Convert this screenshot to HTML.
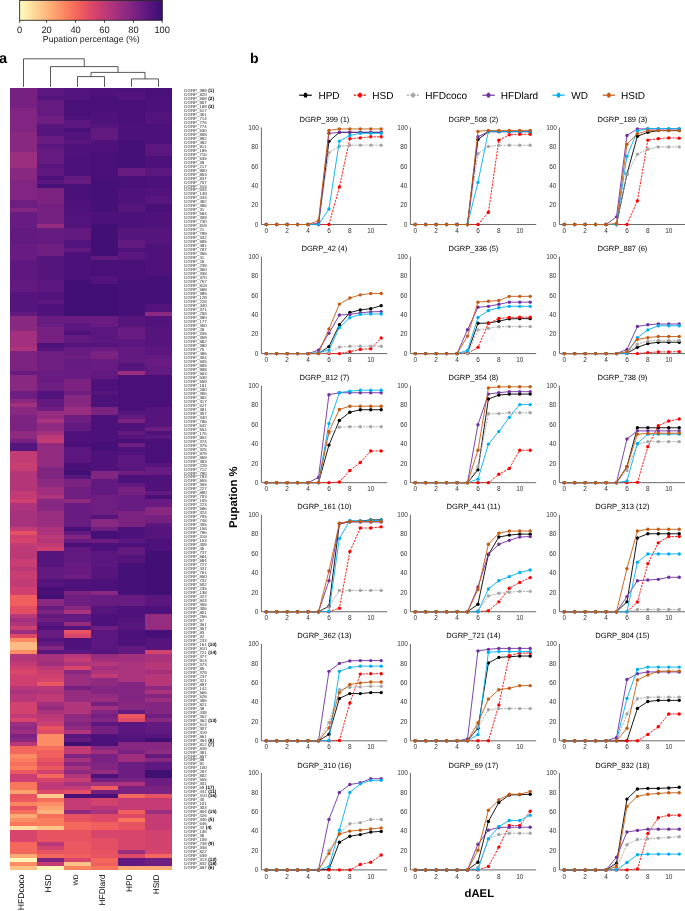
<!DOCTYPE html>
<html><head><meta charset="utf-8"><title>Figure</title>
<style>html,body{margin:0;padding:0;background:#fff}svg{display:block;will-change:transform}text{font-family:"Liberation Sans",sans-serif;text-rendering:geometricPrecision}.tk text{text-rendering:auto}</style></head>
<body>
<svg width="685" height="911" viewBox="0 0 685 911" font-family="Liberation Sans, sans-serif">
<rect width="685" height="911" fill="#fff"/>
<defs><linearGradient id="cb" x1="0" x2="1" y1="0" y2="0">
<stop offset="0%" stop-color="#fcfdbf"/>
<stop offset="5%" stop-color="#fdebac"/>
<stop offset="10%" stop-color="#fed89a"/>
<stop offset="15%" stop-color="#fec68a"/>
<stop offset="20%" stop-color="#feb47b"/>
<stop offset="25%" stop-color="#fe9f6d"/>
<stop offset="30%" stop-color="#fc8c63"/>
<stop offset="35%" stop-color="#f9795d"/>
<stop offset="40%" stop-color="#f4675c"/>
<stop offset="45%" stop-color="#ea5661"/>
<stop offset="50%" stop-color="#de4968"/>
<stop offset="55%" stop-color="#cf4070"/>
<stop offset="60%" stop-color="#bf3a77"/>
<stop offset="65%" stop-color="#ad347c"/>
<stop offset="70%" stop-color="#9c2e7f"/>
<stop offset="75%" stop-color="#8c2981"/>
<stop offset="80%" stop-color="#7c2382"/>
<stop offset="85%" stop-color="#6b1d81"/>
<stop offset="90%" stop-color="#5c167f"/>
<stop offset="95%" stop-color="#4c117a"/>
<stop offset="100%" stop-color="#3b0f70"/>
</linearGradient></defs>
<rect x="19.7" y="0.35" width="142.6" height="19.9" fill="url(#cb)" stroke="#111" stroke-width="0.8"/>
<line x1="19.7" y1="20.2" x2="19.7" y2="22.9" stroke="#000" stroke-width="0.7"/>
<text x="19.7" y="32.9" font-size="9.3" text-anchor="middle" fill="#1a1a1a">0</text>
<line x1="46.6" y1="20.2" x2="46.6" y2="22.9" stroke="#000" stroke-width="0.7"/>
<text x="46.6" y="32.9" font-size="9.3" text-anchor="middle" fill="#1a1a1a">20</text>
<line x1="75.6" y1="20.2" x2="75.6" y2="22.9" stroke="#000" stroke-width="0.7"/>
<text x="75.6" y="32.9" font-size="9.3" text-anchor="middle" fill="#1a1a1a">40</text>
<line x1="104.5" y1="20.2" x2="104.5" y2="22.9" stroke="#000" stroke-width="0.7"/>
<text x="104.5" y="32.9" font-size="9.3" text-anchor="middle" fill="#1a1a1a">60</text>
<line x1="133.4" y1="20.2" x2="133.4" y2="22.9" stroke="#000" stroke-width="0.7"/>
<text x="133.4" y="32.9" font-size="9.3" text-anchor="middle" fill="#1a1a1a">80</text>
<line x1="162.2" y1="20.2" x2="162.2" y2="22.9" stroke="#000" stroke-width="0.7"/>
<text x="162.2" y="32.9" font-size="9.3" text-anchor="middle" fill="#1a1a1a">100</text>
<text x="91.2" y="41.6" font-size="8.75" text-anchor="middle" fill="#1a1a1a">Pupation percentage (%)</text>
<text x="-0.9" y="63.2" font-size="14.6" font-weight="bold" fill="#000">a</text>
<text x="249.9" y="63.2" font-size="14" font-weight="bold" fill="#000">b</text>
<path d="M77.50 86.90V76.60H104.50V86.90M131.50 86.90V78.90H158.50V86.90M91.00 76.60V72.40H145.00V78.90M50.50 86.90V66.60H118.00V72.40M23.50 86.90V58.80H84.25V66.60" fill="none" stroke="#222" stroke-width="0.75"/>
<g shape-rendering="crispEdges">
<rect x="10.00" y="88.30" width="27.05" height="19.98" fill="#762181"/>
<rect x="10.00" y="108.23" width="27.05" height="23.97" fill="#802582"/>
<rect x="10.00" y="132.15" width="27.05" height="19.98" fill="#892881"/>
<rect x="10.00" y="152.08" width="27.05" height="15.99" fill="#9c2e7f"/>
<rect x="10.00" y="168.02" width="27.05" height="12.01" fill="#892881"/>
<rect x="10.00" y="179.98" width="27.05" height="19.98" fill="#802582"/>
<rect x="10.00" y="199.91" width="27.05" height="8.02" fill="#6e1e81"/>
<rect x="10.00" y="207.88" width="27.05" height="4.04" fill="#832681"/>
<rect x="10.00" y="211.87" width="27.05" height="15.99" fill="#681c81"/>
<rect x="10.00" y="227.81" width="27.05" height="15.99" fill="#621980"/>
<rect x="10.00" y="243.75" width="27.05" height="15.99" fill="#681c81"/>
<rect x="10.00" y="259.70" width="27.05" height="19.98" fill="#5f187f"/>
<rect x="10.00" y="279.63" width="27.05" height="12.01" fill="#621980"/>
<rect x="10.00" y="291.59" width="27.05" height="19.98" fill="#56147d"/>
<rect x="10.00" y="311.52" width="27.05" height="4.04" fill="#621980"/>
<rect x="10.00" y="315.50" width="27.05" height="15.99" fill="#892881"/>
<rect x="10.00" y="331.45" width="27.05" height="15.99" fill="#a3307e"/>
<rect x="10.00" y="347.39" width="27.05" height="4.04" fill="#ad347c"/>
<rect x="10.00" y="351.38" width="27.05" height="19.98" fill="#7c2382"/>
<rect x="10.00" y="371.31" width="27.05" height="4.04" fill="#681c81"/>
<rect x="10.00" y="375.29" width="27.05" height="15.99" fill="#892881"/>
<rect x="10.00" y="391.24" width="27.05" height="8.02" fill="#6e1e81"/>
<rect x="10.00" y="399.21" width="27.05" height="4.04" fill="#892881"/>
<rect x="10.00" y="403.19" width="27.05" height="4.04" fill="#a3307e"/>
<rect x="10.00" y="407.18" width="27.05" height="8.02" fill="#892881"/>
<rect x="10.00" y="415.15" width="27.05" height="15.99" fill="#7c2382"/>
<rect x="10.00" y="431.10" width="27.05" height="8.02" fill="#902a81"/>
<rect x="10.00" y="439.07" width="27.05" height="4.04" fill="#762181"/>
<rect x="10.00" y="443.05" width="27.05" height="8.02" fill="#56147d"/>
<rect x="10.00" y="451.03" width="27.05" height="12.01" fill="#c23b75"/>
<rect x="10.00" y="462.98" width="27.05" height="8.02" fill="#c83e73"/>
<rect x="10.00" y="470.96" width="27.05" height="19.98" fill="#b3367a"/>
<rect x="10.00" y="490.89" width="27.05" height="8.02" fill="#c23b75"/>
<rect x="10.00" y="498.86" width="27.05" height="4.04" fill="#cf4070"/>
<rect x="10.00" y="502.84" width="27.05" height="8.02" fill="#ad347c"/>
<rect x="10.00" y="510.82" width="27.05" height="15.99" fill="#a6317d"/>
<rect x="10.00" y="526.76" width="27.05" height="4.04" fill="#c23b75"/>
<rect x="10.00" y="530.75" width="27.05" height="4.04" fill="#e55064"/>
<rect x="10.00" y="534.73" width="27.05" height="4.04" fill="#cf4070"/>
<rect x="10.00" y="538.72" width="27.05" height="4.04" fill="#d5446d"/>
<rect x="10.00" y="542.70" width="27.05" height="4.04" fill="#c23b75"/>
<rect x="10.00" y="546.69" width="27.05" height="12.01" fill="#bc3978"/>
<rect x="10.00" y="558.65" width="27.05" height="8.02" fill="#c83e73"/>
<rect x="10.00" y="566.62" width="27.05" height="4.04" fill="#bc3978"/>
<rect x="10.00" y="570.61" width="27.05" height="8.02" fill="#c83e73"/>
<rect x="10.00" y="578.58" width="27.05" height="8.02" fill="#c23b75"/>
<rect x="10.00" y="586.55" width="27.05" height="8.02" fill="#cf4070"/>
<rect x="10.00" y="594.52" width="27.05" height="12.01" fill="#f05f5e"/>
<rect x="10.00" y="606.48" width="27.05" height="8.02" fill="#e34e65"/>
<rect x="10.00" y="614.45" width="27.05" height="4.04" fill="#b83779"/>
<rect x="10.00" y="618.44" width="27.05" height="4.04" fill="#a3307e"/>
<rect x="10.00" y="622.42" width="27.05" height="4.04" fill="#b0357b"/>
<rect x="10.00" y="626.41" width="27.05" height="4.04" fill="#cc3f71"/>
<rect x="10.00" y="630.40" width="27.05" height="4.04" fill="#9c2e7f"/>
<rect x="10.00" y="634.38" width="27.05" height="4.04" fill="#de4968"/>
<rect x="10.00" y="638.37" width="27.05" height="4.04" fill="#fc8c63"/>
<rect x="10.00" y="642.35" width="27.05" height="8.02" fill="#febb81"/>
<rect x="10.00" y="650.33" width="27.05" height="4.04" fill="#fc8c63"/>
<rect x="10.00" y="654.31" width="27.05" height="8.02" fill="#b3367a"/>
<rect x="10.00" y="662.28" width="27.05" height="4.04" fill="#c23b75"/>
<rect x="10.00" y="666.27" width="27.05" height="4.04" fill="#cf4070"/>
<rect x="10.00" y="670.26" width="27.05" height="4.04" fill="#db476a"/>
<rect x="10.00" y="674.24" width="27.05" height="12.01" fill="#cf4070"/>
<rect x="10.00" y="686.20" width="27.05" height="4.04" fill="#b83779"/>
<rect x="10.00" y="690.19" width="27.05" height="4.04" fill="#aa337d"/>
<rect x="10.00" y="694.17" width="27.05" height="8.02" fill="#b83779"/>
<rect x="10.00" y="702.14" width="27.05" height="12.01" fill="#d2426f"/>
<rect x="10.00" y="714.10" width="27.05" height="4.04" fill="#bf3a77"/>
<rect x="10.00" y="718.09" width="27.05" height="4.04" fill="#d8456c"/>
<rect x="10.00" y="722.07" width="27.05" height="4.04" fill="#9c2e7f"/>
<rect x="10.00" y="726.06" width="27.05" height="4.04" fill="#902a81"/>
<rect x="10.00" y="730.05" width="27.05" height="4.04" fill="#9c2e7f"/>
<rect x="10.00" y="734.03" width="27.05" height="4.04" fill="#7c2382"/>
<rect x="10.00" y="738.02" width="27.05" height="4.04" fill="#892881"/>
<rect x="10.00" y="742.00" width="27.05" height="4.04" fill="#b83779"/>
<rect x="10.00" y="745.99" width="27.05" height="8.02" fill="#f4675c"/>
<rect x="10.00" y="753.96" width="27.05" height="4.04" fill="#fc8c63"/>
<rect x="10.00" y="757.95" width="27.05" height="4.04" fill="#fa7d5e"/>
<rect x="10.00" y="761.93" width="27.05" height="4.04" fill="#f66e5c"/>
<rect x="10.00" y="765.92" width="27.05" height="4.04" fill="#fa7d5e"/>
<rect x="10.00" y="769.91" width="27.05" height="4.04" fill="#ec5860"/>
<rect x="10.00" y="773.89" width="27.05" height="8.02" fill="#cc3f71"/>
<rect x="10.00" y="781.86" width="27.05" height="8.02" fill="#f8765c"/>
<rect x="10.00" y="789.84" width="27.05" height="4.04" fill="#fea36f"/>
<rect x="10.00" y="793.82" width="27.05" height="4.04" fill="#e85362"/>
<rect x="10.00" y="797.81" width="27.05" height="4.04" fill="#ec5860"/>
<rect x="10.00" y="801.79" width="27.05" height="4.04" fill="#fb8560"/>
<rect x="10.00" y="805.78" width="27.05" height="4.04" fill="#e85362"/>
<rect x="10.00" y="809.77" width="27.05" height="4.04" fill="#f66e5c"/>
<rect x="10.00" y="813.75" width="27.05" height="4.04" fill="#feaa74"/>
<rect x="10.00" y="817.74" width="27.05" height="4.04" fill="#fc8c63"/>
<rect x="10.00" y="821.72" width="27.05" height="4.04" fill="#f8765c"/>
<rect x="10.00" y="825.71" width="27.05" height="4.04" fill="#fde0a1"/>
<rect x="10.00" y="829.70" width="27.05" height="12.01" fill="#d8456c"/>
<rect x="10.00" y="841.65" width="27.05" height="12.01" fill="#f4675c"/>
<rect x="10.00" y="853.61" width="27.05" height="4.04" fill="#feaa74"/>
<rect x="10.00" y="857.60" width="27.05" height="4.04" fill="#fcf6b8"/>
<rect x="10.00" y="861.58" width="27.05" height="4.04" fill="#fc8c63"/>
<rect x="10.00" y="865.57" width="27.05" height="4.04" fill="#fec287"/>
<rect x="37.00" y="88.30" width="27.05" height="8.02" fill="#5c167f"/>
<rect x="37.00" y="96.27" width="27.05" height="4.04" fill="#52137c"/>
<rect x="37.00" y="100.26" width="27.05" height="15.99" fill="#651a80"/>
<rect x="37.00" y="116.20" width="27.05" height="8.02" fill="#6e1e81"/>
<rect x="37.00" y="124.17" width="27.05" height="12.01" fill="#56147d"/>
<rect x="37.00" y="136.13" width="27.05" height="8.02" fill="#681c81"/>
<rect x="37.00" y="144.10" width="27.05" height="4.04" fill="#5c167f"/>
<rect x="37.00" y="148.09" width="27.05" height="15.99" fill="#651a80"/>
<rect x="37.00" y="164.03" width="27.05" height="4.04" fill="#59157e"/>
<rect x="37.00" y="168.02" width="27.05" height="8.02" fill="#5f187f"/>
<rect x="37.00" y="175.99" width="27.05" height="4.04" fill="#4c117a"/>
<rect x="37.00" y="179.98" width="27.05" height="4.04" fill="#5c167f"/>
<rect x="37.00" y="183.96" width="27.05" height="4.04" fill="#451077"/>
<rect x="37.00" y="187.95" width="27.05" height="15.99" fill="#7c2382"/>
<rect x="37.00" y="203.89" width="27.05" height="19.98" fill="#762181"/>
<rect x="37.00" y="223.82" width="27.05" height="4.04" fill="#962c80"/>
<rect x="37.00" y="227.81" width="27.05" height="15.99" fill="#651a80"/>
<rect x="37.00" y="243.75" width="27.05" height="12.01" fill="#6e1e81"/>
<rect x="37.00" y="255.71" width="27.05" height="23.97" fill="#56147d"/>
<rect x="37.00" y="279.63" width="27.05" height="12.01" fill="#5c167f"/>
<rect x="37.00" y="291.59" width="27.05" height="8.02" fill="#52137c"/>
<rect x="37.00" y="299.56" width="27.05" height="4.04" fill="#5c167f"/>
<rect x="37.00" y="303.54" width="27.05" height="12.01" fill="#4f127b"/>
<rect x="37.00" y="315.50" width="27.05" height="12.01" fill="#681c81"/>
<rect x="37.00" y="327.46" width="27.05" height="15.99" fill="#762181"/>
<rect x="37.00" y="343.40" width="27.05" height="4.04" fill="#4c117a"/>
<rect x="37.00" y="347.39" width="27.05" height="4.04" fill="#56147d"/>
<rect x="37.00" y="351.38" width="27.05" height="19.98" fill="#6e1e81"/>
<rect x="37.00" y="371.31" width="27.05" height="12.01" fill="#681c81"/>
<rect x="37.00" y="383.26" width="27.05" height="8.02" fill="#6e1e81"/>
<rect x="37.00" y="391.24" width="27.05" height="8.02" fill="#52137c"/>
<rect x="37.00" y="399.21" width="27.05" height="8.02" fill="#621980"/>
<rect x="37.00" y="407.18" width="27.05" height="4.04" fill="#6e1e81"/>
<rect x="37.00" y="411.17" width="27.05" height="8.02" fill="#962c80"/>
<rect x="37.00" y="419.14" width="27.05" height="4.04" fill="#aa337d"/>
<rect x="37.00" y="423.12" width="27.05" height="8.02" fill="#902a81"/>
<rect x="37.00" y="431.10" width="27.05" height="4.04" fill="#a6317d"/>
<rect x="37.00" y="435.08" width="27.05" height="4.04" fill="#bc3978"/>
<rect x="37.00" y="439.07" width="27.05" height="4.04" fill="#c23b75"/>
<rect x="37.00" y="443.05" width="27.05" height="23.97" fill="#932b80"/>
<rect x="37.00" y="466.97" width="27.05" height="12.01" fill="#802582"/>
<rect x="37.00" y="478.93" width="27.05" height="8.02" fill="#8c2981"/>
<rect x="37.00" y="486.90" width="27.05" height="8.02" fill="#a02f7f"/>
<rect x="37.00" y="494.87" width="27.05" height="4.04" fill="#ad347c"/>
<rect x="37.00" y="498.86" width="27.05" height="12.01" fill="#862781"/>
<rect x="37.00" y="510.82" width="27.05" height="15.99" fill="#992d80"/>
<rect x="37.00" y="526.76" width="27.05" height="8.02" fill="#ad347c"/>
<rect x="37.00" y="534.73" width="27.05" height="4.04" fill="#bc3978"/>
<rect x="37.00" y="538.72" width="27.05" height="4.04" fill="#b3367a"/>
<rect x="37.00" y="542.70" width="27.05" height="4.04" fill="#c23b75"/>
<rect x="37.00" y="546.69" width="27.05" height="4.04" fill="#cf4070"/>
<rect x="37.00" y="550.68" width="27.05" height="15.99" fill="#56147d"/>
<rect x="37.00" y="566.62" width="27.05" height="12.01" fill="#621980"/>
<rect x="37.00" y="578.58" width="27.05" height="8.02" fill="#56147d"/>
<rect x="37.00" y="586.55" width="27.05" height="8.02" fill="#491078"/>
<rect x="37.00" y="594.52" width="27.05" height="4.04" fill="#420f75"/>
<rect x="37.00" y="598.51" width="27.05" height="8.02" fill="#892881"/>
<rect x="37.00" y="606.48" width="27.05" height="4.04" fill="#681c81"/>
<rect x="37.00" y="610.47" width="27.05" height="4.04" fill="#7c2382"/>
<rect x="37.00" y="614.45" width="27.05" height="4.04" fill="#621980"/>
<rect x="37.00" y="618.44" width="27.05" height="4.04" fill="#6e1e81"/>
<rect x="37.00" y="622.42" width="27.05" height="4.04" fill="#5c167f"/>
<rect x="37.00" y="626.41" width="27.05" height="4.04" fill="#4f127b"/>
<rect x="37.00" y="630.40" width="27.05" height="8.02" fill="#681c81"/>
<rect x="37.00" y="638.37" width="27.05" height="4.04" fill="#56147d"/>
<rect x="37.00" y="642.35" width="27.05" height="4.04" fill="#621980"/>
<rect x="37.00" y="646.34" width="27.05" height="4.04" fill="#832681"/>
<rect x="37.00" y="650.33" width="27.05" height="4.04" fill="#56147d"/>
<rect x="37.00" y="654.31" width="27.05" height="8.02" fill="#a6317d"/>
<rect x="37.00" y="662.28" width="27.05" height="4.04" fill="#a02f7f"/>
<rect x="37.00" y="666.27" width="27.05" height="4.04" fill="#bc3978"/>
<rect x="37.00" y="670.26" width="27.05" height="4.04" fill="#c83e73"/>
<rect x="37.00" y="674.24" width="27.05" height="4.04" fill="#cf4070"/>
<rect x="37.00" y="678.23" width="27.05" height="4.04" fill="#d5446d"/>
<rect x="37.00" y="682.21" width="27.05" height="4.04" fill="#ea5661"/>
<rect x="37.00" y="686.20" width="27.05" height="4.04" fill="#b83779"/>
<rect x="37.00" y="690.19" width="27.05" height="4.04" fill="#b0357b"/>
<rect x="37.00" y="694.17" width="27.05" height="8.02" fill="#bf3a77"/>
<rect x="37.00" y="702.14" width="27.05" height="4.04" fill="#a3307e"/>
<rect x="37.00" y="706.13" width="27.05" height="4.04" fill="#962c80"/>
<rect x="37.00" y="710.12" width="27.05" height="4.04" fill="#aa337d"/>
<rect x="37.00" y="714.10" width="27.05" height="4.04" fill="#b83779"/>
<rect x="37.00" y="718.09" width="27.05" height="4.04" fill="#bf3a77"/>
<rect x="37.00" y="722.07" width="27.05" height="4.04" fill="#cc3f71"/>
<rect x="37.00" y="726.06" width="27.05" height="4.04" fill="#e85362"/>
<rect x="37.00" y="730.05" width="27.05" height="4.04" fill="#de4968"/>
<rect x="37.00" y="734.03" width="27.05" height="12.01" fill="#fc8c63"/>
<rect x="37.00" y="745.99" width="27.05" height="4.04" fill="#f66e5c"/>
<rect x="37.00" y="749.98" width="27.05" height="8.02" fill="#f05f5e"/>
<rect x="37.00" y="757.95" width="27.05" height="4.04" fill="#e85362"/>
<rect x="37.00" y="761.93" width="27.05" height="4.04" fill="#de4968"/>
<rect x="37.00" y="765.92" width="27.05" height="4.04" fill="#ec5860"/>
<rect x="37.00" y="769.91" width="27.05" height="4.04" fill="#d2426f"/>
<rect x="37.00" y="773.89" width="27.05" height="4.04" fill="#f4675c"/>
<rect x="37.00" y="777.88" width="27.05" height="4.04" fill="#d8456c"/>
<rect x="37.00" y="781.86" width="27.05" height="8.02" fill="#bf3a77"/>
<rect x="37.00" y="789.84" width="27.05" height="4.04" fill="#de4968"/>
<rect x="37.00" y="793.82" width="27.05" height="4.04" fill="#feca8d"/>
<rect x="37.00" y="797.81" width="27.05" height="4.04" fill="#f66e5c"/>
<rect x="37.00" y="801.79" width="27.05" height="4.04" fill="#fc8c63"/>
<rect x="37.00" y="805.78" width="27.05" height="4.04" fill="#fea36f"/>
<rect x="37.00" y="809.77" width="27.05" height="4.04" fill="#feb47b"/>
<rect x="37.00" y="813.75" width="27.05" height="4.04" fill="#f66e5c"/>
<rect x="37.00" y="817.74" width="27.05" height="8.02" fill="#fa7d5e"/>
<rect x="37.00" y="825.71" width="27.05" height="4.04" fill="#fec287"/>
<rect x="37.00" y="829.70" width="27.05" height="12.01" fill="#e85362"/>
<rect x="37.00" y="841.65" width="27.05" height="4.04" fill="#b83779"/>
<rect x="37.00" y="845.64" width="27.05" height="4.04" fill="#d2426f"/>
<rect x="37.00" y="849.63" width="27.05" height="4.04" fill="#e85362"/>
<rect x="37.00" y="853.61" width="27.05" height="4.04" fill="#f4675c"/>
<rect x="37.00" y="857.60" width="27.05" height="4.04" fill="#7c2382"/>
<rect x="37.00" y="861.58" width="27.05" height="4.04" fill="#c53c74"/>
<rect x="37.00" y="865.57" width="27.05" height="4.04" fill="#fcf6b8"/>
<rect x="64.00" y="88.30" width="27.05" height="12.01" fill="#52137c"/>
<rect x="64.00" y="100.26" width="27.05" height="15.99" fill="#491078"/>
<rect x="64.00" y="116.20" width="27.05" height="4.04" fill="#4f127b"/>
<rect x="64.00" y="120.19" width="27.05" height="8.02" fill="#5c167f"/>
<rect x="64.00" y="128.16" width="27.05" height="4.04" fill="#491078"/>
<rect x="64.00" y="132.15" width="27.05" height="8.02" fill="#52137c"/>
<rect x="64.00" y="140.12" width="27.05" height="4.04" fill="#59157e"/>
<rect x="64.00" y="144.10" width="27.05" height="12.01" fill="#4f127b"/>
<rect x="64.00" y="156.06" width="27.05" height="19.98" fill="#4c117a"/>
<rect x="64.00" y="175.99" width="27.05" height="4.04" fill="#621980"/>
<rect x="64.00" y="179.98" width="27.05" height="4.04" fill="#681c81"/>
<rect x="64.00" y="183.96" width="27.05" height="15.99" fill="#491078"/>
<rect x="64.00" y="199.91" width="27.05" height="12.01" fill="#4f127b"/>
<rect x="64.00" y="211.87" width="27.05" height="15.99" fill="#52137c"/>
<rect x="64.00" y="227.81" width="27.05" height="12.01" fill="#621980"/>
<rect x="64.00" y="239.77" width="27.05" height="8.02" fill="#52137c"/>
<rect x="64.00" y="247.74" width="27.05" height="4.04" fill="#621980"/>
<rect x="64.00" y="251.73" width="27.05" height="27.95" fill="#4c117a"/>
<rect x="64.00" y="279.63" width="27.05" height="35.92" fill="#420f75"/>
<rect x="64.00" y="315.50" width="27.05" height="8.02" fill="#681c81"/>
<rect x="64.00" y="323.47" width="27.05" height="8.02" fill="#5c167f"/>
<rect x="64.00" y="331.45" width="27.05" height="4.04" fill="#4f127b"/>
<rect x="64.00" y="335.43" width="27.05" height="8.02" fill="#621980"/>
<rect x="64.00" y="343.40" width="27.05" height="4.04" fill="#56147d"/>
<rect x="64.00" y="347.39" width="27.05" height="8.02" fill="#681c81"/>
<rect x="64.00" y="355.36" width="27.05" height="4.04" fill="#6e1e81"/>
<rect x="64.00" y="359.35" width="27.05" height="12.01" fill="#651a80"/>
<rect x="64.00" y="371.31" width="27.05" height="8.02" fill="#681c81"/>
<rect x="64.00" y="379.28" width="27.05" height="12.01" fill="#7c2382"/>
<rect x="64.00" y="391.24" width="27.05" height="4.04" fill="#6e1e81"/>
<rect x="64.00" y="395.22" width="27.05" height="12.01" fill="#862781"/>
<rect x="64.00" y="407.18" width="27.05" height="8.02" fill="#992d80"/>
<rect x="64.00" y="415.15" width="27.05" height="8.02" fill="#6e1e81"/>
<rect x="64.00" y="423.12" width="27.05" height="8.02" fill="#621980"/>
<rect x="64.00" y="431.10" width="27.05" height="12.01" fill="#4f127b"/>
<rect x="64.00" y="443.05" width="27.05" height="4.04" fill="#491078"/>
<rect x="64.00" y="447.04" width="27.05" height="15.99" fill="#5c167f"/>
<rect x="64.00" y="462.98" width="27.05" height="8.02" fill="#491078"/>
<rect x="64.00" y="470.96" width="27.05" height="4.04" fill="#420f75"/>
<rect x="64.00" y="474.94" width="27.05" height="4.04" fill="#56147d"/>
<rect x="64.00" y="478.93" width="27.05" height="8.02" fill="#7c2382"/>
<rect x="64.00" y="486.90" width="27.05" height="12.01" fill="#6e1e81"/>
<rect x="64.00" y="498.86" width="27.05" height="4.04" fill="#902a81"/>
<rect x="64.00" y="502.84" width="27.05" height="23.97" fill="#681c81"/>
<rect x="64.00" y="526.76" width="27.05" height="4.04" fill="#491078"/>
<rect x="64.00" y="530.75" width="27.05" height="4.04" fill="#621980"/>
<rect x="64.00" y="534.73" width="27.05" height="4.04" fill="#832681"/>
<rect x="64.00" y="538.72" width="27.05" height="4.04" fill="#681c81"/>
<rect x="64.00" y="542.70" width="27.05" height="4.04" fill="#491078"/>
<rect x="64.00" y="546.69" width="27.05" height="15.99" fill="#621980"/>
<rect x="64.00" y="562.63" width="27.05" height="12.01" fill="#681c81"/>
<rect x="64.00" y="574.59" width="27.05" height="4.04" fill="#6e1e81"/>
<rect x="64.00" y="578.58" width="27.05" height="12.01" fill="#4f127b"/>
<rect x="64.00" y="590.54" width="27.05" height="4.04" fill="#7c2382"/>
<rect x="64.00" y="594.52" width="27.05" height="12.01" fill="#6e1e81"/>
<rect x="64.00" y="606.48" width="27.05" height="4.04" fill="#892881"/>
<rect x="64.00" y="610.47" width="27.05" height="4.04" fill="#aa337d"/>
<rect x="64.00" y="614.45" width="27.05" height="8.02" fill="#621980"/>
<rect x="64.00" y="622.42" width="27.05" height="4.04" fill="#962c80"/>
<rect x="64.00" y="626.41" width="27.05" height="4.04" fill="#56147d"/>
<rect x="64.00" y="630.40" width="27.05" height="4.04" fill="#e85362"/>
<rect x="64.00" y="634.38" width="27.05" height="4.04" fill="#d8456c"/>
<rect x="64.00" y="638.37" width="27.05" height="12.01" fill="#4f127b"/>
<rect x="64.00" y="650.33" width="27.05" height="4.04" fill="#5c167f"/>
<rect x="64.00" y="654.31" width="27.05" height="4.04" fill="#b83779"/>
<rect x="64.00" y="658.30" width="27.05" height="4.04" fill="#c53c74"/>
<rect x="64.00" y="662.28" width="27.05" height="4.04" fill="#b0357b"/>
<rect x="64.00" y="666.27" width="27.05" height="4.04" fill="#d8456c"/>
<rect x="64.00" y="670.26" width="27.05" height="4.04" fill="#892881"/>
<rect x="64.00" y="674.24" width="27.05" height="12.01" fill="#9c2e7f"/>
<rect x="64.00" y="686.20" width="27.05" height="4.04" fill="#762181"/>
<rect x="64.00" y="690.19" width="27.05" height="12.01" fill="#962c80"/>
<rect x="64.00" y="702.14" width="27.05" height="12.01" fill="#b0357b"/>
<rect x="64.00" y="714.10" width="27.05" height="8.02" fill="#902a81"/>
<rect x="64.00" y="722.07" width="27.05" height="4.04" fill="#832681"/>
<rect x="64.00" y="726.06" width="27.05" height="4.04" fill="#902a81"/>
<rect x="64.00" y="730.05" width="27.05" height="4.04" fill="#b0357b"/>
<rect x="64.00" y="734.03" width="27.05" height="4.04" fill="#5c167f"/>
<rect x="64.00" y="738.02" width="27.05" height="4.04" fill="#651a80"/>
<rect x="64.00" y="742.00" width="27.05" height="4.04" fill="#3f0f72"/>
<rect x="64.00" y="745.99" width="27.05" height="8.02" fill="#c23b75"/>
<rect x="64.00" y="753.96" width="27.05" height="4.04" fill="#802582"/>
<rect x="64.00" y="757.95" width="27.05" height="4.04" fill="#a6317d"/>
<rect x="64.00" y="761.93" width="27.05" height="4.04" fill="#862781"/>
<rect x="64.00" y="765.92" width="27.05" height="4.04" fill="#a6317d"/>
<rect x="64.00" y="769.91" width="27.05" height="4.04" fill="#8c2981"/>
<rect x="64.00" y="773.89" width="27.05" height="4.04" fill="#b3367a"/>
<rect x="64.00" y="777.88" width="27.05" height="4.04" fill="#c83e73"/>
<rect x="64.00" y="781.86" width="27.05" height="4.04" fill="#a6317d"/>
<rect x="64.00" y="785.85" width="27.05" height="4.04" fill="#c23b75"/>
<rect x="64.00" y="789.84" width="27.05" height="4.04" fill="#e55064"/>
<rect x="64.00" y="793.82" width="27.05" height="4.04" fill="#491078"/>
<rect x="64.00" y="797.81" width="27.05" height="12.01" fill="#c53c74"/>
<rect x="64.00" y="809.77" width="27.05" height="4.04" fill="#902a81"/>
<rect x="64.00" y="813.75" width="27.05" height="8.02" fill="#e85362"/>
<rect x="64.00" y="821.72" width="27.05" height="8.02" fill="#f4675c"/>
<rect x="64.00" y="829.70" width="27.05" height="12.01" fill="#e85362"/>
<rect x="64.00" y="841.65" width="27.05" height="12.01" fill="#ec5860"/>
<rect x="64.00" y="853.61" width="27.05" height="4.04" fill="#f05f5e"/>
<rect x="64.00" y="857.60" width="27.05" height="4.04" fill="#d8456c"/>
<rect x="64.00" y="861.58" width="27.05" height="4.04" fill="#fec287"/>
<rect x="64.00" y="865.57" width="27.05" height="4.04" fill="#fb8560"/>
<rect x="91.00" y="88.30" width="27.05" height="8.02" fill="#4f127b"/>
<rect x="91.00" y="96.27" width="27.05" height="15.99" fill="#491078"/>
<rect x="91.00" y="112.22" width="27.05" height="12.01" fill="#4f127b"/>
<rect x="91.00" y="124.17" width="27.05" height="4.04" fill="#56147d"/>
<rect x="91.00" y="128.16" width="27.05" height="12.01" fill="#621980"/>
<rect x="91.00" y="140.12" width="27.05" height="12.01" fill="#4f127b"/>
<rect x="91.00" y="152.08" width="27.05" height="27.95" fill="#491078"/>
<rect x="91.00" y="179.98" width="27.05" height="31.94" fill="#451077"/>
<rect x="91.00" y="211.87" width="27.05" height="12.01" fill="#4c117a"/>
<rect x="91.00" y="223.82" width="27.05" height="31.94" fill="#420f75"/>
<rect x="91.00" y="255.71" width="27.05" height="4.04" fill="#621980"/>
<rect x="91.00" y="259.70" width="27.05" height="15.99" fill="#491078"/>
<rect x="91.00" y="275.64" width="27.05" height="8.02" fill="#52137c"/>
<rect x="91.00" y="283.61" width="27.05" height="31.94" fill="#420f75"/>
<rect x="91.00" y="315.50" width="27.05" height="12.01" fill="#681c81"/>
<rect x="91.00" y="327.46" width="27.05" height="15.99" fill="#5c167f"/>
<rect x="91.00" y="343.40" width="27.05" height="4.04" fill="#56147d"/>
<rect x="91.00" y="347.39" width="27.05" height="4.04" fill="#681c81"/>
<rect x="91.00" y="351.38" width="27.05" height="8.02" fill="#7c2382"/>
<rect x="91.00" y="359.35" width="27.05" height="12.01" fill="#681c81"/>
<rect x="91.00" y="371.31" width="27.05" height="8.02" fill="#621980"/>
<rect x="91.00" y="379.28" width="27.05" height="12.01" fill="#4f127b"/>
<rect x="91.00" y="391.24" width="27.05" height="4.04" fill="#56147d"/>
<rect x="91.00" y="395.22" width="27.05" height="12.01" fill="#4c117a"/>
<rect x="91.00" y="407.18" width="27.05" height="8.02" fill="#7c2382"/>
<rect x="91.00" y="415.15" width="27.05" height="27.95" fill="#4c117a"/>
<rect x="91.00" y="443.05" width="27.05" height="8.02" fill="#451077"/>
<rect x="91.00" y="451.03" width="27.05" height="19.98" fill="#4f127b"/>
<rect x="91.00" y="470.96" width="27.05" height="8.02" fill="#832681"/>
<rect x="91.00" y="478.93" width="27.05" height="15.99" fill="#621980"/>
<rect x="91.00" y="494.87" width="27.05" height="19.98" fill="#6e1e81"/>
<rect x="91.00" y="514.80" width="27.05" height="4.04" fill="#56147d"/>
<rect x="91.00" y="518.79" width="27.05" height="8.02" fill="#892881"/>
<rect x="91.00" y="526.76" width="27.05" height="4.04" fill="#6e1e81"/>
<rect x="91.00" y="530.75" width="27.05" height="8.02" fill="#451077"/>
<rect x="91.00" y="538.72" width="27.05" height="4.04" fill="#6e1e81"/>
<rect x="91.00" y="542.70" width="27.05" height="8.02" fill="#4c117a"/>
<rect x="91.00" y="550.68" width="27.05" height="15.99" fill="#5c167f"/>
<rect x="91.00" y="566.62" width="27.05" height="12.01" fill="#56147d"/>
<rect x="91.00" y="578.58" width="27.05" height="12.01" fill="#4c117a"/>
<rect x="91.00" y="590.54" width="27.05" height="4.04" fill="#892881"/>
<rect x="91.00" y="594.52" width="27.05" height="12.01" fill="#681c81"/>
<rect x="91.00" y="606.48" width="27.05" height="8.02" fill="#56147d"/>
<rect x="91.00" y="614.45" width="27.05" height="12.01" fill="#4c117a"/>
<rect x="91.00" y="626.41" width="27.05" height="4.04" fill="#6e1e81"/>
<rect x="91.00" y="630.40" width="27.05" height="19.98" fill="#5c167f"/>
<rect x="91.00" y="650.33" width="27.05" height="4.04" fill="#56147d"/>
<rect x="91.00" y="654.31" width="27.05" height="4.04" fill="#962c80"/>
<rect x="91.00" y="658.30" width="27.05" height="4.04" fill="#a3307e"/>
<rect x="91.00" y="662.28" width="27.05" height="4.04" fill="#b83779"/>
<rect x="91.00" y="666.27" width="27.05" height="4.04" fill="#a3307e"/>
<rect x="91.00" y="670.26" width="27.05" height="4.04" fill="#b0357b"/>
<rect x="91.00" y="674.24" width="27.05" height="4.04" fill="#bf3a77"/>
<rect x="91.00" y="678.23" width="27.05" height="8.02" fill="#902a81"/>
<rect x="91.00" y="686.20" width="27.05" height="8.02" fill="#832681"/>
<rect x="91.00" y="694.17" width="27.05" height="4.04" fill="#962c80"/>
<rect x="91.00" y="698.16" width="27.05" height="4.04" fill="#9c2e7f"/>
<rect x="91.00" y="702.14" width="27.05" height="4.04" fill="#762181"/>
<rect x="91.00" y="706.13" width="27.05" height="4.04" fill="#a3307e"/>
<rect x="91.00" y="710.12" width="27.05" height="4.04" fill="#832681"/>
<rect x="91.00" y="714.10" width="27.05" height="4.04" fill="#762181"/>
<rect x="91.00" y="718.09" width="27.05" height="4.04" fill="#832681"/>
<rect x="91.00" y="722.07" width="27.05" height="4.04" fill="#5c167f"/>
<rect x="91.00" y="726.06" width="27.05" height="8.02" fill="#762181"/>
<rect x="91.00" y="734.03" width="27.05" height="12.01" fill="#4c117a"/>
<rect x="91.00" y="745.99" width="27.05" height="4.04" fill="#862781"/>
<rect x="91.00" y="749.98" width="27.05" height="4.04" fill="#a02f7f"/>
<rect x="91.00" y="753.96" width="27.05" height="8.02" fill="#792282"/>
<rect x="91.00" y="761.93" width="27.05" height="8.02" fill="#802582"/>
<rect x="91.00" y="769.91" width="27.05" height="4.04" fill="#932b80"/>
<rect x="91.00" y="773.89" width="27.05" height="4.04" fill="#4c117a"/>
<rect x="91.00" y="777.88" width="27.05" height="4.04" fill="#732081"/>
<rect x="91.00" y="781.86" width="27.05" height="4.04" fill="#a6317d"/>
<rect x="91.00" y="785.85" width="27.05" height="4.04" fill="#ee5b5e"/>
<rect x="91.00" y="789.84" width="27.05" height="4.04" fill="#732081"/>
<rect x="91.00" y="793.82" width="27.05" height="4.04" fill="#491078"/>
<rect x="91.00" y="797.81" width="27.05" height="8.02" fill="#d2426f"/>
<rect x="91.00" y="805.78" width="27.05" height="4.04" fill="#b83779"/>
<rect x="91.00" y="809.77" width="27.05" height="4.04" fill="#aa337d"/>
<rect x="91.00" y="813.75" width="27.05" height="8.02" fill="#de4968"/>
<rect x="91.00" y="821.72" width="27.05" height="8.02" fill="#f05f5e"/>
<rect x="91.00" y="829.70" width="27.05" height="8.02" fill="#d8456c"/>
<rect x="91.00" y="837.67" width="27.05" height="12.01" fill="#e34e65"/>
<rect x="91.00" y="849.63" width="27.05" height="8.02" fill="#e85362"/>
<rect x="91.00" y="857.60" width="27.05" height="4.04" fill="#f4675c"/>
<rect x="91.00" y="861.58" width="27.05" height="4.04" fill="#f05f5e"/>
<rect x="91.00" y="865.57" width="27.05" height="4.04" fill="#f8765c"/>
<rect x="118.00" y="88.30" width="27.05" height="4.04" fill="#4c117a"/>
<rect x="118.00" y="92.29" width="27.05" height="8.02" fill="#52137c"/>
<rect x="118.00" y="100.26" width="27.05" height="23.97" fill="#491078"/>
<rect x="118.00" y="124.17" width="27.05" height="15.99" fill="#4c117a"/>
<rect x="118.00" y="140.12" width="27.05" height="27.95" fill="#451077"/>
<rect x="118.00" y="168.02" width="27.05" height="8.02" fill="#681c81"/>
<rect x="118.00" y="175.99" width="27.05" height="12.01" fill="#491078"/>
<rect x="118.00" y="187.95" width="27.05" height="15.99" fill="#4f127b"/>
<rect x="118.00" y="203.89" width="27.05" height="8.02" fill="#56147d"/>
<rect x="118.00" y="211.87" width="27.05" height="15.99" fill="#4c117a"/>
<rect x="118.00" y="227.81" width="27.05" height="12.01" fill="#56147d"/>
<rect x="118.00" y="239.77" width="27.05" height="8.02" fill="#621980"/>
<rect x="118.00" y="247.74" width="27.05" height="4.04" fill="#4f127b"/>
<rect x="118.00" y="251.73" width="27.05" height="8.02" fill="#5c167f"/>
<rect x="118.00" y="259.70" width="27.05" height="19.98" fill="#491078"/>
<rect x="118.00" y="279.63" width="27.05" height="35.92" fill="#451077"/>
<rect x="118.00" y="315.50" width="27.05" height="12.01" fill="#56147d"/>
<rect x="118.00" y="327.46" width="27.05" height="12.01" fill="#681c81"/>
<rect x="118.00" y="339.42" width="27.05" height="8.02" fill="#5c167f"/>
<rect x="118.00" y="347.39" width="27.05" height="15.99" fill="#621980"/>
<rect x="118.00" y="363.33" width="27.05" height="8.02" fill="#56147d"/>
<rect x="118.00" y="371.31" width="27.05" height="4.04" fill="#9c2e7f"/>
<rect x="118.00" y="375.29" width="27.05" height="35.92" fill="#491078"/>
<rect x="118.00" y="411.17" width="27.05" height="4.04" fill="#56147d"/>
<rect x="118.00" y="415.15" width="27.05" height="4.04" fill="#621980"/>
<rect x="118.00" y="419.14" width="27.05" height="4.04" fill="#7c2382"/>
<rect x="118.00" y="423.12" width="27.05" height="8.02" fill="#4f127b"/>
<rect x="118.00" y="431.10" width="27.05" height="4.04" fill="#621980"/>
<rect x="118.00" y="435.08" width="27.05" height="4.04" fill="#56147d"/>
<rect x="118.00" y="439.07" width="27.05" height="4.04" fill="#491078"/>
<rect x="118.00" y="443.05" width="27.05" height="4.04" fill="#6e1e81"/>
<rect x="118.00" y="447.04" width="27.05" height="8.02" fill="#4f127b"/>
<rect x="118.00" y="455.01" width="27.05" height="12.01" fill="#5c167f"/>
<rect x="118.00" y="466.97" width="27.05" height="4.04" fill="#56147d"/>
<rect x="118.00" y="470.96" width="27.05" height="4.04" fill="#6e1e81"/>
<rect x="118.00" y="474.94" width="27.05" height="8.02" fill="#4c117a"/>
<rect x="118.00" y="482.91" width="27.05" height="4.04" fill="#621980"/>
<rect x="118.00" y="486.90" width="27.05" height="8.02" fill="#762181"/>
<rect x="118.00" y="494.87" width="27.05" height="15.99" fill="#681c81"/>
<rect x="118.00" y="510.82" width="27.05" height="15.99" fill="#7c2382"/>
<rect x="118.00" y="526.76" width="27.05" height="12.01" fill="#4c117a"/>
<rect x="118.00" y="538.72" width="27.05" height="4.04" fill="#5c167f"/>
<rect x="118.00" y="542.70" width="27.05" height="4.04" fill="#4c117a"/>
<rect x="118.00" y="546.69" width="27.05" height="8.02" fill="#621980"/>
<rect x="118.00" y="554.66" width="27.05" height="8.02" fill="#56147d"/>
<rect x="118.00" y="562.63" width="27.05" height="31.94" fill="#451077"/>
<rect x="118.00" y="594.52" width="27.05" height="12.01" fill="#681c81"/>
<rect x="118.00" y="606.48" width="27.05" height="12.01" fill="#4f127b"/>
<rect x="118.00" y="618.44" width="27.05" height="12.01" fill="#56147d"/>
<rect x="118.00" y="630.40" width="27.05" height="15.99" fill="#4c117a"/>
<rect x="118.00" y="646.34" width="27.05" height="8.02" fill="#621980"/>
<rect x="118.00" y="654.31" width="27.05" height="8.02" fill="#a3307e"/>
<rect x="118.00" y="662.28" width="27.05" height="19.98" fill="#aa337d"/>
<rect x="118.00" y="682.21" width="27.05" height="19.98" fill="#832681"/>
<rect x="118.00" y="702.14" width="27.05" height="8.02" fill="#892881"/>
<rect x="118.00" y="710.12" width="27.05" height="4.04" fill="#621980"/>
<rect x="118.00" y="714.10" width="27.05" height="4.04" fill="#ec5860"/>
<rect x="118.00" y="718.09" width="27.05" height="4.04" fill="#de4968"/>
<rect x="118.00" y="722.07" width="27.05" height="12.01" fill="#5c167f"/>
<rect x="118.00" y="734.03" width="27.05" height="4.04" fill="#56147d"/>
<rect x="118.00" y="738.02" width="27.05" height="4.04" fill="#52137c"/>
<rect x="118.00" y="742.00" width="27.05" height="8.02" fill="#862781"/>
<rect x="118.00" y="749.98" width="27.05" height="4.04" fill="#792282"/>
<rect x="118.00" y="753.96" width="27.05" height="8.02" fill="#a02f7f"/>
<rect x="118.00" y="761.93" width="27.05" height="15.99" fill="#6b1d81"/>
<rect x="118.00" y="777.88" width="27.05" height="4.04" fill="#792282"/>
<rect x="118.00" y="781.86" width="27.05" height="4.04" fill="#ad347c"/>
<rect x="118.00" y="785.85" width="27.05" height="8.02" fill="#792282"/>
<rect x="118.00" y="793.82" width="27.05" height="4.04" fill="#f4675c"/>
<rect x="118.00" y="797.81" width="27.05" height="12.01" fill="#c53c74"/>
<rect x="118.00" y="809.77" width="27.05" height="4.04" fill="#f05f5e"/>
<rect x="118.00" y="813.75" width="27.05" height="4.04" fill="#de4968"/>
<rect x="118.00" y="817.74" width="27.05" height="4.04" fill="#f8765c"/>
<rect x="118.00" y="821.72" width="27.05" height="8.02" fill="#e85362"/>
<rect x="118.00" y="829.70" width="27.05" height="19.98" fill="#d8456c"/>
<rect x="118.00" y="849.63" width="27.05" height="4.04" fill="#9c2e7f"/>
<rect x="118.00" y="853.61" width="27.05" height="4.04" fill="#de4968"/>
<rect x="118.00" y="857.60" width="27.05" height="8.02" fill="#621980"/>
<rect x="118.00" y="865.57" width="27.05" height="4.04" fill="#feaa74"/>
<rect x="145.00" y="88.30" width="27.05" height="8.02" fill="#491078"/>
<rect x="145.00" y="96.27" width="27.05" height="15.99" fill="#4c117a"/>
<rect x="145.00" y="112.22" width="27.05" height="12.01" fill="#52137c"/>
<rect x="145.00" y="124.17" width="27.05" height="19.98" fill="#4c117a"/>
<rect x="145.00" y="144.10" width="27.05" height="12.01" fill="#5c167f"/>
<rect x="145.00" y="156.06" width="27.05" height="12.01" fill="#4c117a"/>
<rect x="145.00" y="168.02" width="27.05" height="8.02" fill="#5c167f"/>
<rect x="145.00" y="175.99" width="27.05" height="12.01" fill="#4c117a"/>
<rect x="145.00" y="187.95" width="27.05" height="8.02" fill="#52137c"/>
<rect x="145.00" y="195.92" width="27.05" height="8.02" fill="#59157e"/>
<rect x="145.00" y="203.89" width="27.05" height="8.02" fill="#491078"/>
<rect x="145.00" y="211.87" width="27.05" height="15.99" fill="#4f127b"/>
<rect x="145.00" y="227.81" width="27.05" height="15.99" fill="#56147d"/>
<rect x="145.00" y="243.75" width="27.05" height="31.94" fill="#4f127b"/>
<rect x="145.00" y="275.64" width="27.05" height="27.95" fill="#451077"/>
<rect x="145.00" y="303.54" width="27.05" height="8.02" fill="#52137c"/>
<rect x="145.00" y="311.52" width="27.05" height="4.04" fill="#8c2981"/>
<rect x="145.00" y="315.50" width="27.05" height="12.01" fill="#52137c"/>
<rect x="145.00" y="327.46" width="27.05" height="19.98" fill="#56147d"/>
<rect x="145.00" y="347.39" width="27.05" height="8.02" fill="#5c167f"/>
<rect x="145.00" y="355.36" width="27.05" height="4.04" fill="#621980"/>
<rect x="145.00" y="359.35" width="27.05" height="8.02" fill="#681c81"/>
<rect x="145.00" y="367.32" width="27.05" height="8.02" fill="#621980"/>
<rect x="145.00" y="375.29" width="27.05" height="31.94" fill="#491078"/>
<rect x="145.00" y="407.18" width="27.05" height="19.98" fill="#56147d"/>
<rect x="145.00" y="427.11" width="27.05" height="4.04" fill="#6e1e81"/>
<rect x="145.00" y="431.10" width="27.05" height="4.04" fill="#4f127b"/>
<rect x="145.00" y="435.08" width="27.05" height="4.04" fill="#5c167f"/>
<rect x="145.00" y="439.07" width="27.05" height="23.97" fill="#491078"/>
<rect x="145.00" y="462.98" width="27.05" height="4.04" fill="#56147d"/>
<rect x="145.00" y="466.97" width="27.05" height="8.02" fill="#681c81"/>
<rect x="145.00" y="474.94" width="27.05" height="15.99" fill="#4f127b"/>
<rect x="145.00" y="490.89" width="27.05" height="4.04" fill="#621980"/>
<rect x="145.00" y="494.87" width="27.05" height="4.04" fill="#491078"/>
<rect x="145.00" y="498.86" width="27.05" height="8.02" fill="#681c81"/>
<rect x="145.00" y="506.83" width="27.05" height="8.02" fill="#892881"/>
<rect x="145.00" y="514.80" width="27.05" height="8.02" fill="#762181"/>
<rect x="145.00" y="522.77" width="27.05" height="4.04" fill="#5c167f"/>
<rect x="145.00" y="526.76" width="27.05" height="12.01" fill="#56147d"/>
<rect x="145.00" y="538.72" width="27.05" height="12.01" fill="#4c117a"/>
<rect x="145.00" y="550.68" width="27.05" height="43.90" fill="#420f75"/>
<rect x="145.00" y="594.52" width="27.05" height="12.01" fill="#5c167f"/>
<rect x="145.00" y="606.48" width="27.05" height="8.02" fill="#4c117a"/>
<rect x="145.00" y="614.45" width="27.05" height="15.99" fill="#962c80"/>
<rect x="145.00" y="630.40" width="27.05" height="8.02" fill="#451077"/>
<rect x="145.00" y="638.37" width="27.05" height="12.01" fill="#56147d"/>
<rect x="145.00" y="650.33" width="27.05" height="4.04" fill="#d2426f"/>
<rect x="145.00" y="654.31" width="27.05" height="8.02" fill="#aa337d"/>
<rect x="145.00" y="662.28" width="27.05" height="8.02" fill="#b83779"/>
<rect x="145.00" y="670.26" width="27.05" height="4.04" fill="#a3307e"/>
<rect x="145.00" y="674.24" width="27.05" height="12.01" fill="#b83779"/>
<rect x="145.00" y="686.20" width="27.05" height="4.04" fill="#902a81"/>
<rect x="145.00" y="690.19" width="27.05" height="4.04" fill="#aa337d"/>
<rect x="145.00" y="694.17" width="27.05" height="4.04" fill="#832681"/>
<rect x="145.00" y="698.16" width="27.05" height="4.04" fill="#9c2e7f"/>
<rect x="145.00" y="702.14" width="27.05" height="12.01" fill="#832681"/>
<rect x="145.00" y="714.10" width="27.05" height="4.04" fill="#6e1e81"/>
<rect x="145.00" y="718.09" width="27.05" height="4.04" fill="#892881"/>
<rect x="145.00" y="722.07" width="27.05" height="12.01" fill="#621980"/>
<rect x="145.00" y="734.03" width="27.05" height="4.04" fill="#56147d"/>
<rect x="145.00" y="738.02" width="27.05" height="4.04" fill="#3f0f72"/>
<rect x="145.00" y="742.00" width="27.05" height="8.02" fill="#862781"/>
<rect x="145.00" y="749.98" width="27.05" height="4.04" fill="#932b80"/>
<rect x="145.00" y="753.96" width="27.05" height="4.04" fill="#651a80"/>
<rect x="145.00" y="757.95" width="27.05" height="4.04" fill="#862781"/>
<rect x="145.00" y="761.93" width="27.05" height="8.02" fill="#5f187f"/>
<rect x="145.00" y="769.91" width="27.05" height="8.02" fill="#3f0f72"/>
<rect x="145.00" y="777.88" width="27.05" height="8.02" fill="#6b1d81"/>
<rect x="145.00" y="785.85" width="27.05" height="8.02" fill="#792282"/>
<rect x="145.00" y="793.82" width="27.05" height="4.04" fill="#e85362"/>
<rect x="145.00" y="797.81" width="27.05" height="12.01" fill="#c53c74"/>
<rect x="145.00" y="809.77" width="27.05" height="4.04" fill="#9c2e7f"/>
<rect x="145.00" y="813.75" width="27.05" height="15.99" fill="#c53c74"/>
<rect x="145.00" y="829.70" width="27.05" height="19.98" fill="#d2426f"/>
<rect x="145.00" y="849.63" width="27.05" height="4.04" fill="#d8456c"/>
<rect x="145.00" y="853.61" width="27.05" height="4.04" fill="#f4675c"/>
<rect x="145.00" y="857.60" width="27.05" height="8.02" fill="#6e1e81"/>
<rect x="145.00" y="865.57" width="27.05" height="4.04" fill="#feaa74"/>
</g>
<text transform="translate(23.70,874.40) rotate(-90)" font-size="8.6" text-anchor="end" fill="#000">HFDcoco</text>
<text transform="translate(50.70,874.40) rotate(-90)" font-size="8.6" text-anchor="end" fill="#000">HSD</text>
<text transform="translate(77.70,874.40) rotate(-90)" font-size="6.7" text-anchor="end" fill="#000">WD</text>
<text transform="translate(104.70,874.40) rotate(-90)" font-size="8.35" text-anchor="end" fill="#000">HFDlard</text>
<text transform="translate(131.70,874.40) rotate(-90)" font-size="8.3" text-anchor="end" fill="#000">HPD</text>
<text transform="translate(158.70,874.40) rotate(-90)" font-size="8.3" text-anchor="end" fill="#000">HStD</text>
<text x="184.3" y="91.84" font-size="4.4" fill="#2a2a2a" style="text-rendering:geometricPrecision">DGRP_399</text>
<text x="208.30" y="91.94" font-size="4.7" font-weight="bold" fill="#000" style="text-rendering:geometricPrecision">(1)</text>
<text x="184.3" y="95.83" font-size="4.4" fill="#2a2a2a" style="text-rendering:geometricPrecision">DGRP_820</text>
<text x="184.3" y="99.81" font-size="4.4" fill="#2a2a2a" style="text-rendering:geometricPrecision">DGRP_508</text>
<text x="208.30" y="99.91" font-size="4.7" font-weight="bold" fill="#000" style="text-rendering:geometricPrecision">(2)</text>
<text x="184.3" y="103.80" font-size="4.4" fill="#2a2a2a" style="text-rendering:geometricPrecision">DGRP_907</text>
<text x="184.3" y="107.79" font-size="4.4" fill="#2a2a2a" style="text-rendering:geometricPrecision">DGRP_189</text>
<text x="208.30" y="107.89" font-size="4.7" font-weight="bold" fill="#000" style="text-rendering:geometricPrecision">(3)</text>
<text x="184.3" y="111.77" font-size="4.4" fill="#2a2a2a" style="text-rendering:geometricPrecision">DGRP_517</text>
<text x="184.3" y="115.76" font-size="4.4" fill="#2a2a2a" style="text-rendering:geometricPrecision">DGRP_461</text>
<text x="184.3" y="119.74" font-size="4.4" fill="#2a2a2a" style="text-rendering:geometricPrecision">DGRP_714</text>
<text x="184.3" y="123.73" font-size="4.4" fill="#2a2a2a" style="text-rendering:geometricPrecision">DGRP_776</text>
<text x="184.3" y="127.72" font-size="4.4" fill="#2a2a2a" style="text-rendering:geometricPrecision">DGRP_774</text>
<text x="184.3" y="131.70" font-size="4.4" fill="#2a2a2a" style="text-rendering:geometricPrecision">DGRP_530</text>
<text x="184.3" y="135.69" font-size="4.4" fill="#2a2a2a" style="text-rendering:geometricPrecision">DGRP_808</text>
<text x="184.3" y="139.68" font-size="4.4" fill="#2a2a2a" style="text-rendering:geometricPrecision">DGRP_892</text>
<text x="184.3" y="143.66" font-size="4.4" fill="#2a2a2a" style="text-rendering:geometricPrecision">DGRP_392</text>
<text x="184.3" y="147.65" font-size="4.4" fill="#2a2a2a" style="text-rendering:geometricPrecision">DGRP_911</text>
<text x="184.3" y="151.63" font-size="4.4" fill="#2a2a2a" style="text-rendering:geometricPrecision">DGRP_195</text>
<text x="184.3" y="155.62" font-size="4.4" fill="#2a2a2a" style="text-rendering:geometricPrecision">DGRP_716</text>
<text x="184.3" y="159.61" font-size="4.4" fill="#2a2a2a" style="text-rendering:geometricPrecision">DGRP_535</text>
<text x="184.3" y="163.59" font-size="4.4" fill="#2a2a2a" style="text-rendering:geometricPrecision">DGRP_59</text>
<text x="184.3" y="167.58" font-size="4.4" fill="#2a2a2a" style="text-rendering:geometricPrecision">DGRP_217</text>
<text x="184.3" y="171.56" font-size="4.4" fill="#2a2a2a" style="text-rendering:geometricPrecision">DGRP_900</text>
<text x="184.3" y="175.55" font-size="4.4" fill="#2a2a2a" style="text-rendering:geometricPrecision">DGRP_853</text>
<text x="184.3" y="179.54" font-size="4.4" fill="#2a2a2a" style="text-rendering:geometricPrecision">DGRP_837</text>
<text x="184.3" y="183.52" font-size="4.4" fill="#2a2a2a" style="text-rendering:geometricPrecision">DGRP_707</text>
<text x="184.3" y="187.51" font-size="4.4" fill="#2a2a2a" style="text-rendering:geometricPrecision">DGRP_315</text>
<text x="184.3" y="191.49" font-size="4.4" fill="#2a2a2a" style="text-rendering:geometricPrecision">DGRP_634</text>
<text x="184.3" y="195.48" font-size="4.4" fill="#2a2a2a" style="text-rendering:geometricPrecision">DGRP_149</text>
<text x="184.3" y="199.47" font-size="4.4" fill="#2a2a2a" style="text-rendering:geometricPrecision">DGRP_443</text>
<text x="184.3" y="203.45" font-size="4.4" fill="#2a2a2a" style="text-rendering:geometricPrecision">DGRP_492</text>
<text x="184.3" y="207.44" font-size="4.4" fill="#2a2a2a" style="text-rendering:geometricPrecision">DGRP_386</text>
<text x="184.3" y="211.42" font-size="4.4" fill="#2a2a2a" style="text-rendering:geometricPrecision">DGRP_31</text>
<text x="184.3" y="215.41" font-size="4.4" fill="#2a2a2a" style="text-rendering:geometricPrecision">DGRP_584</text>
<text x="184.3" y="219.40" font-size="4.4" fill="#2a2a2a" style="text-rendering:geometricPrecision">DGRP_309</text>
<text x="184.3" y="223.38" font-size="4.4" fill="#2a2a2a" style="text-rendering:geometricPrecision">DGRP_730</text>
<text x="184.3" y="227.37" font-size="4.4" fill="#2a2a2a" style="text-rendering:geometricPrecision">DGRP_819</text>
<text x="184.3" y="231.35" font-size="4.4" fill="#2a2a2a" style="text-rendering:geometricPrecision">DGRP_21</text>
<text x="184.3" y="235.34" font-size="4.4" fill="#2a2a2a" style="text-rendering:geometricPrecision">DGRP_799</text>
<text x="184.3" y="239.32" font-size="4.4" fill="#2a2a2a" style="text-rendering:geometricPrecision">DGRP_332</text>
<text x="184.3" y="243.31" font-size="4.4" fill="#2a2a2a" style="text-rendering:geometricPrecision">DGRP_595</text>
<text x="184.3" y="247.30" font-size="4.4" fill="#2a2a2a" style="text-rendering:geometricPrecision">DGRP_491</text>
<text x="184.3" y="251.28" font-size="4.4" fill="#2a2a2a" style="text-rendering:geometricPrecision">DGRP_787</text>
<text x="184.3" y="255.27" font-size="4.4" fill="#2a2a2a" style="text-rendering:geometricPrecision">DGRP_356</text>
<text x="184.3" y="259.25" font-size="4.4" fill="#2a2a2a" style="text-rendering:geometricPrecision">DGRP_41</text>
<text x="184.3" y="263.24" font-size="4.4" fill="#2a2a2a" style="text-rendering:geometricPrecision">DGRP_26</text>
<text x="184.3" y="267.23" font-size="4.4" fill="#2a2a2a" style="text-rendering:geometricPrecision">DGRP_239</text>
<text x="184.3" y="271.21" font-size="4.4" fill="#2a2a2a" style="text-rendering:geometricPrecision">DGRP_360</text>
<text x="184.3" y="275.20" font-size="4.4" fill="#2a2a2a" style="text-rendering:geometricPrecision">DGRP_338</text>
<text x="184.3" y="279.19" font-size="4.4" fill="#2a2a2a" style="text-rendering:geometricPrecision">DGRP_370</text>
<text x="184.3" y="283.17" font-size="4.4" fill="#2a2a2a" style="text-rendering:geometricPrecision">DGRP_757</text>
<text x="184.3" y="287.16" font-size="4.4" fill="#2a2a2a" style="text-rendering:geometricPrecision">DGRP_818</text>
<text x="184.3" y="291.14" font-size="4.4" fill="#2a2a2a" style="text-rendering:geometricPrecision">DGRP_589</text>
<text x="184.3" y="295.13" font-size="4.4" fill="#2a2a2a" style="text-rendering:geometricPrecision">DGRP_395</text>
<text x="184.3" y="299.12" font-size="4.4" fill="#2a2a2a" style="text-rendering:geometricPrecision">DGRP_129</text>
<text x="184.3" y="303.10" font-size="4.4" fill="#2a2a2a" style="text-rendering:geometricPrecision">DGRP_228</text>
<text x="184.3" y="307.09" font-size="4.4" fill="#2a2a2a" style="text-rendering:geometricPrecision">DGRP_440</text>
<text x="184.3" y="311.07" font-size="4.4" fill="#2a2a2a" style="text-rendering:geometricPrecision">DGRP_371</text>
<text x="184.3" y="315.06" font-size="4.4" fill="#2a2a2a" style="text-rendering:geometricPrecision">DGRP_208</text>
<text x="184.3" y="319.05" font-size="4.4" fill="#2a2a2a" style="text-rendering:geometricPrecision">DGRP_390</text>
<text x="184.3" y="323.03" font-size="4.4" fill="#2a2a2a" style="text-rendering:geometricPrecision">DGRP_177</text>
<text x="184.3" y="327.02" font-size="4.4" fill="#2a2a2a" style="text-rendering:geometricPrecision">DGRP_350</text>
<text x="184.3" y="331.00" font-size="4.4" fill="#2a2a2a" style="text-rendering:geometricPrecision">DGRP_28</text>
<text x="184.3" y="334.99" font-size="4.4" fill="#2a2a2a" style="text-rendering:geometricPrecision">DGRP_335</text>
<text x="184.3" y="338.98" font-size="4.4" fill="#2a2a2a" style="text-rendering:geometricPrecision">DGRP_359</text>
<text x="184.3" y="342.96" font-size="4.4" fill="#2a2a2a" style="text-rendering:geometricPrecision">DGRP_882</text>
<text x="184.3" y="346.95" font-size="4.4" fill="#2a2a2a" style="text-rendering:geometricPrecision">DGRP_380</text>
<text x="184.3" y="350.93" font-size="4.4" fill="#2a2a2a" style="text-rendering:geometricPrecision">DGRP_75</text>
<text x="184.3" y="354.92" font-size="4.4" fill="#2a2a2a" style="text-rendering:geometricPrecision">DGRP_486</text>
<text x="184.3" y="358.91" font-size="4.4" fill="#2a2a2a" style="text-rendering:geometricPrecision">DGRP_304</text>
<text x="184.3" y="362.89" font-size="4.4" fill="#2a2a2a" style="text-rendering:geometricPrecision">DGRP_505</text>
<text x="184.3" y="366.88" font-size="4.4" fill="#2a2a2a" style="text-rendering:geometricPrecision">DGRP_805</text>
<text x="184.3" y="370.86" font-size="4.4" fill="#2a2a2a" style="text-rendering:geometricPrecision">DGRP_908</text>
<text x="184.3" y="374.85" font-size="4.4" fill="#2a2a2a" style="text-rendering:geometricPrecision">DGRP_563</text>
<text x="184.3" y="378.84" font-size="4.4" fill="#2a2a2a" style="text-rendering:geometricPrecision">DGRP_630</text>
<text x="184.3" y="382.82" font-size="4.4" fill="#2a2a2a" style="text-rendering:geometricPrecision">DGRP_559</text>
<text x="184.3" y="386.81" font-size="4.4" fill="#2a2a2a" style="text-rendering:geometricPrecision">DGRP_181</text>
<text x="184.3" y="390.79" font-size="4.4" fill="#2a2a2a" style="text-rendering:geometricPrecision">DGRP_280</text>
<text x="184.3" y="394.78" font-size="4.4" fill="#2a2a2a" style="text-rendering:geometricPrecision">DGRP_306</text>
<text x="184.3" y="398.77" font-size="4.4" fill="#2a2a2a" style="text-rendering:geometricPrecision">DGRP_382</text>
<text x="184.3" y="402.75" font-size="4.4" fill="#2a2a2a" style="text-rendering:geometricPrecision">DGRP_317</text>
<text x="184.3" y="406.74" font-size="4.4" fill="#2a2a2a" style="text-rendering:geometricPrecision">DGRP_627</text>
<text x="184.3" y="410.72" font-size="4.4" fill="#2a2a2a" style="text-rendering:geometricPrecision">DGRP_381</text>
<text x="184.3" y="414.71" font-size="4.4" fill="#2a2a2a" style="text-rendering:geometricPrecision">DGRP_357</text>
<text x="184.3" y="418.70" font-size="4.4" fill="#2a2a2a" style="text-rendering:geometricPrecision">DGRP_340</text>
<text x="184.3" y="422.68" font-size="4.4" fill="#2a2a2a" style="text-rendering:geometricPrecision">DGRP_786</text>
<text x="184.3" y="426.67" font-size="4.4" fill="#2a2a2a" style="text-rendering:geometricPrecision">DGRP_642</text>
<text x="184.3" y="430.65" font-size="4.4" fill="#2a2a2a" style="text-rendering:geometricPrecision">DGRP_551</text>
<text x="184.3" y="434.64" font-size="4.4" fill="#2a2a2a" style="text-rendering:geometricPrecision">DGRP_176</text>
<text x="184.3" y="438.63" font-size="4.4" fill="#2a2a2a" style="text-rendering:geometricPrecision">DGRP_852</text>
<text x="184.3" y="442.61" font-size="4.4" fill="#2a2a2a" style="text-rendering:geometricPrecision">DGRP_374</text>
<text x="184.3" y="446.60" font-size="4.4" fill="#2a2a2a" style="text-rendering:geometricPrecision">DGRP_375</text>
<text x="184.3" y="450.58" font-size="4.4" fill="#2a2a2a" style="text-rendering:geometricPrecision">DGRP_325</text>
<text x="184.3" y="454.57" font-size="4.4" fill="#2a2a2a" style="text-rendering:geometricPrecision">DGRP_879</text>
<text x="184.3" y="458.56" font-size="4.4" fill="#2a2a2a" style="text-rendering:geometricPrecision">DGRP_859</text>
<text x="184.3" y="462.54" font-size="4.4" fill="#2a2a2a" style="text-rendering:geometricPrecision">DGRP_383</text>
<text x="184.3" y="466.53" font-size="4.4" fill="#2a2a2a" style="text-rendering:geometricPrecision">DGRP_229</text>
<text x="184.3" y="470.51" font-size="4.4" fill="#2a2a2a" style="text-rendering:geometricPrecision">DGRP_712</text>
<text x="184.3" y="474.50" font-size="4.4" fill="#2a2a2a" style="text-rendering:geometricPrecision">DGRP_790</text>
<text x="184.3" y="478.49" font-size="4.4" fill="#2a2a2a" style="text-rendering:geometricPrecision">DGRP_783</text>
<text x="184.3" y="482.47" font-size="4.4" fill="#2a2a2a" style="text-rendering:geometricPrecision">DGRP_855</text>
<text x="184.3" y="486.46" font-size="4.4" fill="#2a2a2a" style="text-rendering:geometricPrecision">DGRP_355</text>
<text x="184.3" y="490.44" font-size="4.4" fill="#2a2a2a" style="text-rendering:geometricPrecision">DGRP_227</text>
<text x="184.3" y="494.43" font-size="4.4" fill="#2a2a2a" style="text-rendering:geometricPrecision">DGRP_890</text>
<text x="184.3" y="498.42" font-size="4.4" fill="#2a2a2a" style="text-rendering:geometricPrecision">DGRP_703</text>
<text x="184.3" y="502.40" font-size="4.4" fill="#2a2a2a" style="text-rendering:geometricPrecision">DGRP_105</text>
<text x="184.3" y="506.39" font-size="4.4" fill="#2a2a2a" style="text-rendering:geometricPrecision">DGRP_223</text>
<text x="184.3" y="510.37" font-size="4.4" fill="#2a2a2a" style="text-rendering:geometricPrecision">DGRP_596</text>
<text x="184.3" y="514.36" font-size="4.4" fill="#2a2a2a" style="text-rendering:geometricPrecision">DGRP_324</text>
<text x="184.3" y="518.34" font-size="4.4" fill="#2a2a2a" style="text-rendering:geometricPrecision">DGRP_705</text>
<text x="184.3" y="522.33" font-size="4.4" fill="#2a2a2a" style="text-rendering:geometricPrecision">DGRP_748</text>
<text x="184.3" y="526.32" font-size="4.4" fill="#2a2a2a" style="text-rendering:geometricPrecision">DGRP_405</text>
<text x="184.3" y="530.30" font-size="4.4" fill="#2a2a2a" style="text-rendering:geometricPrecision">DGRP_158</text>
<text x="184.3" y="534.29" font-size="4.4" fill="#2a2a2a" style="text-rendering:geometricPrecision">DGRP_796</text>
<text x="184.3" y="538.27" font-size="4.4" fill="#2a2a2a" style="text-rendering:geometricPrecision">DGRP_318</text>
<text x="184.3" y="542.26" font-size="4.4" fill="#2a2a2a" style="text-rendering:geometricPrecision">DGRP_153</text>
<text x="184.3" y="546.25" font-size="4.4" fill="#2a2a2a" style="text-rendering:geometricPrecision">DGRP_409</text>
<text x="184.3" y="550.23" font-size="4.4" fill="#2a2a2a" style="text-rendering:geometricPrecision">DGRP_45</text>
<text x="184.3" y="554.22" font-size="4.4" fill="#2a2a2a" style="text-rendering:geometricPrecision">DGRP_737</text>
<text x="184.3" y="558.20" font-size="4.4" fill="#2a2a2a" style="text-rendering:geometricPrecision">DGRP_884</text>
<text x="184.3" y="562.19" font-size="4.4" fill="#2a2a2a" style="text-rendering:geometricPrecision">DGRP_894</text>
<text x="184.3" y="566.18" font-size="4.4" fill="#2a2a2a" style="text-rendering:geometricPrecision">DGRP_727</text>
<text x="184.3" y="570.16" font-size="4.4" fill="#2a2a2a" style="text-rendering:geometricPrecision">DGRP_437</text>
<text x="184.3" y="574.15" font-size="4.4" fill="#2a2a2a" style="text-rendering:geometricPrecision">DGRP_761</text>
<text x="184.3" y="578.13" font-size="4.4" fill="#2a2a2a" style="text-rendering:geometricPrecision">DGRP_850</text>
<text x="184.3" y="582.12" font-size="4.4" fill="#2a2a2a" style="text-rendering:geometricPrecision">DGRP_732</text>
<text x="184.3" y="586.11" font-size="4.4" fill="#2a2a2a" style="text-rendering:geometricPrecision">DGRP_502</text>
<text x="184.3" y="590.09" font-size="4.4" fill="#2a2a2a" style="text-rendering:geometricPrecision">DGRP_235</text>
<text x="184.3" y="594.08" font-size="4.4" fill="#2a2a2a" style="text-rendering:geometricPrecision">DGRP_138</text>
<text x="184.3" y="598.06" font-size="4.4" fill="#2a2a2a" style="text-rendering:geometricPrecision">DGRP_427</text>
<text x="184.3" y="602.05" font-size="4.4" fill="#2a2a2a" style="text-rendering:geometricPrecision">DGRP_843</text>
<text x="184.3" y="606.04" font-size="4.4" fill="#2a2a2a" style="text-rendering:geometricPrecision">DGRP_365</text>
<text x="184.3" y="610.02" font-size="4.4" fill="#2a2a2a" style="text-rendering:geometricPrecision">DGRP_406</text>
<text x="184.3" y="614.01" font-size="4.4" fill="#2a2a2a" style="text-rendering:geometricPrecision">DGRP_801</text>
<text x="184.3" y="617.99" font-size="4.4" fill="#2a2a2a" style="text-rendering:geometricPrecision">DGRP_256</text>
<text x="184.3" y="621.98" font-size="4.4" fill="#2a2a2a" style="text-rendering:geometricPrecision">DGRP_57</text>
<text x="184.3" y="625.97" font-size="4.4" fill="#2a2a2a" style="text-rendering:geometricPrecision">DGRP_361</text>
<text x="184.3" y="629.95" font-size="4.4" fill="#2a2a2a" style="text-rendering:geometricPrecision">DGRP_367</text>
<text x="184.3" y="633.94" font-size="4.4" fill="#2a2a2a" style="text-rendering:geometricPrecision">DGRP_83</text>
<text x="184.3" y="637.92" font-size="4.4" fill="#2a2a2a" style="text-rendering:geometricPrecision">DGRP_32</text>
<text x="184.3" y="641.91" font-size="4.4" fill="#2a2a2a" style="text-rendering:geometricPrecision">DGRP_233</text>
<text x="184.3" y="645.90" font-size="4.4" fill="#2a2a2a" style="text-rendering:geometricPrecision">DGRP_161</text>
<text x="208.30" y="646.00" font-size="4.7" font-weight="bold" fill="#000" style="text-rendering:geometricPrecision">(10)</text>
<text x="184.3" y="649.88" font-size="4.4" fill="#2a2a2a" style="text-rendering:geometricPrecision">DGRP_810</text>
<text x="184.3" y="653.87" font-size="4.4" fill="#2a2a2a" style="text-rendering:geometricPrecision">DGRP_721</text>
<text x="208.30" y="653.97" font-size="4.7" font-weight="bold" fill="#000" style="text-rendering:geometricPrecision">(14)</text>
<text x="184.3" y="657.85" font-size="4.4" fill="#2a2a2a" style="text-rendering:geometricPrecision">DGRP_377</text>
<text x="184.3" y="661.84" font-size="4.4" fill="#2a2a2a" style="text-rendering:geometricPrecision">DGRP_913</text>
<text x="184.3" y="665.83" font-size="4.4" fill="#2a2a2a" style="text-rendering:geometricPrecision">DGRP_373</text>
<text x="184.3" y="669.81" font-size="4.4" fill="#2a2a2a" style="text-rendering:geometricPrecision">DGRP_85</text>
<text x="184.3" y="673.80" font-size="4.4" fill="#2a2a2a" style="text-rendering:geometricPrecision">DGRP_379</text>
<text x="184.3" y="677.78" font-size="4.4" fill="#2a2a2a" style="text-rendering:geometricPrecision">DGRP_237</text>
<text x="184.3" y="681.77" font-size="4.4" fill="#2a2a2a" style="text-rendering:geometricPrecision">DGRP_321</text>
<text x="184.3" y="685.76" font-size="4.4" fill="#2a2a2a" style="text-rendering:geometricPrecision">DGRP_897</text>
<text x="184.3" y="689.74" font-size="4.4" fill="#2a2a2a" style="text-rendering:geometricPrecision">DGRP_142</text>
<text x="184.3" y="693.73" font-size="4.4" fill="#2a2a2a" style="text-rendering:geometricPrecision">DGRP_566</text>
<text x="184.3" y="697.71" font-size="4.4" fill="#2a2a2a" style="text-rendering:geometricPrecision">DGRP_528</text>
<text x="184.3" y="701.70" font-size="4.4" fill="#2a2a2a" style="text-rendering:geometricPrecision">DGRP_385</text>
<text x="184.3" y="705.69" font-size="4.4" fill="#2a2a2a" style="text-rendering:geometricPrecision">DGRP_821</text>
<text x="184.3" y="709.67" font-size="4.4" fill="#2a2a2a" style="text-rendering:geometricPrecision">DGRP_49</text>
<text x="184.3" y="713.66" font-size="4.4" fill="#2a2a2a" style="text-rendering:geometricPrecision">DGRP_439</text>
<text x="184.3" y="717.64" font-size="4.4" fill="#2a2a2a" style="text-rendering:geometricPrecision">DGRP_352</text>
<text x="184.3" y="721.63" font-size="4.4" fill="#2a2a2a" style="text-rendering:geometricPrecision">DGRP_362</text>
<text x="208.30" y="721.73" font-size="4.7" font-weight="bold" fill="#000" style="text-rendering:geometricPrecision">(13)</text>
<text x="184.3" y="725.62" font-size="4.4" fill="#2a2a2a" style="text-rendering:geometricPrecision">DGRP_513</text>
<text x="184.3" y="729.60" font-size="4.4" fill="#2a2a2a" style="text-rendering:geometricPrecision">DGRP_307</text>
<text x="184.3" y="733.59" font-size="4.4" fill="#2a2a2a" style="text-rendering:geometricPrecision">DGRP_319</text>
<text x="184.3" y="737.57" font-size="4.4" fill="#2a2a2a" style="text-rendering:geometricPrecision">DGRP_861</text>
<text x="184.3" y="741.56" font-size="4.4" fill="#2a2a2a" style="text-rendering:geometricPrecision">DGRP_354</text>
<text x="208.30" y="741.66" font-size="4.7" font-weight="bold" fill="#000" style="text-rendering:geometricPrecision">(8)</text>
<text x="184.3" y="745.55" font-size="4.4" fill="#2a2a2a" style="text-rendering:geometricPrecision">DGRP_812</text>
<text x="208.30" y="745.65" font-size="4.7" font-weight="bold" fill="#000" style="text-rendering:geometricPrecision">(7)</text>
<text x="184.3" y="749.53" font-size="4.4" fill="#2a2a2a" style="text-rendering:geometricPrecision">DGRP_849</text>
<text x="184.3" y="753.52" font-size="4.4" fill="#2a2a2a" style="text-rendering:geometricPrecision">DGRP_391</text>
<text x="184.3" y="757.50" font-size="4.4" fill="#2a2a2a" style="text-rendering:geometricPrecision">DGRP_857</text>
<text x="184.3" y="761.49" font-size="4.4" fill="#2a2a2a" style="text-rendering:geometricPrecision">DGRP_88</text>
<text x="184.3" y="765.48" font-size="4.4" fill="#2a2a2a" style="text-rendering:geometricPrecision">DGRP_91</text>
<text x="184.3" y="769.46" font-size="4.4" fill="#2a2a2a" style="text-rendering:geometricPrecision">DGRP_100</text>
<text x="184.3" y="773.45" font-size="4.4" fill="#2a2a2a" style="text-rendering:geometricPrecision">DGRP_287</text>
<text x="184.3" y="777.43" font-size="4.4" fill="#2a2a2a" style="text-rendering:geometricPrecision">DGRP_802</text>
<text x="184.3" y="781.42" font-size="4.4" fill="#2a2a2a" style="text-rendering:geometricPrecision">DGRP_555</text>
<text x="184.3" y="785.41" font-size="4.4" fill="#2a2a2a" style="text-rendering:geometricPrecision">DGRP_301</text>
<text x="184.3" y="789.39" font-size="4.4" fill="#2a2a2a" style="text-rendering:geometricPrecision">DGRP_69</text>
<text x="205.85" y="789.49" font-size="4.7" font-weight="bold" fill="#000" style="text-rendering:geometricPrecision">(17)</text>
<text x="184.3" y="793.38" font-size="4.4" fill="#2a2a2a" style="text-rendering:geometricPrecision">DGRP_441</text>
<text x="208.30" y="793.48" font-size="4.7" font-weight="bold" fill="#000" style="text-rendering:geometricPrecision">(11)</text>
<text x="184.3" y="797.36" font-size="4.4" fill="#2a2a2a" style="text-rendering:geometricPrecision">DGRP_310</text>
<text x="208.30" y="797.46" font-size="4.7" font-weight="bold" fill="#000" style="text-rendering:geometricPrecision">(16)</text>
<text x="184.3" y="801.35" font-size="4.4" fill="#2a2a2a" style="text-rendering:geometricPrecision">DGRP_40</text>
<text x="184.3" y="805.34" font-size="4.4" fill="#2a2a2a" style="text-rendering:geometricPrecision">DGRP_101</text>
<text x="184.3" y="809.32" font-size="4.4" fill="#2a2a2a" style="text-rendering:geometricPrecision">DGRP_303</text>
<text x="184.3" y="813.31" font-size="4.4" fill="#2a2a2a" style="text-rendering:geometricPrecision">DGRP_804</text>
<text x="208.30" y="813.41" font-size="4.7" font-weight="bold" fill="#000" style="text-rendering:geometricPrecision">(15)</text>
<text x="184.3" y="817.29" font-size="4.4" fill="#2a2a2a" style="text-rendering:geometricPrecision">DGRP_426</text>
<text x="184.3" y="821.28" font-size="4.4" fill="#2a2a2a" style="text-rendering:geometricPrecision">DGRP_336</text>
<text x="208.30" y="821.38" font-size="4.7" font-weight="bold" fill="#000" style="text-rendering:geometricPrecision">(5)</text>
<text x="184.3" y="825.27" font-size="4.4" fill="#2a2a2a" style="text-rendering:geometricPrecision">DGRP_646</text>
<text x="184.3" y="829.25" font-size="4.4" fill="#2a2a2a" style="text-rendering:geometricPrecision">DGRP_42</text>
<text x="205.85" y="829.35" font-size="4.7" font-weight="bold" fill="#000" style="text-rendering:geometricPrecision">(4)</text>
<text x="184.3" y="833.24" font-size="4.4" fill="#2a2a2a" style="text-rendering:geometricPrecision">DGRP_136</text>
<text x="184.3" y="837.22" font-size="4.4" fill="#2a2a2a" style="text-rendering:geometricPrecision">DGRP_38</text>
<text x="184.3" y="841.21" font-size="4.4" fill="#2a2a2a" style="text-rendering:geometricPrecision">DGRP_109</text>
<text x="184.3" y="845.20" font-size="4.4" fill="#2a2a2a" style="text-rendering:geometricPrecision">DGRP_738</text>
<text x="208.30" y="845.30" font-size="4.7" font-weight="bold" fill="#000" style="text-rendering:geometricPrecision">(9)</text>
<text x="184.3" y="849.18" font-size="4.4" fill="#2a2a2a" style="text-rendering:geometricPrecision">DGRP_348</text>
<text x="184.3" y="853.17" font-size="4.4" fill="#2a2a2a" style="text-rendering:geometricPrecision">DGRP_822</text>
<text x="184.3" y="857.15" font-size="4.4" fill="#2a2a2a" style="text-rendering:geometricPrecision">DGRP_639</text>
<text x="184.3" y="861.14" font-size="4.4" fill="#2a2a2a" style="text-rendering:geometricPrecision">DGRP_313</text>
<text x="208.30" y="861.24" font-size="4.7" font-weight="bold" fill="#000" style="text-rendering:geometricPrecision">(12)</text>
<text x="184.3" y="865.13" font-size="4.4" fill="#2a2a2a" style="text-rendering:geometricPrecision">DGRP_832</text>
<text x="208.30" y="865.23" font-size="4.7" font-weight="bold" fill="#000" style="text-rendering:geometricPrecision">(18)</text>
<text x="184.3" y="869.11" font-size="4.4" fill="#2a2a2a" style="text-rendering:geometricPrecision">DGRP_887</text>
<text x="208.30" y="869.21" font-size="4.7" font-weight="bold" fill="#000" style="text-rendering:geometricPrecision">(6)</text>
<line x1="299.2" y1="95.2" x2="311.8" y2="95.2" stroke="#000000" stroke-width="1.2"/>
<ellipse cx="305.5" cy="95.2" rx="1.9" ry="2.6" fill="#000000"/>
<text x="318.4" y="99.0" font-size="10.05" fill="#000">HPD</text>
<line x1="353.8" y1="95.2" x2="366.2" y2="95.2" stroke="#ff0000" stroke-width="1.2" stroke-dasharray="2.2 1.1"/>
<ellipse cx="360" cy="95.2" rx="1.9" ry="2.6" fill="#ff0000"/>
<text x="372.3" y="99.0" font-size="10.05" fill="#000">HSD</text>
<line x1="406.9" y1="95.2" x2="419.3" y2="95.2" stroke="#a6a6a6" stroke-width="1.2" stroke-dasharray="2.2 1.1"/>
<ellipse cx="413.1" cy="95.2" rx="1.9" ry="2.6" fill="#a6a6a6"/>
<text x="425.3" y="99.0" font-size="10.05" fill="#000">HFDcoco</text>
<line x1="482.3" y1="95.2" x2="494.7" y2="95.2" stroke="#7030a0" stroke-width="1.2"/>
<ellipse cx="488.5" cy="95.2" rx="1.9" ry="2.6" fill="#7030a0"/>
<text x="500.8" y="99.0" font-size="10.05" fill="#000">HFDlard</text>
<line x1="552.5" y1="95.2" x2="564.6" y2="95.2" stroke="#00b0f0" stroke-width="1.2"/>
<ellipse cx="558.55" cy="95.2" rx="1.9" ry="2.6" fill="#00b0f0"/>
<text x="571.2" y="99.0" font-size="10.05" fill="#000">WD</text>
<line x1="602.7" y1="95.2" x2="615" y2="95.2" stroke="#c55a11" stroke-width="1.2"/>
<ellipse cx="608.85" cy="95.2" rx="1.9" ry="2.6" fill="#c55a11"/>
<text x="621.1" y="99.0" font-size="10.05" fill="#000">HStD</text>
<g class="tk">
<text style="text-rendering:geometricPrecision" x="324.40" y="122.10" font-size="7.55" text-anchor="middle" fill="#000">DGRP_399 (1)</text>
<path d="M261.40 127.50V224.50H387.20" fill="none" stroke="#444" stroke-width="0.8"/>
<text x="258.40" y="226.80" font-size="6.5" text-anchor="end" fill="#333">0</text>
<text x="258.40" y="207.40" font-size="6.5" text-anchor="end" fill="#333">20</text>
<text x="258.40" y="188.00" font-size="6.5" text-anchor="end" fill="#333">40</text>
<text x="258.40" y="168.60" font-size="6.5" text-anchor="end" fill="#333">60</text>
<text x="258.40" y="149.20" font-size="6.5" text-anchor="end" fill="#333">80</text>
<text x="259.00" y="129.80" font-size="6.5" text-anchor="end" fill="#333">100</text>
<text x="266.25" y="233.10" font-size="6.5" text-anchor="middle" fill="#333">0</text>
<text x="287.15" y="233.10" font-size="6.5" text-anchor="middle" fill="#333">2</text>
<text x="308.05" y="233.10" font-size="6.5" text-anchor="middle" fill="#333">4</text>
<text x="328.95" y="233.10" font-size="6.5" text-anchor="middle" fill="#333">6</text>
<text x="349.85" y="233.10" font-size="6.5" text-anchor="middle" fill="#333">8</text>
<text x="370.75" y="233.10" font-size="6.5" text-anchor="middle" fill="#333">10</text>
<polyline points="266.25,224.50 276.70,224.50 287.15,224.50 297.60,224.50 308.05,224.50 318.50,224.50 328.95,141.37 339.40,132.35 349.85,132.35 360.30,132.35 370.75,132.35 381.20,132.35" fill="none" stroke="#000000" stroke-width="0.9" stroke-linejoin="round"/>
<g fill="#000000"><circle cx="266.25" cy="224.50" r="1.7"/><circle cx="276.70" cy="224.50" r="1.7"/><circle cx="287.15" cy="224.50" r="1.7"/><circle cx="297.60" cy="224.50" r="1.7"/><circle cx="308.05" cy="224.50" r="1.7"/><circle cx="318.50" cy="224.50" r="1.7"/><circle cx="328.95" cy="141.37" r="1.7"/><circle cx="339.40" cy="132.35" r="1.7"/><circle cx="349.85" cy="132.35" r="1.7"/><circle cx="360.30" cy="132.35" r="1.7"/><circle cx="370.75" cy="132.35" r="1.7"/><circle cx="381.20" cy="132.35" r="1.7"/></g>
<polyline points="266.25,224.50 276.70,224.50 287.15,224.50 297.60,224.50 308.05,224.50 318.50,224.50 328.95,224.50 339.40,186.96 349.85,138.66 360.30,137.88 370.75,136.81 381.20,136.81" fill="none" stroke="#ff0000" stroke-width="0.9" stroke-linejoin="round" stroke-dasharray="2.2 1.1"/>
<g fill="#ff0000"><circle cx="266.25" cy="224.50" r="1.7"/><circle cx="276.70" cy="224.50" r="1.7"/><circle cx="287.15" cy="224.50" r="1.7"/><circle cx="297.60" cy="224.50" r="1.7"/><circle cx="308.05" cy="224.50" r="1.7"/><circle cx="318.50" cy="224.50" r="1.7"/><circle cx="328.95" cy="224.50" r="1.7"/><circle cx="339.40" cy="186.96" r="1.7"/><circle cx="349.85" cy="138.66" r="1.7"/><circle cx="360.30" cy="137.88" r="1.7"/><circle cx="370.75" cy="136.81" r="1.7"/><circle cx="381.20" cy="136.81" r="1.7"/></g>
<polyline points="266.25,224.50 276.70,224.50 287.15,224.50 297.60,224.50 308.05,224.50 318.50,223.04 328.95,152.72 339.40,146.32 349.85,145.15 360.30,145.15 370.75,145.15 381.20,145.15" fill="none" stroke="#a6a6a6" stroke-width="0.9" stroke-linejoin="round" stroke-dasharray="2.2 1.1"/>
<g fill="#a6a6a6"><circle cx="266.25" cy="224.50" r="1.7"/><circle cx="276.70" cy="224.50" r="1.7"/><circle cx="287.15" cy="224.50" r="1.7"/><circle cx="297.60" cy="224.50" r="1.7"/><circle cx="308.05" cy="224.50" r="1.7"/><circle cx="318.50" cy="223.04" r="1.7"/><circle cx="328.95" cy="152.72" r="1.7"/><circle cx="339.40" cy="146.32" r="1.7"/><circle cx="349.85" cy="145.15" r="1.7"/><circle cx="360.30" cy="145.15" r="1.7"/><circle cx="370.75" cy="145.15" r="1.7"/><circle cx="381.20" cy="145.15" r="1.7"/></g>
<polyline points="266.25,224.50 276.70,224.50 287.15,224.50 297.60,224.50 308.05,224.50 318.50,223.53 328.95,133.32 339.40,132.35 349.85,132.35 360.30,132.35 370.75,132.35 381.20,132.35" fill="none" stroke="#7030a0" stroke-width="0.9" stroke-linejoin="round"/>
<g fill="#7030a0"><circle cx="266.25" cy="224.50" r="1.7"/><circle cx="276.70" cy="224.50" r="1.7"/><circle cx="287.15" cy="224.50" r="1.7"/><circle cx="297.60" cy="224.50" r="1.7"/><circle cx="308.05" cy="224.50" r="1.7"/><circle cx="318.50" cy="223.53" r="1.7"/><circle cx="328.95" cy="133.32" r="1.7"/><circle cx="339.40" cy="132.35" r="1.7"/><circle cx="349.85" cy="132.35" r="1.7"/><circle cx="360.30" cy="132.35" r="1.7"/><circle cx="370.75" cy="132.35" r="1.7"/><circle cx="381.20" cy="132.35" r="1.7"/></g>
<polyline points="266.25,224.50 276.70,224.50 287.15,224.50 297.60,224.50 308.05,224.50 318.50,224.50 328.95,208.98 339.40,141.08 349.85,135.45 360.30,133.32 370.75,133.32 381.20,133.32" fill="none" stroke="#00b0f0" stroke-width="0.9" stroke-linejoin="round"/>
<g fill="#00b0f0"><circle cx="266.25" cy="224.50" r="1.7"/><circle cx="276.70" cy="224.50" r="1.7"/><circle cx="287.15" cy="224.50" r="1.7"/><circle cx="297.60" cy="224.50" r="1.7"/><circle cx="308.05" cy="224.50" r="1.7"/><circle cx="318.50" cy="224.50" r="1.7"/><circle cx="328.95" cy="208.98" r="1.7"/><circle cx="339.40" cy="141.08" r="1.7"/><circle cx="349.85" cy="135.45" r="1.7"/><circle cx="360.30" cy="133.32" r="1.7"/><circle cx="370.75" cy="133.32" r="1.7"/><circle cx="381.20" cy="133.32" r="1.7"/></g>
<polyline points="266.25,224.50 276.70,224.50 287.15,224.50 297.60,224.50 308.05,224.50 318.50,220.62 328.95,130.41 339.40,128.95 349.85,128.95 360.30,128.95 370.75,128.95 381.20,128.95" fill="none" stroke="#c55a11" stroke-width="0.9" stroke-linejoin="round"/>
<g fill="#c55a11"><circle cx="266.25" cy="224.50" r="1.7"/><circle cx="276.70" cy="224.50" r="1.7"/><circle cx="287.15" cy="224.50" r="1.7"/><circle cx="297.60" cy="224.50" r="1.7"/><circle cx="308.05" cy="224.50" r="1.7"/><circle cx="318.50" cy="220.62" r="1.7"/><circle cx="328.95" cy="130.41" r="1.7"/><circle cx="339.40" cy="128.95" r="1.7"/><circle cx="349.85" cy="128.95" r="1.7"/><circle cx="360.30" cy="128.95" r="1.7"/><circle cx="370.75" cy="128.95" r="1.7"/><circle cx="381.20" cy="128.95" r="1.7"/></g>
</g>
<g class="tk">
<text style="text-rendering:geometricPrecision" x="473.40" y="122.10" font-size="7.55" text-anchor="middle" fill="#000">DGRP_508 (2)</text>
<path d="M410.40 127.50V224.50H536.20" fill="none" stroke="#444" stroke-width="0.8"/>
<text x="407.40" y="226.80" font-size="6.5" text-anchor="end" fill="#333">0</text>
<text x="407.40" y="207.40" font-size="6.5" text-anchor="end" fill="#333">20</text>
<text x="407.40" y="188.00" font-size="6.5" text-anchor="end" fill="#333">40</text>
<text x="407.40" y="168.60" font-size="6.5" text-anchor="end" fill="#333">60</text>
<text x="407.40" y="149.20" font-size="6.5" text-anchor="end" fill="#333">80</text>
<text x="408.00" y="129.80" font-size="6.5" text-anchor="end" fill="#333">100</text>
<text x="415.25" y="233.10" font-size="6.5" text-anchor="middle" fill="#333">0</text>
<text x="436.15" y="233.10" font-size="6.5" text-anchor="middle" fill="#333">2</text>
<text x="457.05" y="233.10" font-size="6.5" text-anchor="middle" fill="#333">4</text>
<text x="477.95" y="233.10" font-size="6.5" text-anchor="middle" fill="#333">6</text>
<text x="498.85" y="233.10" font-size="6.5" text-anchor="middle" fill="#333">8</text>
<text x="519.75" y="233.10" font-size="6.5" text-anchor="middle" fill="#333">10</text>
<polyline points="415.25,224.50 425.70,224.50 436.15,224.50 446.60,224.50 457.05,224.50 467.50,224.50 477.95,139.62 488.40,131.67 498.85,131.67 509.30,131.67 519.75,131.67 530.20,131.67" fill="none" stroke="#000000" stroke-width="0.9" stroke-linejoin="round"/>
<g fill="#000000"><circle cx="415.25" cy="224.50" r="1.7"/><circle cx="425.70" cy="224.50" r="1.7"/><circle cx="436.15" cy="224.50" r="1.7"/><circle cx="446.60" cy="224.50" r="1.7"/><circle cx="457.05" cy="224.50" r="1.7"/><circle cx="467.50" cy="224.50" r="1.7"/><circle cx="477.95" cy="139.62" r="1.7"/><circle cx="488.40" cy="131.67" r="1.7"/><circle cx="498.85" cy="131.67" r="1.7"/><circle cx="509.30" cy="131.67" r="1.7"/><circle cx="519.75" cy="131.67" r="1.7"/><circle cx="530.20" cy="131.67" r="1.7"/></g>
<polyline points="415.25,224.50 425.70,224.50 436.15,224.50 446.60,224.50 457.05,224.50 467.50,224.50 477.95,224.50 488.40,212.28 498.85,140.30 509.30,134.78 519.75,134.29 530.20,134.29" fill="none" stroke="#ff0000" stroke-width="0.9" stroke-linejoin="round" stroke-dasharray="2.2 1.1"/>
<g fill="#ff0000"><circle cx="415.25" cy="224.50" r="1.7"/><circle cx="425.70" cy="224.50" r="1.7"/><circle cx="436.15" cy="224.50" r="1.7"/><circle cx="446.60" cy="224.50" r="1.7"/><circle cx="457.05" cy="224.50" r="1.7"/><circle cx="467.50" cy="224.50" r="1.7"/><circle cx="477.95" cy="224.50" r="1.7"/><circle cx="488.40" cy="212.28" r="1.7"/><circle cx="498.85" cy="140.30" r="1.7"/><circle cx="509.30" cy="134.78" r="1.7"/><circle cx="519.75" cy="134.29" r="1.7"/><circle cx="530.20" cy="134.29" r="1.7"/></g>
<polyline points="415.25,224.50 425.70,224.50 436.15,224.50 446.60,224.50 457.05,224.50 467.50,224.50 477.95,153.69 488.40,146.51 498.85,145.25 509.30,145.25 519.75,145.25 530.20,145.25" fill="none" stroke="#a6a6a6" stroke-width="0.9" stroke-linejoin="round" stroke-dasharray="2.2 1.1"/>
<g fill="#a6a6a6"><circle cx="415.25" cy="224.50" r="1.7"/><circle cx="425.70" cy="224.50" r="1.7"/><circle cx="436.15" cy="224.50" r="1.7"/><circle cx="446.60" cy="224.50" r="1.7"/><circle cx="457.05" cy="224.50" r="1.7"/><circle cx="467.50" cy="224.50" r="1.7"/><circle cx="477.95" cy="153.69" r="1.7"/><circle cx="488.40" cy="146.51" r="1.7"/><circle cx="498.85" cy="145.25" r="1.7"/><circle cx="509.30" cy="145.25" r="1.7"/><circle cx="519.75" cy="145.25" r="1.7"/><circle cx="530.20" cy="145.25" r="1.7"/></g>
<polyline points="415.25,224.50 425.70,224.50 436.15,224.50 446.60,224.50 457.05,224.50 467.50,224.50 477.95,136.81 488.40,131.67 498.85,131.67 509.30,131.67 519.75,131.67 530.20,131.67" fill="none" stroke="#7030a0" stroke-width="0.9" stroke-linejoin="round"/>
<g fill="#7030a0"><circle cx="415.25" cy="224.50" r="1.7"/><circle cx="425.70" cy="224.50" r="1.7"/><circle cx="436.15" cy="224.50" r="1.7"/><circle cx="446.60" cy="224.50" r="1.7"/><circle cx="457.05" cy="224.50" r="1.7"/><circle cx="467.50" cy="224.50" r="1.7"/><circle cx="477.95" cy="136.81" r="1.7"/><circle cx="488.40" cy="131.67" r="1.7"/><circle cx="498.85" cy="131.67" r="1.7"/><circle cx="509.30" cy="131.67" r="1.7"/><circle cx="519.75" cy="131.67" r="1.7"/><circle cx="530.20" cy="131.67" r="1.7"/></g>
<polyline points="415.25,224.50 425.70,224.50 436.15,224.50 446.60,224.50 457.05,224.50 467.50,224.50 477.95,182.40 488.40,131.38 498.85,131.38 509.30,131.38 519.75,131.38 530.20,131.38" fill="none" stroke="#00b0f0" stroke-width="0.9" stroke-linejoin="round"/>
<g fill="#00b0f0"><circle cx="415.25" cy="224.50" r="1.7"/><circle cx="425.70" cy="224.50" r="1.7"/><circle cx="436.15" cy="224.50" r="1.7"/><circle cx="446.60" cy="224.50" r="1.7"/><circle cx="457.05" cy="224.50" r="1.7"/><circle cx="467.50" cy="224.50" r="1.7"/><circle cx="477.95" cy="182.40" r="1.7"/><circle cx="488.40" cy="131.38" r="1.7"/><circle cx="498.85" cy="131.38" r="1.7"/><circle cx="509.30" cy="131.38" r="1.7"/><circle cx="519.75" cy="131.38" r="1.7"/><circle cx="530.20" cy="131.38" r="1.7"/></g>
<polyline points="415.25,224.50 425.70,224.50 436.15,224.50 446.60,224.50 457.05,224.50 467.50,224.50 477.95,131.38 488.40,130.41 498.85,130.41 509.30,130.41 519.75,130.41 530.20,130.41" fill="none" stroke="#c55a11" stroke-width="0.9" stroke-linejoin="round"/>
<g fill="#c55a11"><circle cx="415.25" cy="224.50" r="1.7"/><circle cx="425.70" cy="224.50" r="1.7"/><circle cx="436.15" cy="224.50" r="1.7"/><circle cx="446.60" cy="224.50" r="1.7"/><circle cx="457.05" cy="224.50" r="1.7"/><circle cx="467.50" cy="224.50" r="1.7"/><circle cx="477.95" cy="131.38" r="1.7"/><circle cx="488.40" cy="130.41" r="1.7"/><circle cx="498.85" cy="130.41" r="1.7"/><circle cx="509.30" cy="130.41" r="1.7"/><circle cx="519.75" cy="130.41" r="1.7"/><circle cx="530.20" cy="130.41" r="1.7"/></g>
</g>
<g class="tk">
<text style="text-rendering:geometricPrecision" x="622.40" y="122.10" font-size="7.55" text-anchor="middle" fill="#000">DGRP_189 (3)</text>
<path d="M559.40 127.50V224.50H685.20" fill="none" stroke="#444" stroke-width="0.8"/>
<text x="556.40" y="226.80" font-size="6.5" text-anchor="end" fill="#333">0</text>
<text x="556.40" y="207.40" font-size="6.5" text-anchor="end" fill="#333">20</text>
<text x="556.40" y="188.00" font-size="6.5" text-anchor="end" fill="#333">40</text>
<text x="556.40" y="168.60" font-size="6.5" text-anchor="end" fill="#333">60</text>
<text x="556.40" y="149.20" font-size="6.5" text-anchor="end" fill="#333">80</text>
<text x="557.00" y="129.80" font-size="6.5" text-anchor="end" fill="#333">100</text>
<text x="564.25" y="233.10" font-size="6.5" text-anchor="middle" fill="#333">0</text>
<text x="585.15" y="233.10" font-size="6.5" text-anchor="middle" fill="#333">2</text>
<text x="606.05" y="233.10" font-size="6.5" text-anchor="middle" fill="#333">4</text>
<text x="626.95" y="233.10" font-size="6.5" text-anchor="middle" fill="#333">6</text>
<text x="647.85" y="233.10" font-size="6.5" text-anchor="middle" fill="#333">8</text>
<text x="668.75" y="233.10" font-size="6.5" text-anchor="middle" fill="#333">10</text>
<polyline points="564.25,224.50 574.70,224.50 585.15,224.50 595.60,224.50 606.05,224.50 616.50,224.50 626.95,174.06 637.40,136.23 647.85,132.35 658.30,130.60 668.75,130.60 679.20,130.60" fill="none" stroke="#000000" stroke-width="0.9" stroke-linejoin="round"/>
<g fill="#000000"><circle cx="564.25" cy="224.50" r="1.7"/><circle cx="574.70" cy="224.50" r="1.7"/><circle cx="585.15" cy="224.50" r="1.7"/><circle cx="595.60" cy="224.50" r="1.7"/><circle cx="606.05" cy="224.50" r="1.7"/><circle cx="616.50" cy="224.50" r="1.7"/><circle cx="626.95" cy="174.06" r="1.7"/><circle cx="637.40" cy="136.23" r="1.7"/><circle cx="647.85" cy="132.35" r="1.7"/><circle cx="658.30" cy="130.60" r="1.7"/><circle cx="668.75" cy="130.60" r="1.7"/><circle cx="679.20" cy="130.60" r="1.7"/></g>
<polyline points="564.25,224.50 574.70,224.50 585.15,224.50 595.60,224.50 606.05,224.50 616.50,224.50 626.95,224.50 637.40,200.83 647.85,140.11 658.30,138.66 668.75,137.88 679.20,138.17" fill="none" stroke="#ff0000" stroke-width="0.9" stroke-linejoin="round" stroke-dasharray="2.2 1.1"/>
<g fill="#ff0000"><circle cx="564.25" cy="224.50" r="1.7"/><circle cx="574.70" cy="224.50" r="1.7"/><circle cx="585.15" cy="224.50" r="1.7"/><circle cx="595.60" cy="224.50" r="1.7"/><circle cx="606.05" cy="224.50" r="1.7"/><circle cx="616.50" cy="224.50" r="1.7"/><circle cx="626.95" cy="224.50" r="1.7"/><circle cx="637.40" cy="200.83" r="1.7"/><circle cx="647.85" cy="140.11" r="1.7"/><circle cx="658.30" cy="138.66" r="1.7"/><circle cx="668.75" cy="137.88" r="1.7"/><circle cx="679.20" cy="138.17" r="1.7"/></g>
<polyline points="564.25,224.50 574.70,224.50 585.15,224.50 595.60,224.50 606.05,224.50 616.50,224.50 626.95,174.06 637.40,154.18 647.85,149.32 658.30,146.90 668.75,146.90 679.20,146.90" fill="none" stroke="#a6a6a6" stroke-width="0.9" stroke-linejoin="round" stroke-dasharray="2.2 1.1"/>
<g fill="#a6a6a6"><circle cx="564.25" cy="224.50" r="1.7"/><circle cx="574.70" cy="224.50" r="1.7"/><circle cx="585.15" cy="224.50" r="1.7"/><circle cx="595.60" cy="224.50" r="1.7"/><circle cx="606.05" cy="224.50" r="1.7"/><circle cx="616.50" cy="224.50" r="1.7"/><circle cx="626.95" cy="174.06" r="1.7"/><circle cx="637.40" cy="154.18" r="1.7"/><circle cx="647.85" cy="149.32" r="1.7"/><circle cx="658.30" cy="146.90" r="1.7"/><circle cx="668.75" cy="146.90" r="1.7"/><circle cx="679.20" cy="146.90" r="1.7"/></g>
<polyline points="564.25,224.50 574.70,224.50 585.15,224.50 595.60,224.50 606.05,224.50 616.50,216.84 626.95,135.45 637.40,128.86 647.85,128.95 658.30,128.95 668.75,128.95 679.20,128.95" fill="none" stroke="#7030a0" stroke-width="0.9" stroke-linejoin="round"/>
<g fill="#7030a0"><circle cx="564.25" cy="224.50" r="1.7"/><circle cx="574.70" cy="224.50" r="1.7"/><circle cx="585.15" cy="224.50" r="1.7"/><circle cx="595.60" cy="224.50" r="1.7"/><circle cx="606.05" cy="224.50" r="1.7"/><circle cx="616.50" cy="216.84" r="1.7"/><circle cx="626.95" cy="135.45" r="1.7"/><circle cx="637.40" cy="128.86" r="1.7"/><circle cx="647.85" cy="128.95" r="1.7"/><circle cx="658.30" cy="128.95" r="1.7"/><circle cx="668.75" cy="128.95" r="1.7"/><circle cx="679.20" cy="128.95" r="1.7"/></g>
<polyline points="564.25,224.50 574.70,224.50 585.15,224.50 595.60,224.50 606.05,224.50 616.50,224.50 626.95,156.31 637.40,130.99 647.85,128.66 658.30,128.66 668.75,128.66 679.20,128.66" fill="none" stroke="#00b0f0" stroke-width="0.9" stroke-linejoin="round"/>
<g fill="#00b0f0"><circle cx="564.25" cy="224.50" r="1.7"/><circle cx="574.70" cy="224.50" r="1.7"/><circle cx="585.15" cy="224.50" r="1.7"/><circle cx="595.60" cy="224.50" r="1.7"/><circle cx="606.05" cy="224.50" r="1.7"/><circle cx="616.50" cy="224.50" r="1.7"/><circle cx="626.95" cy="156.31" r="1.7"/><circle cx="637.40" cy="130.99" r="1.7"/><circle cx="647.85" cy="128.66" r="1.7"/><circle cx="658.30" cy="128.66" r="1.7"/><circle cx="668.75" cy="128.66" r="1.7"/><circle cx="679.20" cy="128.66" r="1.7"/></g>
<polyline points="564.25,224.50 574.70,224.50 585.15,224.50 595.60,224.50 606.05,224.50 616.50,223.53 626.95,144.18 637.40,133.81 647.85,130.60 658.30,130.60 668.75,130.60 679.20,130.60" fill="none" stroke="#c55a11" stroke-width="0.9" stroke-linejoin="round"/>
<g fill="#c55a11"><circle cx="564.25" cy="224.50" r="1.7"/><circle cx="574.70" cy="224.50" r="1.7"/><circle cx="585.15" cy="224.50" r="1.7"/><circle cx="595.60" cy="224.50" r="1.7"/><circle cx="606.05" cy="224.50" r="1.7"/><circle cx="616.50" cy="223.53" r="1.7"/><circle cx="626.95" cy="144.18" r="1.7"/><circle cx="637.40" cy="133.81" r="1.7"/><circle cx="647.85" cy="130.60" r="1.7"/><circle cx="658.30" cy="130.60" r="1.7"/><circle cx="668.75" cy="130.60" r="1.7"/><circle cx="679.20" cy="130.60" r="1.7"/></g>
</g>
<g class="tk">
<text style="text-rendering:geometricPrecision" x="324.40" y="251.18" font-size="7.55" text-anchor="middle" fill="#000">DGRP_42 (4)</text>
<path d="M261.40 256.58V353.58H387.20" fill="none" stroke="#444" stroke-width="0.8"/>
<text x="258.40" y="355.88" font-size="6.5" text-anchor="end" fill="#333">0</text>
<text x="258.40" y="336.48" font-size="6.5" text-anchor="end" fill="#333">20</text>
<text x="258.40" y="317.08" font-size="6.5" text-anchor="end" fill="#333">40</text>
<text x="258.40" y="297.68" font-size="6.5" text-anchor="end" fill="#333">60</text>
<text x="258.40" y="278.28" font-size="6.5" text-anchor="end" fill="#333">80</text>
<text x="259.00" y="258.88" font-size="6.5" text-anchor="end" fill="#333">100</text>
<text x="266.25" y="362.18" font-size="6.5" text-anchor="middle" fill="#333">0</text>
<text x="287.15" y="362.18" font-size="6.5" text-anchor="middle" fill="#333">2</text>
<text x="308.05" y="362.18" font-size="6.5" text-anchor="middle" fill="#333">4</text>
<text x="328.95" y="362.18" font-size="6.5" text-anchor="middle" fill="#333">6</text>
<text x="349.85" y="362.18" font-size="6.5" text-anchor="middle" fill="#333">8</text>
<text x="370.75" y="362.18" font-size="6.5" text-anchor="middle" fill="#333">10</text>
<polyline points="266.25,353.58 276.70,353.58 287.15,353.58 297.60,353.58 308.05,353.58 318.50,353.58 328.95,346.60 339.40,324.77 349.85,312.55 360.30,309.93 370.75,308.67 381.20,305.66" fill="none" stroke="#000000" stroke-width="0.9" stroke-linejoin="round"/>
<g fill="#000000"><circle cx="266.25" cy="353.58" r="1.7"/><circle cx="276.70" cy="353.58" r="1.7"/><circle cx="287.15" cy="353.58" r="1.7"/><circle cx="297.60" cy="353.58" r="1.7"/><circle cx="308.05" cy="353.58" r="1.7"/><circle cx="318.50" cy="353.58" r="1.7"/><circle cx="328.95" cy="346.60" r="1.7"/><circle cx="339.40" cy="324.77" r="1.7"/><circle cx="349.85" cy="312.55" r="1.7"/><circle cx="360.30" cy="309.93" r="1.7"/><circle cx="370.75" cy="308.67" r="1.7"/><circle cx="381.20" cy="305.66" r="1.7"/></g>
<polyline points="266.25,353.58 276.70,353.58 287.15,353.58 297.60,353.58 308.05,353.58 318.50,353.58 328.95,353.58 339.40,353.58 349.85,351.64 360.30,349.41 370.75,348.73 381.20,338.06" fill="none" stroke="#ff0000" stroke-width="0.9" stroke-linejoin="round" stroke-dasharray="2.2 1.1"/>
<g fill="#ff0000"><circle cx="266.25" cy="353.58" r="1.7"/><circle cx="276.70" cy="353.58" r="1.7"/><circle cx="287.15" cy="353.58" r="1.7"/><circle cx="297.60" cy="353.58" r="1.7"/><circle cx="308.05" cy="353.58" r="1.7"/><circle cx="318.50" cy="353.58" r="1.7"/><circle cx="328.95" cy="353.58" r="1.7"/><circle cx="339.40" cy="353.58" r="1.7"/><circle cx="349.85" cy="351.64" r="1.7"/><circle cx="360.30" cy="349.41" r="1.7"/><circle cx="370.75" cy="348.73" r="1.7"/><circle cx="381.20" cy="338.06" r="1.7"/></g>
<polyline points="266.25,353.58 276.70,353.58 287.15,353.58 297.60,353.58 308.05,353.58 318.50,353.58 328.95,352.61 339.40,347.08 349.85,346.21 360.30,346.21 370.75,346.21 381.20,346.21" fill="none" stroke="#a6a6a6" stroke-width="0.9" stroke-linejoin="round" stroke-dasharray="2.2 1.1"/>
<g fill="#a6a6a6"><circle cx="266.25" cy="353.58" r="1.7"/><circle cx="276.70" cy="353.58" r="1.7"/><circle cx="287.15" cy="353.58" r="1.7"/><circle cx="297.60" cy="353.58" r="1.7"/><circle cx="308.05" cy="353.58" r="1.7"/><circle cx="318.50" cy="353.58" r="1.7"/><circle cx="328.95" cy="352.61" r="1.7"/><circle cx="339.40" cy="347.08" r="1.7"/><circle cx="349.85" cy="346.21" r="1.7"/><circle cx="360.30" cy="346.21" r="1.7"/><circle cx="370.75" cy="346.21" r="1.7"/><circle cx="381.20" cy="346.21" r="1.7"/></g>
<polyline points="266.25,353.58 276.70,353.58 287.15,353.58 297.60,353.58 308.05,353.58 318.50,350.19 328.95,333.21 339.40,315.07 349.85,314.39 360.30,312.84 370.75,311.87 381.20,311.58" fill="none" stroke="#7030a0" stroke-width="0.9" stroke-linejoin="round"/>
<g fill="#7030a0"><circle cx="266.25" cy="353.58" r="1.7"/><circle cx="276.70" cy="353.58" r="1.7"/><circle cx="287.15" cy="353.58" r="1.7"/><circle cx="297.60" cy="353.58" r="1.7"/><circle cx="308.05" cy="353.58" r="1.7"/><circle cx="318.50" cy="350.19" r="1.7"/><circle cx="328.95" cy="333.21" r="1.7"/><circle cx="339.40" cy="315.07" r="1.7"/><circle cx="349.85" cy="314.39" r="1.7"/><circle cx="360.30" cy="312.84" r="1.7"/><circle cx="370.75" cy="311.87" r="1.7"/><circle cx="381.20" cy="311.58" r="1.7"/></g>
<polyline points="266.25,353.58 276.70,353.58 287.15,353.58 297.60,353.58 308.05,353.58 318.50,352.61 328.95,350.09 339.40,327.58 349.85,317.69 360.30,314.39 370.75,314.00 381.20,314.00" fill="none" stroke="#00b0f0" stroke-width="0.9" stroke-linejoin="round"/>
<g fill="#00b0f0"><circle cx="266.25" cy="353.58" r="1.7"/><circle cx="276.70" cy="353.58" r="1.7"/><circle cx="287.15" cy="353.58" r="1.7"/><circle cx="297.60" cy="353.58" r="1.7"/><circle cx="308.05" cy="353.58" r="1.7"/><circle cx="318.50" cy="352.61" r="1.7"/><circle cx="328.95" cy="350.09" r="1.7"/><circle cx="339.40" cy="327.58" r="1.7"/><circle cx="349.85" cy="317.69" r="1.7"/><circle cx="360.30" cy="314.39" r="1.7"/><circle cx="370.75" cy="314.00" r="1.7"/><circle cx="381.20" cy="314.00" r="1.7"/></g>
<polyline points="266.25,353.58 276.70,353.58 287.15,353.58 297.60,353.58 308.05,353.58 318.50,353.29 328.95,328.94 339.40,304.11 349.85,298.00 360.30,294.90 370.75,293.44 381.20,293.44" fill="none" stroke="#c55a11" stroke-width="0.9" stroke-linejoin="round"/>
<g fill="#c55a11"><circle cx="266.25" cy="353.58" r="1.7"/><circle cx="276.70" cy="353.58" r="1.7"/><circle cx="287.15" cy="353.58" r="1.7"/><circle cx="297.60" cy="353.58" r="1.7"/><circle cx="308.05" cy="353.58" r="1.7"/><circle cx="318.50" cy="353.29" r="1.7"/><circle cx="328.95" cy="328.94" r="1.7"/><circle cx="339.40" cy="304.11" r="1.7"/><circle cx="349.85" cy="298.00" r="1.7"/><circle cx="360.30" cy="294.90" r="1.7"/><circle cx="370.75" cy="293.44" r="1.7"/><circle cx="381.20" cy="293.44" r="1.7"/></g>
</g>
<g class="tk">
<text style="text-rendering:geometricPrecision" x="473.40" y="251.18" font-size="7.55" text-anchor="middle" fill="#000">DGRP_336 (5)</text>
<path d="M410.40 256.58V353.58H536.20" fill="none" stroke="#444" stroke-width="0.8"/>
<text x="407.40" y="355.88" font-size="6.5" text-anchor="end" fill="#333">0</text>
<text x="407.40" y="336.48" font-size="6.5" text-anchor="end" fill="#333">20</text>
<text x="407.40" y="317.08" font-size="6.5" text-anchor="end" fill="#333">40</text>
<text x="407.40" y="297.68" font-size="6.5" text-anchor="end" fill="#333">60</text>
<text x="407.40" y="278.28" font-size="6.5" text-anchor="end" fill="#333">80</text>
<text x="408.00" y="258.88" font-size="6.5" text-anchor="end" fill="#333">100</text>
<text x="415.25" y="362.18" font-size="6.5" text-anchor="middle" fill="#333">0</text>
<text x="436.15" y="362.18" font-size="6.5" text-anchor="middle" fill="#333">2</text>
<text x="457.05" y="362.18" font-size="6.5" text-anchor="middle" fill="#333">4</text>
<text x="477.95" y="362.18" font-size="6.5" text-anchor="middle" fill="#333">6</text>
<text x="498.85" y="362.18" font-size="6.5" text-anchor="middle" fill="#333">8</text>
<text x="519.75" y="362.18" font-size="6.5" text-anchor="middle" fill="#333">10</text>
<polyline points="415.25,353.58 425.70,353.58 436.15,353.58 446.60,353.58 457.05,353.58 467.50,352.90 477.95,323.32 488.40,323.03 498.85,321.18 509.30,318.85 519.75,318.66 530.20,318.66" fill="none" stroke="#000000" stroke-width="0.9" stroke-linejoin="round"/>
<g fill="#000000"><circle cx="415.25" cy="353.58" r="1.7"/><circle cx="425.70" cy="353.58" r="1.7"/><circle cx="436.15" cy="353.58" r="1.7"/><circle cx="446.60" cy="353.58" r="1.7"/><circle cx="457.05" cy="353.58" r="1.7"/><circle cx="467.50" cy="352.90" r="1.7"/><circle cx="477.95" cy="323.32" r="1.7"/><circle cx="488.40" cy="323.03" r="1.7"/><circle cx="498.85" cy="321.18" r="1.7"/><circle cx="509.30" cy="318.85" r="1.7"/><circle cx="519.75" cy="318.66" r="1.7"/><circle cx="530.20" cy="318.66" r="1.7"/></g>
<polyline points="415.25,353.58 425.70,353.58 436.15,353.58 446.60,353.58 457.05,353.58 467.50,353.58 477.95,347.37 488.40,323.51 498.85,318.47 509.30,317.50 519.75,317.21 530.20,317.21" fill="none" stroke="#ff0000" stroke-width="0.9" stroke-linejoin="round" stroke-dasharray="2.2 1.1"/>
<g fill="#ff0000"><circle cx="415.25" cy="353.58" r="1.7"/><circle cx="425.70" cy="353.58" r="1.7"/><circle cx="436.15" cy="353.58" r="1.7"/><circle cx="446.60" cy="353.58" r="1.7"/><circle cx="457.05" cy="353.58" r="1.7"/><circle cx="467.50" cy="353.58" r="1.7"/><circle cx="477.95" cy="347.37" r="1.7"/><circle cx="488.40" cy="323.51" r="1.7"/><circle cx="498.85" cy="318.47" r="1.7"/><circle cx="509.30" cy="317.50" r="1.7"/><circle cx="519.75" cy="317.21" r="1.7"/><circle cx="530.20" cy="317.21" r="1.7"/></g>
<polyline points="415.25,353.58 425.70,353.58 436.15,353.58 446.60,353.58 457.05,353.58 467.50,353.58 477.95,329.91 488.40,328.36 498.85,326.71 509.30,326.61 519.75,326.61 530.20,326.61" fill="none" stroke="#a6a6a6" stroke-width="0.9" stroke-linejoin="round" stroke-dasharray="2.2 1.1"/>
<g fill="#a6a6a6"><circle cx="415.25" cy="353.58" r="1.7"/><circle cx="425.70" cy="353.58" r="1.7"/><circle cx="436.15" cy="353.58" r="1.7"/><circle cx="446.60" cy="353.58" r="1.7"/><circle cx="457.05" cy="353.58" r="1.7"/><circle cx="467.50" cy="353.58" r="1.7"/><circle cx="477.95" cy="329.91" r="1.7"/><circle cx="488.40" cy="328.36" r="1.7"/><circle cx="498.85" cy="326.71" r="1.7"/><circle cx="509.30" cy="326.61" r="1.7"/><circle cx="519.75" cy="326.61" r="1.7"/><circle cx="530.20" cy="326.61" r="1.7"/></g>
<polyline points="415.25,353.58 425.70,353.58 436.15,353.58 446.60,353.58 457.05,353.58 467.50,329.72 477.95,307.31 488.40,306.34 498.85,304.30 509.30,302.17 519.75,302.17 530.20,302.17" fill="none" stroke="#7030a0" stroke-width="0.9" stroke-linejoin="round"/>
<g fill="#7030a0"><circle cx="415.25" cy="353.58" r="1.7"/><circle cx="425.70" cy="353.58" r="1.7"/><circle cx="436.15" cy="353.58" r="1.7"/><circle cx="446.60" cy="353.58" r="1.7"/><circle cx="457.05" cy="353.58" r="1.7"/><circle cx="467.50" cy="329.72" r="1.7"/><circle cx="477.95" cy="307.31" r="1.7"/><circle cx="488.40" cy="306.34" r="1.7"/><circle cx="498.85" cy="304.30" r="1.7"/><circle cx="509.30" cy="302.17" r="1.7"/><circle cx="519.75" cy="302.17" r="1.7"/><circle cx="530.20" cy="302.17" r="1.7"/></g>
<polyline points="415.25,353.58 425.70,353.58 436.15,353.58 446.60,353.58 457.05,353.58 467.50,350.48 477.95,317.50 488.40,310.51 498.85,307.70 509.30,306.34 519.75,306.34 530.20,306.34" fill="none" stroke="#00b0f0" stroke-width="0.9" stroke-linejoin="round"/>
<g fill="#00b0f0"><circle cx="415.25" cy="353.58" r="1.7"/><circle cx="425.70" cy="353.58" r="1.7"/><circle cx="436.15" cy="353.58" r="1.7"/><circle cx="446.60" cy="353.58" r="1.7"/><circle cx="457.05" cy="353.58" r="1.7"/><circle cx="467.50" cy="350.48" r="1.7"/><circle cx="477.95" cy="317.50" r="1.7"/><circle cx="488.40" cy="310.51" r="1.7"/><circle cx="498.85" cy="307.70" r="1.7"/><circle cx="509.30" cy="306.34" r="1.7"/><circle cx="519.75" cy="306.34" r="1.7"/><circle cx="530.20" cy="306.34" r="1.7"/></g>
<polyline points="415.25,353.58 425.70,353.58 436.15,353.58 446.60,353.58 457.05,353.58 467.50,336.12 477.95,302.17 488.40,301.20 498.85,300.52 509.30,296.35 519.75,296.35 530.20,296.35" fill="none" stroke="#c55a11" stroke-width="0.9" stroke-linejoin="round"/>
<g fill="#c55a11"><circle cx="415.25" cy="353.58" r="1.7"/><circle cx="425.70" cy="353.58" r="1.7"/><circle cx="436.15" cy="353.58" r="1.7"/><circle cx="446.60" cy="353.58" r="1.7"/><circle cx="457.05" cy="353.58" r="1.7"/><circle cx="467.50" cy="336.12" r="1.7"/><circle cx="477.95" cy="302.17" r="1.7"/><circle cx="488.40" cy="301.20" r="1.7"/><circle cx="498.85" cy="300.52" r="1.7"/><circle cx="509.30" cy="296.35" r="1.7"/><circle cx="519.75" cy="296.35" r="1.7"/><circle cx="530.20" cy="296.35" r="1.7"/></g>
</g>
<g class="tk">
<text style="text-rendering:geometricPrecision" x="622.40" y="251.18" font-size="7.55" text-anchor="middle" fill="#000">DGRP_887 (6)</text>
<path d="M559.40 256.58V353.58H685.20" fill="none" stroke="#444" stroke-width="0.8"/>
<text x="556.40" y="355.88" font-size="6.5" text-anchor="end" fill="#333">0</text>
<text x="556.40" y="336.48" font-size="6.5" text-anchor="end" fill="#333">20</text>
<text x="556.40" y="317.08" font-size="6.5" text-anchor="end" fill="#333">40</text>
<text x="556.40" y="297.68" font-size="6.5" text-anchor="end" fill="#333">60</text>
<text x="556.40" y="278.28" font-size="6.5" text-anchor="end" fill="#333">80</text>
<text x="557.00" y="258.88" font-size="6.5" text-anchor="end" fill="#333">100</text>
<text x="564.25" y="362.18" font-size="6.5" text-anchor="middle" fill="#333">0</text>
<text x="585.15" y="362.18" font-size="6.5" text-anchor="middle" fill="#333">2</text>
<text x="606.05" y="362.18" font-size="6.5" text-anchor="middle" fill="#333">4</text>
<text x="626.95" y="362.18" font-size="6.5" text-anchor="middle" fill="#333">6</text>
<text x="647.85" y="362.18" font-size="6.5" text-anchor="middle" fill="#333">8</text>
<text x="668.75" y="362.18" font-size="6.5" text-anchor="middle" fill="#333">10</text>
<polyline points="564.25,353.58 574.70,353.58 585.15,353.58 595.60,353.58 606.05,353.58 616.50,353.58 626.95,353.29 637.40,347.37 647.85,343.59 658.30,342.23 668.75,342.23 679.20,342.23" fill="none" stroke="#000000" stroke-width="0.9" stroke-linejoin="round"/>
<g fill="#000000"><circle cx="564.25" cy="353.58" r="1.7"/><circle cx="574.70" cy="353.58" r="1.7"/><circle cx="585.15" cy="353.58" r="1.7"/><circle cx="595.60" cy="353.58" r="1.7"/><circle cx="606.05" cy="353.58" r="1.7"/><circle cx="616.50" cy="353.58" r="1.7"/><circle cx="626.95" cy="353.29" r="1.7"/><circle cx="637.40" cy="347.37" r="1.7"/><circle cx="647.85" cy="343.59" r="1.7"/><circle cx="658.30" cy="342.23" r="1.7"/><circle cx="668.75" cy="342.23" r="1.7"/><circle cx="679.20" cy="342.23" r="1.7"/></g>
<polyline points="564.25,353.58 574.70,353.58 585.15,353.58 595.60,353.58 606.05,353.58 616.50,353.58 626.95,353.58 637.40,353.58 647.85,352.61 658.30,351.93 668.75,351.93 679.20,351.64" fill="none" stroke="#ff0000" stroke-width="0.9" stroke-linejoin="round" stroke-dasharray="2.2 1.1"/>
<g fill="#ff0000"><circle cx="564.25" cy="353.58" r="1.7"/><circle cx="574.70" cy="353.58" r="1.7"/><circle cx="585.15" cy="353.58" r="1.7"/><circle cx="595.60" cy="353.58" r="1.7"/><circle cx="606.05" cy="353.58" r="1.7"/><circle cx="616.50" cy="353.58" r="1.7"/><circle cx="626.95" cy="353.58" r="1.7"/><circle cx="637.40" cy="353.58" r="1.7"/><circle cx="647.85" cy="352.61" r="1.7"/><circle cx="658.30" cy="351.93" r="1.7"/><circle cx="668.75" cy="351.93" r="1.7"/><circle cx="679.20" cy="351.64" r="1.7"/></g>
<polyline points="564.25,353.58 574.70,353.58 585.15,353.58 595.60,353.58 606.05,353.58 616.50,353.58 626.95,352.90 637.40,344.17 647.85,341.07 658.30,340.39 668.75,340.39 679.20,340.39" fill="none" stroke="#a6a6a6" stroke-width="0.9" stroke-linejoin="round" stroke-dasharray="2.2 1.1"/>
<g fill="#a6a6a6"><circle cx="564.25" cy="353.58" r="1.7"/><circle cx="574.70" cy="353.58" r="1.7"/><circle cx="585.15" cy="353.58" r="1.7"/><circle cx="595.60" cy="353.58" r="1.7"/><circle cx="606.05" cy="353.58" r="1.7"/><circle cx="616.50" cy="353.58" r="1.7"/><circle cx="626.95" cy="352.90" r="1.7"/><circle cx="637.40" cy="344.17" r="1.7"/><circle cx="647.85" cy="341.07" r="1.7"/><circle cx="658.30" cy="340.39" r="1.7"/><circle cx="668.75" cy="340.39" r="1.7"/><circle cx="679.20" cy="340.39" r="1.7"/></g>
<polyline points="564.25,353.58 574.70,353.58 585.15,353.58 595.60,353.58 606.05,353.58 616.50,353.58 626.95,349.41 637.40,326.42 647.85,324.77 658.30,324.00 668.75,324.00 679.20,324.00" fill="none" stroke="#7030a0" stroke-width="0.9" stroke-linejoin="round"/>
<g fill="#7030a0"><circle cx="564.25" cy="353.58" r="1.7"/><circle cx="574.70" cy="353.58" r="1.7"/><circle cx="585.15" cy="353.58" r="1.7"/><circle cx="595.60" cy="353.58" r="1.7"/><circle cx="606.05" cy="353.58" r="1.7"/><circle cx="616.50" cy="353.58" r="1.7"/><circle cx="626.95" cy="349.41" r="1.7"/><circle cx="637.40" cy="326.42" r="1.7"/><circle cx="647.85" cy="324.77" r="1.7"/><circle cx="658.30" cy="324.00" r="1.7"/><circle cx="668.75" cy="324.00" r="1.7"/><circle cx="679.20" cy="324.00" r="1.7"/></g>
<polyline points="564.25,353.58 574.70,353.58 585.15,353.58 595.60,353.58 606.05,353.58 616.50,353.58 626.95,353.58 637.40,337.58 647.85,329.91 658.30,325.74 668.75,325.74 679.20,325.74" fill="none" stroke="#00b0f0" stroke-width="0.9" stroke-linejoin="round"/>
<g fill="#00b0f0"><circle cx="564.25" cy="353.58" r="1.7"/><circle cx="574.70" cy="353.58" r="1.7"/><circle cx="585.15" cy="353.58" r="1.7"/><circle cx="595.60" cy="353.58" r="1.7"/><circle cx="606.05" cy="353.58" r="1.7"/><circle cx="616.50" cy="353.58" r="1.7"/><circle cx="626.95" cy="353.58" r="1.7"/><circle cx="637.40" cy="337.58" r="1.7"/><circle cx="647.85" cy="329.91" r="1.7"/><circle cx="658.30" cy="325.74" r="1.7"/><circle cx="668.75" cy="325.74" r="1.7"/><circle cx="679.20" cy="325.74" r="1.7"/></g>
<polyline points="564.25,353.58 574.70,353.58 585.15,353.58 595.60,353.58 606.05,353.58 616.50,353.58 626.95,351.64 637.40,339.42 647.85,337.58 658.30,336.51 668.75,336.51 679.20,336.51" fill="none" stroke="#c55a11" stroke-width="0.9" stroke-linejoin="round"/>
<g fill="#c55a11"><circle cx="564.25" cy="353.58" r="1.7"/><circle cx="574.70" cy="353.58" r="1.7"/><circle cx="585.15" cy="353.58" r="1.7"/><circle cx="595.60" cy="353.58" r="1.7"/><circle cx="606.05" cy="353.58" r="1.7"/><circle cx="616.50" cy="353.58" r="1.7"/><circle cx="626.95" cy="351.64" r="1.7"/><circle cx="637.40" cy="339.42" r="1.7"/><circle cx="647.85" cy="337.58" r="1.7"/><circle cx="658.30" cy="336.51" r="1.7"/><circle cx="668.75" cy="336.51" r="1.7"/><circle cx="679.20" cy="336.51" r="1.7"/></g>
</g>
<g class="tk">
<text style="text-rendering:geometricPrecision" x="324.40" y="380.26" font-size="7.55" text-anchor="middle" fill="#000">DGRP_812 (7)</text>
<path d="M261.40 385.66V482.66H387.20" fill="none" stroke="#444" stroke-width="0.8"/>
<text x="258.40" y="484.96" font-size="6.5" text-anchor="end" fill="#333">0</text>
<text x="258.40" y="465.56" font-size="6.5" text-anchor="end" fill="#333">20</text>
<text x="258.40" y="446.16" font-size="6.5" text-anchor="end" fill="#333">40</text>
<text x="258.40" y="426.76" font-size="6.5" text-anchor="end" fill="#333">60</text>
<text x="258.40" y="407.36" font-size="6.5" text-anchor="end" fill="#333">80</text>
<text x="259.00" y="387.96" font-size="6.5" text-anchor="end" fill="#333">100</text>
<text x="266.25" y="491.26" font-size="6.5" text-anchor="middle" fill="#333">0</text>
<text x="287.15" y="491.26" font-size="6.5" text-anchor="middle" fill="#333">2</text>
<text x="308.05" y="491.26" font-size="6.5" text-anchor="middle" fill="#333">4</text>
<text x="328.95" y="491.26" font-size="6.5" text-anchor="middle" fill="#333">6</text>
<text x="349.85" y="491.26" font-size="6.5" text-anchor="middle" fill="#333">8</text>
<text x="370.75" y="491.26" font-size="6.5" text-anchor="middle" fill="#333">10</text>
<polyline points="266.25,482.66 276.70,482.66 287.15,482.66 297.60,482.66 308.05,482.66 318.50,482.66 328.95,445.12 339.40,420.39 349.85,412.24 360.30,409.72 370.75,409.72 381.20,409.72" fill="none" stroke="#000000" stroke-width="0.9" stroke-linejoin="round"/>
<g fill="#000000"><circle cx="266.25" cy="482.66" r="1.7"/><circle cx="276.70" cy="482.66" r="1.7"/><circle cx="287.15" cy="482.66" r="1.7"/><circle cx="297.60" cy="482.66" r="1.7"/><circle cx="308.05" cy="482.66" r="1.7"/><circle cx="318.50" cy="482.66" r="1.7"/><circle cx="328.95" cy="445.12" r="1.7"/><circle cx="339.40" cy="420.39" r="1.7"/><circle cx="349.85" cy="412.24" r="1.7"/><circle cx="360.30" cy="409.72" r="1.7"/><circle cx="370.75" cy="409.72" r="1.7"/><circle cx="381.20" cy="409.72" r="1.7"/></g>
<polyline points="266.25,482.66 276.70,482.66 287.15,482.66 297.60,482.66 308.05,482.66 318.50,482.66 328.95,482.66 339.40,481.98 349.85,470.44 360.30,462.48 370.75,450.94 381.20,450.94" fill="none" stroke="#ff0000" stroke-width="0.9" stroke-linejoin="round" stroke-dasharray="2.2 1.1"/>
<g fill="#ff0000"><circle cx="266.25" cy="482.66" r="1.7"/><circle cx="276.70" cy="482.66" r="1.7"/><circle cx="287.15" cy="482.66" r="1.7"/><circle cx="297.60" cy="482.66" r="1.7"/><circle cx="308.05" cy="482.66" r="1.7"/><circle cx="318.50" cy="482.66" r="1.7"/><circle cx="328.95" cy="482.66" r="1.7"/><circle cx="339.40" cy="481.98" r="1.7"/><circle cx="349.85" cy="470.44" r="1.7"/><circle cx="360.30" cy="462.48" r="1.7"/><circle cx="370.75" cy="450.94" r="1.7"/><circle cx="381.20" cy="450.94" r="1.7"/></g>
<polyline points="266.25,482.66 276.70,482.66 287.15,482.66 297.60,482.66 308.05,482.66 318.50,482.66 328.95,433.19 339.40,427.08 349.85,426.79 360.30,426.79 370.75,426.79 381.20,426.79" fill="none" stroke="#a6a6a6" stroke-width="0.9" stroke-linejoin="round" stroke-dasharray="2.2 1.1"/>
<g fill="#a6a6a6"><circle cx="266.25" cy="482.66" r="1.7"/><circle cx="276.70" cy="482.66" r="1.7"/><circle cx="287.15" cy="482.66" r="1.7"/><circle cx="297.60" cy="482.66" r="1.7"/><circle cx="308.05" cy="482.66" r="1.7"/><circle cx="318.50" cy="482.66" r="1.7"/><circle cx="328.95" cy="433.19" r="1.7"/><circle cx="339.40" cy="427.08" r="1.7"/><circle cx="349.85" cy="426.79" r="1.7"/><circle cx="360.30" cy="426.79" r="1.7"/><circle cx="370.75" cy="426.79" r="1.7"/><circle cx="381.20" cy="426.79" r="1.7"/></g>
<polyline points="266.25,482.66 276.70,482.66 287.15,482.66 297.60,482.66 308.05,482.66 318.50,477.52 328.95,394.68 339.40,392.74 349.85,392.74 360.30,392.74 370.75,392.74 381.20,392.74" fill="none" stroke="#7030a0" stroke-width="0.9" stroke-linejoin="round"/>
<g fill="#7030a0"><circle cx="266.25" cy="482.66" r="1.7"/><circle cx="276.70" cy="482.66" r="1.7"/><circle cx="287.15" cy="482.66" r="1.7"/><circle cx="297.60" cy="482.66" r="1.7"/><circle cx="308.05" cy="482.66" r="1.7"/><circle cx="318.50" cy="477.52" r="1.7"/><circle cx="328.95" cy="394.68" r="1.7"/><circle cx="339.40" cy="392.74" r="1.7"/><circle cx="349.85" cy="392.74" r="1.7"/><circle cx="360.30" cy="392.74" r="1.7"/><circle cx="370.75" cy="392.74" r="1.7"/><circle cx="381.20" cy="392.74" r="1.7"/></g>
<polyline points="266.25,482.66 276.70,482.66 287.15,482.66 297.60,482.66 308.05,482.66 318.50,482.66 328.95,423.49 339.40,392.64 349.85,391.19 360.30,390.22 370.75,390.22 381.20,390.22" fill="none" stroke="#00b0f0" stroke-width="0.9" stroke-linejoin="round"/>
<g fill="#00b0f0"><circle cx="266.25" cy="482.66" r="1.7"/><circle cx="276.70" cy="482.66" r="1.7"/><circle cx="287.15" cy="482.66" r="1.7"/><circle cx="297.60" cy="482.66" r="1.7"/><circle cx="308.05" cy="482.66" r="1.7"/><circle cx="318.50" cy="482.66" r="1.7"/><circle cx="328.95" cy="423.49" r="1.7"/><circle cx="339.40" cy="392.64" r="1.7"/><circle cx="349.85" cy="391.19" r="1.7"/><circle cx="360.30" cy="390.22" r="1.7"/><circle cx="370.75" cy="390.22" r="1.7"/><circle cx="381.20" cy="390.22" r="1.7"/></g>
<polyline points="266.25,482.66 276.70,482.66 287.15,482.66 297.60,482.66 308.05,482.66 318.50,482.37 328.95,431.54 339.40,409.43 349.85,406.22 360.30,406.22 370.75,406.22 381.20,406.22" fill="none" stroke="#c55a11" stroke-width="0.9" stroke-linejoin="round"/>
<g fill="#c55a11"><circle cx="266.25" cy="482.66" r="1.7"/><circle cx="276.70" cy="482.66" r="1.7"/><circle cx="287.15" cy="482.66" r="1.7"/><circle cx="297.60" cy="482.66" r="1.7"/><circle cx="308.05" cy="482.66" r="1.7"/><circle cx="318.50" cy="482.37" r="1.7"/><circle cx="328.95" cy="431.54" r="1.7"/><circle cx="339.40" cy="409.43" r="1.7"/><circle cx="349.85" cy="406.22" r="1.7"/><circle cx="360.30" cy="406.22" r="1.7"/><circle cx="370.75" cy="406.22" r="1.7"/><circle cx="381.20" cy="406.22" r="1.7"/></g>
</g>
<g class="tk">
<text style="text-rendering:geometricPrecision" x="473.40" y="380.26" font-size="7.55" text-anchor="middle" fill="#000">DGRP_354 (8)</text>
<path d="M410.40 385.66V482.66H536.20" fill="none" stroke="#444" stroke-width="0.8"/>
<text x="407.40" y="484.96" font-size="6.5" text-anchor="end" fill="#333">0</text>
<text x="407.40" y="465.56" font-size="6.5" text-anchor="end" fill="#333">20</text>
<text x="407.40" y="446.16" font-size="6.5" text-anchor="end" fill="#333">40</text>
<text x="407.40" y="426.76" font-size="6.5" text-anchor="end" fill="#333">60</text>
<text x="407.40" y="407.36" font-size="6.5" text-anchor="end" fill="#333">80</text>
<text x="408.00" y="387.96" font-size="6.5" text-anchor="end" fill="#333">100</text>
<text x="415.25" y="491.26" font-size="6.5" text-anchor="middle" fill="#333">0</text>
<text x="436.15" y="491.26" font-size="6.5" text-anchor="middle" fill="#333">2</text>
<text x="457.05" y="491.26" font-size="6.5" text-anchor="middle" fill="#333">4</text>
<text x="477.95" y="491.26" font-size="6.5" text-anchor="middle" fill="#333">6</text>
<text x="498.85" y="491.26" font-size="6.5" text-anchor="middle" fill="#333">8</text>
<text x="519.75" y="491.26" font-size="6.5" text-anchor="middle" fill="#333">10</text>
<polyline points="415.25,482.66 425.70,482.66 436.15,482.66 446.60,482.66 457.05,482.66 467.50,482.66 477.95,469.86 488.40,399.05 498.85,395.07 509.30,394.10 519.75,394.10 530.20,394.10" fill="none" stroke="#000000" stroke-width="0.9" stroke-linejoin="round"/>
<g fill="#000000"><circle cx="415.25" cy="482.66" r="1.7"/><circle cx="425.70" cy="482.66" r="1.7"/><circle cx="436.15" cy="482.66" r="1.7"/><circle cx="446.60" cy="482.66" r="1.7"/><circle cx="457.05" cy="482.66" r="1.7"/><circle cx="467.50" cy="482.66" r="1.7"/><circle cx="477.95" cy="469.86" r="1.7"/><circle cx="488.40" cy="399.05" r="1.7"/><circle cx="498.85" cy="395.07" r="1.7"/><circle cx="509.30" cy="394.10" r="1.7"/><circle cx="519.75" cy="394.10" r="1.7"/><circle cx="530.20" cy="394.10" r="1.7"/></g>
<polyline points="415.25,482.66 425.70,482.66 436.15,482.66 446.60,482.66 457.05,482.66 467.50,482.66 477.95,482.66 488.40,482.66 498.85,474.32 509.30,468.50 519.75,450.26 530.20,450.26" fill="none" stroke="#ff0000" stroke-width="0.9" stroke-linejoin="round" stroke-dasharray="2.2 1.1"/>
<g fill="#ff0000"><circle cx="415.25" cy="482.66" r="1.7"/><circle cx="425.70" cy="482.66" r="1.7"/><circle cx="436.15" cy="482.66" r="1.7"/><circle cx="446.60" cy="482.66" r="1.7"/><circle cx="457.05" cy="482.66" r="1.7"/><circle cx="467.50" cy="482.66" r="1.7"/><circle cx="477.95" cy="482.66" r="1.7"/><circle cx="488.40" cy="482.66" r="1.7"/><circle cx="498.85" cy="474.32" r="1.7"/><circle cx="509.30" cy="468.50" r="1.7"/><circle cx="519.75" cy="450.26" r="1.7"/><circle cx="530.20" cy="450.26" r="1.7"/></g>
<polyline points="415.25,482.66 425.70,482.66 436.15,482.66 446.60,482.66 457.05,482.66 467.50,482.66 477.95,466.66 488.40,413.79 498.85,413.60 509.30,412.82 519.75,412.82 530.20,412.82" fill="none" stroke="#a6a6a6" stroke-width="0.9" stroke-linejoin="round" stroke-dasharray="2.2 1.1"/>
<g fill="#a6a6a6"><circle cx="415.25" cy="482.66" r="1.7"/><circle cx="425.70" cy="482.66" r="1.7"/><circle cx="436.15" cy="482.66" r="1.7"/><circle cx="446.60" cy="482.66" r="1.7"/><circle cx="457.05" cy="482.66" r="1.7"/><circle cx="467.50" cy="482.66" r="1.7"/><circle cx="477.95" cy="466.66" r="1.7"/><circle cx="488.40" cy="413.79" r="1.7"/><circle cx="498.85" cy="413.60" r="1.7"/><circle cx="509.30" cy="412.82" r="1.7"/><circle cx="519.75" cy="412.82" r="1.7"/><circle cx="530.20" cy="412.82" r="1.7"/></g>
<polyline points="415.25,482.66 425.70,482.66 436.15,482.66 446.60,482.66 457.05,482.66 467.50,482.66 477.95,424.75 488.40,394.10 498.85,392.64 509.30,391.67 519.75,391.67 530.20,391.67" fill="none" stroke="#7030a0" stroke-width="0.9" stroke-linejoin="round"/>
<g fill="#7030a0"><circle cx="415.25" cy="482.66" r="1.7"/><circle cx="425.70" cy="482.66" r="1.7"/><circle cx="436.15" cy="482.66" r="1.7"/><circle cx="446.60" cy="482.66" r="1.7"/><circle cx="457.05" cy="482.66" r="1.7"/><circle cx="467.50" cy="482.66" r="1.7"/><circle cx="477.95" cy="424.75" r="1.7"/><circle cx="488.40" cy="394.10" r="1.7"/><circle cx="498.85" cy="392.64" r="1.7"/><circle cx="509.30" cy="391.67" r="1.7"/><circle cx="519.75" cy="391.67" r="1.7"/><circle cx="530.20" cy="391.67" r="1.7"/></g>
<polyline points="415.25,482.66 425.70,482.66 436.15,482.66 446.60,482.66 457.05,482.66 467.50,482.66 477.95,479.17 488.40,444.15 498.85,431.54 509.30,417.38 519.75,404.58 530.20,404.58" fill="none" stroke="#00b0f0" stroke-width="0.9" stroke-linejoin="round"/>
<g fill="#00b0f0"><circle cx="415.25" cy="482.66" r="1.7"/><circle cx="425.70" cy="482.66" r="1.7"/><circle cx="436.15" cy="482.66" r="1.7"/><circle cx="446.60" cy="482.66" r="1.7"/><circle cx="457.05" cy="482.66" r="1.7"/><circle cx="467.50" cy="482.66" r="1.7"/><circle cx="477.95" cy="479.17" r="1.7"/><circle cx="488.40" cy="444.15" r="1.7"/><circle cx="498.85" cy="431.54" r="1.7"/><circle cx="509.30" cy="417.38" r="1.7"/><circle cx="519.75" cy="404.58" r="1.7"/><circle cx="530.20" cy="404.58" r="1.7"/></g>
<polyline points="415.25,482.66 425.70,482.66 436.15,482.66 446.60,482.66 457.05,482.66 467.50,482.66 477.95,450.26 488.40,387.89 498.85,386.82 509.30,386.82 519.75,386.82 530.20,386.82" fill="none" stroke="#c55a11" stroke-width="0.9" stroke-linejoin="round"/>
<g fill="#c55a11"><circle cx="415.25" cy="482.66" r="1.7"/><circle cx="425.70" cy="482.66" r="1.7"/><circle cx="436.15" cy="482.66" r="1.7"/><circle cx="446.60" cy="482.66" r="1.7"/><circle cx="457.05" cy="482.66" r="1.7"/><circle cx="467.50" cy="482.66" r="1.7"/><circle cx="477.95" cy="450.26" r="1.7"/><circle cx="488.40" cy="387.89" r="1.7"/><circle cx="498.85" cy="386.82" r="1.7"/><circle cx="509.30" cy="386.82" r="1.7"/><circle cx="519.75" cy="386.82" r="1.7"/><circle cx="530.20" cy="386.82" r="1.7"/></g>
</g>
<g class="tk">
<text style="text-rendering:geometricPrecision" x="622.40" y="380.26" font-size="7.55" text-anchor="middle" fill="#000">DGRP_738 (9)</text>
<path d="M559.40 385.66V482.66H685.20" fill="none" stroke="#444" stroke-width="0.8"/>
<text x="556.40" y="484.96" font-size="6.5" text-anchor="end" fill="#333">0</text>
<text x="556.40" y="465.56" font-size="6.5" text-anchor="end" fill="#333">20</text>
<text x="556.40" y="446.16" font-size="6.5" text-anchor="end" fill="#333">40</text>
<text x="556.40" y="426.76" font-size="6.5" text-anchor="end" fill="#333">60</text>
<text x="556.40" y="407.36" font-size="6.5" text-anchor="end" fill="#333">80</text>
<text x="557.00" y="387.96" font-size="6.5" text-anchor="end" fill="#333">100</text>
<text x="564.25" y="491.26" font-size="6.5" text-anchor="middle" fill="#333">0</text>
<text x="585.15" y="491.26" font-size="6.5" text-anchor="middle" fill="#333">2</text>
<text x="606.05" y="491.26" font-size="6.5" text-anchor="middle" fill="#333">4</text>
<text x="626.95" y="491.26" font-size="6.5" text-anchor="middle" fill="#333">6</text>
<text x="647.85" y="491.26" font-size="6.5" text-anchor="middle" fill="#333">8</text>
<text x="668.75" y="491.26" font-size="6.5" text-anchor="middle" fill="#333">10</text>
<polyline points="564.25,482.66 574.70,482.66 585.15,482.66 595.60,482.66 606.05,482.66 616.50,482.66 626.95,466.66 637.40,427.76 647.85,427.76 658.30,427.76 668.75,427.76 679.20,427.76" fill="none" stroke="#000000" stroke-width="0.9" stroke-linejoin="round"/>
<g fill="#000000"><circle cx="564.25" cy="482.66" r="1.7"/><circle cx="574.70" cy="482.66" r="1.7"/><circle cx="585.15" cy="482.66" r="1.7"/><circle cx="595.60" cy="482.66" r="1.7"/><circle cx="606.05" cy="482.66" r="1.7"/><circle cx="616.50" cy="482.66" r="1.7"/><circle cx="626.95" cy="466.66" r="1.7"/><circle cx="637.40" cy="427.76" r="1.7"/><circle cx="647.85" cy="427.76" r="1.7"/><circle cx="658.30" cy="427.76" r="1.7"/><circle cx="668.75" cy="427.76" r="1.7"/><circle cx="679.20" cy="427.76" r="1.7"/></g>
<polyline points="564.25,482.66 574.70,482.66 585.15,482.66 595.60,482.66 606.05,482.66 616.50,482.66 626.95,482.66 637.40,482.37 647.85,446.77 658.30,425.72 668.75,421.07 679.20,419.03" fill="none" stroke="#ff0000" stroke-width="0.9" stroke-linejoin="round" stroke-dasharray="2.2 1.1"/>
<g fill="#ff0000"><circle cx="564.25" cy="482.66" r="1.7"/><circle cx="574.70" cy="482.66" r="1.7"/><circle cx="585.15" cy="482.66" r="1.7"/><circle cx="595.60" cy="482.66" r="1.7"/><circle cx="606.05" cy="482.66" r="1.7"/><circle cx="616.50" cy="482.66" r="1.7"/><circle cx="626.95" cy="482.66" r="1.7"/><circle cx="637.40" cy="482.37" r="1.7"/><circle cx="647.85" cy="446.77" r="1.7"/><circle cx="658.30" cy="425.72" r="1.7"/><circle cx="668.75" cy="421.07" r="1.7"/><circle cx="679.20" cy="419.03" r="1.7"/></g>
<polyline points="564.25,482.66 574.70,482.66 585.15,482.66 595.60,482.66 606.05,482.66 616.50,482.66 626.95,470.44 637.40,444.05 647.85,441.63 658.30,441.63 668.75,441.63 679.20,441.63" fill="none" stroke="#a6a6a6" stroke-width="0.9" stroke-linejoin="round" stroke-dasharray="2.2 1.1"/>
<g fill="#a6a6a6"><circle cx="564.25" cy="482.66" r="1.7"/><circle cx="574.70" cy="482.66" r="1.7"/><circle cx="585.15" cy="482.66" r="1.7"/><circle cx="595.60" cy="482.66" r="1.7"/><circle cx="606.05" cy="482.66" r="1.7"/><circle cx="616.50" cy="482.66" r="1.7"/><circle cx="626.95" cy="470.44" r="1.7"/><circle cx="637.40" cy="444.05" r="1.7"/><circle cx="647.85" cy="441.63" r="1.7"/><circle cx="658.30" cy="441.63" r="1.7"/><circle cx="668.75" cy="441.63" r="1.7"/><circle cx="679.20" cy="441.63" r="1.7"/></g>
<polyline points="564.25,482.66 574.70,482.66 585.15,482.66 595.60,482.66 606.05,482.66 616.50,482.66 626.95,439.01 637.40,430.86 647.85,430.86 658.30,430.86 668.75,430.86 679.20,430.86" fill="none" stroke="#7030a0" stroke-width="0.9" stroke-linejoin="round"/>
<g fill="#7030a0"><circle cx="564.25" cy="482.66" r="1.7"/><circle cx="574.70" cy="482.66" r="1.7"/><circle cx="585.15" cy="482.66" r="1.7"/><circle cx="595.60" cy="482.66" r="1.7"/><circle cx="606.05" cy="482.66" r="1.7"/><circle cx="616.50" cy="482.66" r="1.7"/><circle cx="626.95" cy="439.01" r="1.7"/><circle cx="637.40" cy="430.86" r="1.7"/><circle cx="647.85" cy="430.86" r="1.7"/><circle cx="658.30" cy="430.86" r="1.7"/><circle cx="668.75" cy="430.86" r="1.7"/><circle cx="679.20" cy="430.86" r="1.7"/></g>
<polyline points="564.25,482.66 574.70,482.66 585.15,482.66 595.60,482.66 606.05,482.66 616.50,482.66 626.95,481.01 637.40,443.47 647.85,434.16 658.30,434.16 668.75,434.16 679.20,434.16" fill="none" stroke="#00b0f0" stroke-width="0.9" stroke-linejoin="round"/>
<g fill="#00b0f0"><circle cx="564.25" cy="482.66" r="1.7"/><circle cx="574.70" cy="482.66" r="1.7"/><circle cx="585.15" cy="482.66" r="1.7"/><circle cx="595.60" cy="482.66" r="1.7"/><circle cx="606.05" cy="482.66" r="1.7"/><circle cx="616.50" cy="482.66" r="1.7"/><circle cx="626.95" cy="481.01" r="1.7"/><circle cx="637.40" cy="443.47" r="1.7"/><circle cx="647.85" cy="434.16" r="1.7"/><circle cx="658.30" cy="434.16" r="1.7"/><circle cx="668.75" cy="434.16" r="1.7"/><circle cx="679.20" cy="434.16" r="1.7"/></g>
<polyline points="564.25,482.66 574.70,482.66 585.15,482.66 595.60,482.66 606.05,482.66 616.50,482.66 626.95,466.66 637.40,434.16 647.85,433.38 658.30,433.19 668.75,433.19 679.20,433.19" fill="none" stroke="#c55a11" stroke-width="0.9" stroke-linejoin="round"/>
<g fill="#c55a11"><circle cx="564.25" cy="482.66" r="1.7"/><circle cx="574.70" cy="482.66" r="1.7"/><circle cx="585.15" cy="482.66" r="1.7"/><circle cx="595.60" cy="482.66" r="1.7"/><circle cx="606.05" cy="482.66" r="1.7"/><circle cx="616.50" cy="482.66" r="1.7"/><circle cx="626.95" cy="466.66" r="1.7"/><circle cx="637.40" cy="434.16" r="1.7"/><circle cx="647.85" cy="433.38" r="1.7"/><circle cx="658.30" cy="433.19" r="1.7"/><circle cx="668.75" cy="433.19" r="1.7"/><circle cx="679.20" cy="433.19" r="1.7"/></g>
</g>
<g class="tk">
<text style="text-rendering:geometricPrecision" x="324.40" y="509.34" font-size="7.55" text-anchor="middle" fill="#000">DGRP_161 (10)</text>
<path d="M261.40 514.74V611.74H387.20" fill="none" stroke="#444" stroke-width="0.8"/>
<text x="258.40" y="614.04" font-size="6.5" text-anchor="end" fill="#333">0</text>
<text x="258.40" y="594.64" font-size="6.5" text-anchor="end" fill="#333">20</text>
<text x="258.40" y="575.24" font-size="6.5" text-anchor="end" fill="#333">40</text>
<text x="258.40" y="555.84" font-size="6.5" text-anchor="end" fill="#333">60</text>
<text x="258.40" y="536.44" font-size="6.5" text-anchor="end" fill="#333">80</text>
<text x="259.00" y="517.04" font-size="6.5" text-anchor="end" fill="#333">100</text>
<text x="266.25" y="620.34" font-size="6.5" text-anchor="middle" fill="#333">0</text>
<text x="287.15" y="620.34" font-size="6.5" text-anchor="middle" fill="#333">2</text>
<text x="308.05" y="620.34" font-size="6.5" text-anchor="middle" fill="#333">4</text>
<text x="328.95" y="620.34" font-size="6.5" text-anchor="middle" fill="#333">6</text>
<text x="349.85" y="620.34" font-size="6.5" text-anchor="middle" fill="#333">8</text>
<text x="370.75" y="620.34" font-size="6.5" text-anchor="middle" fill="#333">10</text>
<polyline points="266.25,611.74 276.70,611.74 287.15,611.74 297.60,611.74 308.05,611.74 318.50,611.74 328.95,606.21 339.40,523.47 349.85,521.34 360.30,521.05 370.75,519.88 381.20,519.88" fill="none" stroke="#000000" stroke-width="0.9" stroke-linejoin="round"/>
<g fill="#000000"><circle cx="266.25" cy="611.74" r="1.7"/><circle cx="276.70" cy="611.74" r="1.7"/><circle cx="287.15" cy="611.74" r="1.7"/><circle cx="297.60" cy="611.74" r="1.7"/><circle cx="308.05" cy="611.74" r="1.7"/><circle cx="318.50" cy="611.74" r="1.7"/><circle cx="328.95" cy="606.21" r="1.7"/><circle cx="339.40" cy="523.47" r="1.7"/><circle cx="349.85" cy="521.34" r="1.7"/><circle cx="360.30" cy="521.05" r="1.7"/><circle cx="370.75" cy="519.88" r="1.7"/><circle cx="381.20" cy="519.88" r="1.7"/></g>
<polyline points="266.25,611.74 276.70,611.74 287.15,611.74 297.60,611.74 308.05,611.74 318.50,611.74 328.95,611.74 339.40,608.25 349.85,551.60 360.30,528.03 370.75,528.03 381.20,526.87" fill="none" stroke="#ff0000" stroke-width="0.9" stroke-linejoin="round" stroke-dasharray="2.2 1.1"/>
<g fill="#ff0000"><circle cx="266.25" cy="611.74" r="1.7"/><circle cx="276.70" cy="611.74" r="1.7"/><circle cx="287.15" cy="611.74" r="1.7"/><circle cx="297.60" cy="611.74" r="1.7"/><circle cx="308.05" cy="611.74" r="1.7"/><circle cx="318.50" cy="611.74" r="1.7"/><circle cx="328.95" cy="611.74" r="1.7"/><circle cx="339.40" cy="608.25" r="1.7"/><circle cx="349.85" cy="551.60" r="1.7"/><circle cx="360.30" cy="528.03" r="1.7"/><circle cx="370.75" cy="528.03" r="1.7"/><circle cx="381.20" cy="526.87" r="1.7"/></g>
<polyline points="266.25,611.74 276.70,611.74 287.15,611.74 297.60,611.74 308.05,611.74 318.50,611.74 328.95,606.89 339.40,590.40 349.85,590.40 360.30,590.40 370.75,590.40 381.20,590.40" fill="none" stroke="#a6a6a6" stroke-width="0.9" stroke-linejoin="round" stroke-dasharray="2.2 1.1"/>
<g fill="#a6a6a6"><circle cx="266.25" cy="611.74" r="1.7"/><circle cx="276.70" cy="611.74" r="1.7"/><circle cx="287.15" cy="611.74" r="1.7"/><circle cx="297.60" cy="611.74" r="1.7"/><circle cx="308.05" cy="611.74" r="1.7"/><circle cx="318.50" cy="611.74" r="1.7"/><circle cx="328.95" cy="606.89" r="1.7"/><circle cx="339.40" cy="590.40" r="1.7"/><circle cx="349.85" cy="590.40" r="1.7"/><circle cx="360.30" cy="590.40" r="1.7"/><circle cx="370.75" cy="590.40" r="1.7"/><circle cx="381.20" cy="590.40" r="1.7"/></g>
<polyline points="266.25,611.74 276.70,611.74 287.15,611.74 297.60,611.74 308.05,611.74 318.50,611.74 328.95,580.70 339.40,523.86 349.85,522.01 360.30,522.01 370.75,522.01 381.20,522.01" fill="none" stroke="#7030a0" stroke-width="0.9" stroke-linejoin="round"/>
<g fill="#7030a0"><circle cx="266.25" cy="611.74" r="1.7"/><circle cx="276.70" cy="611.74" r="1.7"/><circle cx="287.15" cy="611.74" r="1.7"/><circle cx="297.60" cy="611.74" r="1.7"/><circle cx="308.05" cy="611.74" r="1.7"/><circle cx="318.50" cy="611.74" r="1.7"/><circle cx="328.95" cy="580.70" r="1.7"/><circle cx="339.40" cy="523.86" r="1.7"/><circle cx="349.85" cy="522.01" r="1.7"/><circle cx="360.30" cy="522.01" r="1.7"/><circle cx="370.75" cy="522.01" r="1.7"/><circle cx="381.20" cy="522.01" r="1.7"/></g>
<polyline points="266.25,611.74 276.70,611.74 287.15,611.74 297.60,611.74 308.05,611.74 318.50,611.74 328.95,611.45 339.40,538.41 349.85,520.56 360.30,521.05 370.75,520.56 381.20,520.56" fill="none" stroke="#00b0f0" stroke-width="0.9" stroke-linejoin="round"/>
<g fill="#00b0f0"><circle cx="266.25" cy="611.74" r="1.7"/><circle cx="276.70" cy="611.74" r="1.7"/><circle cx="287.15" cy="611.74" r="1.7"/><circle cx="297.60" cy="611.74" r="1.7"/><circle cx="308.05" cy="611.74" r="1.7"/><circle cx="318.50" cy="611.74" r="1.7"/><circle cx="328.95" cy="611.45" r="1.7"/><circle cx="339.40" cy="538.41" r="1.7"/><circle cx="349.85" cy="520.56" r="1.7"/><circle cx="360.30" cy="521.05" r="1.7"/><circle cx="370.75" cy="520.56" r="1.7"/><circle cx="381.20" cy="520.56" r="1.7"/></g>
<polyline points="266.25,611.74 276.70,611.74 287.15,611.74 297.60,611.74 308.05,611.74 318.50,611.74 328.95,571.00 339.40,523.18 349.85,521.53 360.30,521.53 370.75,521.53 381.20,521.53" fill="none" stroke="#c55a11" stroke-width="0.9" stroke-linejoin="round"/>
<g fill="#c55a11"><circle cx="266.25" cy="611.74" r="1.7"/><circle cx="276.70" cy="611.74" r="1.7"/><circle cx="287.15" cy="611.74" r="1.7"/><circle cx="297.60" cy="611.74" r="1.7"/><circle cx="308.05" cy="611.74" r="1.7"/><circle cx="318.50" cy="611.74" r="1.7"/><circle cx="328.95" cy="571.00" r="1.7"/><circle cx="339.40" cy="523.18" r="1.7"/><circle cx="349.85" cy="521.53" r="1.7"/><circle cx="360.30" cy="521.53" r="1.7"/><circle cx="370.75" cy="521.53" r="1.7"/><circle cx="381.20" cy="521.53" r="1.7"/></g>
</g>
<g class="tk">
<text style="text-rendering:geometricPrecision" x="473.40" y="509.34" font-size="7.55" text-anchor="middle" fill="#000">DGRP_441 (11)</text>
<path d="M410.40 514.74V611.74H536.20" fill="none" stroke="#444" stroke-width="0.8"/>
<text x="407.40" y="614.04" font-size="6.5" text-anchor="end" fill="#333">0</text>
<text x="407.40" y="594.64" font-size="6.5" text-anchor="end" fill="#333">20</text>
<text x="407.40" y="575.24" font-size="6.5" text-anchor="end" fill="#333">40</text>
<text x="407.40" y="555.84" font-size="6.5" text-anchor="end" fill="#333">60</text>
<text x="407.40" y="536.44" font-size="6.5" text-anchor="end" fill="#333">80</text>
<text x="408.00" y="517.04" font-size="6.5" text-anchor="end" fill="#333">100</text>
<text x="415.25" y="620.34" font-size="6.5" text-anchor="middle" fill="#333">0</text>
<text x="436.15" y="620.34" font-size="6.5" text-anchor="middle" fill="#333">2</text>
<text x="457.05" y="620.34" font-size="6.5" text-anchor="middle" fill="#333">4</text>
<text x="477.95" y="620.34" font-size="6.5" text-anchor="middle" fill="#333">6</text>
<text x="498.85" y="620.34" font-size="6.5" text-anchor="middle" fill="#333">8</text>
<text x="519.75" y="620.34" font-size="6.5" text-anchor="middle" fill="#333">10</text>
<polyline points="415.25,611.74 425.70,611.74 436.15,611.74 446.60,611.74 457.05,611.74 467.50,611.74 477.95,604.27 488.40,554.51 498.85,537.05 509.30,535.11 519.75,534.14 530.20,534.14" fill="none" stroke="#000000" stroke-width="0.9" stroke-linejoin="round"/>
<g fill="#000000"><circle cx="415.25" cy="611.74" r="1.7"/><circle cx="425.70" cy="611.74" r="1.7"/><circle cx="436.15" cy="611.74" r="1.7"/><circle cx="446.60" cy="611.74" r="1.7"/><circle cx="457.05" cy="611.74" r="1.7"/><circle cx="467.50" cy="611.74" r="1.7"/><circle cx="477.95" cy="604.27" r="1.7"/><circle cx="488.40" cy="554.51" r="1.7"/><circle cx="498.85" cy="537.05" r="1.7"/><circle cx="509.30" cy="535.11" r="1.7"/><circle cx="519.75" cy="534.14" r="1.7"/><circle cx="530.20" cy="534.14" r="1.7"/></g>
<polyline points="415.25,611.74 425.70,611.74 436.15,611.74 446.60,611.74 457.05,611.74 467.50,611.74 477.95,611.74 488.40,610.77 498.85,601.85 509.30,588.27 519.75,582.45 530.20,577.60" fill="none" stroke="#ff0000" stroke-width="0.9" stroke-linejoin="round" stroke-dasharray="2.2 1.1"/>
<g fill="#ff0000"><circle cx="415.25" cy="611.74" r="1.7"/><circle cx="425.70" cy="611.74" r="1.7"/><circle cx="436.15" cy="611.74" r="1.7"/><circle cx="446.60" cy="611.74" r="1.7"/><circle cx="457.05" cy="611.74" r="1.7"/><circle cx="467.50" cy="611.74" r="1.7"/><circle cx="477.95" cy="611.74" r="1.7"/><circle cx="488.40" cy="610.77" r="1.7"/><circle cx="498.85" cy="601.85" r="1.7"/><circle cx="509.30" cy="588.27" r="1.7"/><circle cx="519.75" cy="582.45" r="1.7"/><circle cx="530.20" cy="577.60" r="1.7"/></g>
<polyline points="415.25,611.74 425.70,611.74 436.15,611.74 446.60,611.74 457.05,611.74 467.50,611.74 477.95,610.77 488.40,596.03 498.85,593.31 509.30,592.15 519.75,591.37 530.20,591.37" fill="none" stroke="#a6a6a6" stroke-width="0.9" stroke-linejoin="round" stroke-dasharray="2.2 1.1"/>
<g fill="#a6a6a6"><circle cx="415.25" cy="611.74" r="1.7"/><circle cx="425.70" cy="611.74" r="1.7"/><circle cx="436.15" cy="611.74" r="1.7"/><circle cx="446.60" cy="611.74" r="1.7"/><circle cx="457.05" cy="611.74" r="1.7"/><circle cx="467.50" cy="611.74" r="1.7"/><circle cx="477.95" cy="610.77" r="1.7"/><circle cx="488.40" cy="596.03" r="1.7"/><circle cx="498.85" cy="593.31" r="1.7"/><circle cx="509.30" cy="592.15" r="1.7"/><circle cx="519.75" cy="591.37" r="1.7"/><circle cx="530.20" cy="591.37" r="1.7"/></g>
<polyline points="415.25,611.74 425.70,611.74 436.15,611.74 446.60,611.74 457.05,611.74 467.50,611.74 477.95,586.91 488.40,554.32 498.85,544.23 509.30,540.35 519.75,537.05 530.20,536.57" fill="none" stroke="#7030a0" stroke-width="0.9" stroke-linejoin="round"/>
<g fill="#7030a0"><circle cx="415.25" cy="611.74" r="1.7"/><circle cx="425.70" cy="611.74" r="1.7"/><circle cx="436.15" cy="611.74" r="1.7"/><circle cx="446.60" cy="611.74" r="1.7"/><circle cx="457.05" cy="611.74" r="1.7"/><circle cx="467.50" cy="611.74" r="1.7"/><circle cx="477.95" cy="586.91" r="1.7"/><circle cx="488.40" cy="554.32" r="1.7"/><circle cx="498.85" cy="544.23" r="1.7"/><circle cx="509.30" cy="540.35" r="1.7"/><circle cx="519.75" cy="537.05" r="1.7"/><circle cx="530.20" cy="536.57" r="1.7"/></g>
<polyline points="415.25,611.74 425.70,611.74 436.15,611.74 446.60,611.74 457.05,611.74 467.50,611.74 477.95,611.74 488.40,588.95 498.85,580.70 509.30,576.63 519.75,572.46 530.20,570.03" fill="none" stroke="#00b0f0" stroke-width="0.9" stroke-linejoin="round"/>
<g fill="#00b0f0"><circle cx="415.25" cy="611.74" r="1.7"/><circle cx="425.70" cy="611.74" r="1.7"/><circle cx="436.15" cy="611.74" r="1.7"/><circle cx="446.60" cy="611.74" r="1.7"/><circle cx="457.05" cy="611.74" r="1.7"/><circle cx="467.50" cy="611.74" r="1.7"/><circle cx="477.95" cy="611.74" r="1.7"/><circle cx="488.40" cy="588.95" r="1.7"/><circle cx="498.85" cy="580.70" r="1.7"/><circle cx="509.30" cy="576.63" r="1.7"/><circle cx="519.75" cy="572.46" r="1.7"/><circle cx="530.20" cy="570.03" r="1.7"/></g>
<polyline points="415.25,611.74 425.70,611.74 436.15,611.74 446.60,611.74 457.05,611.74 467.50,611.74 477.95,589.43 488.40,544.23 498.85,533.17 509.30,531.04 519.75,531.04 530.20,531.04" fill="none" stroke="#c55a11" stroke-width="0.9" stroke-linejoin="round"/>
<g fill="#c55a11"><circle cx="415.25" cy="611.74" r="1.7"/><circle cx="425.70" cy="611.74" r="1.7"/><circle cx="436.15" cy="611.74" r="1.7"/><circle cx="446.60" cy="611.74" r="1.7"/><circle cx="457.05" cy="611.74" r="1.7"/><circle cx="467.50" cy="611.74" r="1.7"/><circle cx="477.95" cy="589.43" r="1.7"/><circle cx="488.40" cy="544.23" r="1.7"/><circle cx="498.85" cy="533.17" r="1.7"/><circle cx="509.30" cy="531.04" r="1.7"/><circle cx="519.75" cy="531.04" r="1.7"/><circle cx="530.20" cy="531.04" r="1.7"/></g>
</g>
<g class="tk">
<text style="text-rendering:geometricPrecision" x="622.40" y="509.34" font-size="7.55" text-anchor="middle" fill="#000">DGRP_313 (12)</text>
<path d="M559.40 514.74V611.74H685.20" fill="none" stroke="#444" stroke-width="0.8"/>
<text x="556.40" y="614.04" font-size="6.5" text-anchor="end" fill="#333">0</text>
<text x="556.40" y="594.64" font-size="6.5" text-anchor="end" fill="#333">20</text>
<text x="556.40" y="575.24" font-size="6.5" text-anchor="end" fill="#333">40</text>
<text x="556.40" y="555.84" font-size="6.5" text-anchor="end" fill="#333">60</text>
<text x="556.40" y="536.44" font-size="6.5" text-anchor="end" fill="#333">80</text>
<text x="557.00" y="517.04" font-size="6.5" text-anchor="end" fill="#333">100</text>
<text x="564.25" y="620.34" font-size="6.5" text-anchor="middle" fill="#333">0</text>
<text x="585.15" y="620.34" font-size="6.5" text-anchor="middle" fill="#333">2</text>
<text x="606.05" y="620.34" font-size="6.5" text-anchor="middle" fill="#333">4</text>
<text x="626.95" y="620.34" font-size="6.5" text-anchor="middle" fill="#333">6</text>
<text x="647.85" y="620.34" font-size="6.5" text-anchor="middle" fill="#333">8</text>
<text x="668.75" y="620.34" font-size="6.5" text-anchor="middle" fill="#333">10</text>
<polyline points="564.25,611.74 574.70,611.74 585.15,611.74 595.60,611.74 606.05,611.74 616.50,611.74 626.95,601.85 637.40,538.02 647.85,533.75 658.30,533.75 668.75,533.75 679.20,533.75" fill="none" stroke="#000000" stroke-width="0.9" stroke-linejoin="round"/>
<g fill="#000000"><circle cx="564.25" cy="611.74" r="1.7"/><circle cx="574.70" cy="611.74" r="1.7"/><circle cx="585.15" cy="611.74" r="1.7"/><circle cx="595.60" cy="611.74" r="1.7"/><circle cx="606.05" cy="611.74" r="1.7"/><circle cx="616.50" cy="611.74" r="1.7"/><circle cx="626.95" cy="601.85" r="1.7"/><circle cx="637.40" cy="538.02" r="1.7"/><circle cx="647.85" cy="533.75" r="1.7"/><circle cx="658.30" cy="533.75" r="1.7"/><circle cx="668.75" cy="533.75" r="1.7"/><circle cx="679.20" cy="533.75" r="1.7"/></g>
<polyline points="564.25,611.74 574.70,611.74 585.15,611.74 595.60,611.74 606.05,611.74 616.50,611.74 626.95,611.74 637.40,602.04 647.85,563.63 658.30,542.87 668.75,536.57 679.20,536.57" fill="none" stroke="#ff0000" stroke-width="0.9" stroke-linejoin="round" stroke-dasharray="2.2 1.1"/>
<g fill="#ff0000"><circle cx="564.25" cy="611.74" r="1.7"/><circle cx="574.70" cy="611.74" r="1.7"/><circle cx="585.15" cy="611.74" r="1.7"/><circle cx="595.60" cy="611.74" r="1.7"/><circle cx="606.05" cy="611.74" r="1.7"/><circle cx="616.50" cy="611.74" r="1.7"/><circle cx="626.95" cy="611.74" r="1.7"/><circle cx="637.40" cy="602.04" r="1.7"/><circle cx="647.85" cy="563.63" r="1.7"/><circle cx="658.30" cy="542.87" r="1.7"/><circle cx="668.75" cy="536.57" r="1.7"/><circle cx="679.20" cy="536.57" r="1.7"/></g>
<polyline points="564.25,611.74 574.70,611.74 585.15,611.74 595.60,611.74 606.05,611.74 616.50,611.74 626.95,611.74 637.40,609.51 647.85,609.51 658.30,609.51 668.75,609.51 679.20,609.51" fill="none" stroke="#a6a6a6" stroke-width="0.9" stroke-linejoin="round" stroke-dasharray="2.2 1.1"/>
<g fill="#a6a6a6"><circle cx="564.25" cy="611.74" r="1.7"/><circle cx="574.70" cy="611.74" r="1.7"/><circle cx="585.15" cy="611.74" r="1.7"/><circle cx="595.60" cy="611.74" r="1.7"/><circle cx="606.05" cy="611.74" r="1.7"/><circle cx="616.50" cy="611.74" r="1.7"/><circle cx="626.95" cy="611.74" r="1.7"/><circle cx="637.40" cy="609.51" r="1.7"/><circle cx="647.85" cy="609.51" r="1.7"/><circle cx="658.30" cy="609.51" r="1.7"/><circle cx="668.75" cy="609.51" r="1.7"/><circle cx="679.20" cy="609.51" r="1.7"/></g>
<polyline points="564.25,611.74 574.70,611.74 585.15,611.74 595.60,611.74 606.05,611.74 616.50,611.74 626.95,596.61 637.40,580.70 647.85,580.02 658.30,579.34 668.75,577.31 679.20,577.31" fill="none" stroke="#7030a0" stroke-width="0.9" stroke-linejoin="round"/>
<g fill="#7030a0"><circle cx="564.25" cy="611.74" r="1.7"/><circle cx="574.70" cy="611.74" r="1.7"/><circle cx="585.15" cy="611.74" r="1.7"/><circle cx="595.60" cy="611.74" r="1.7"/><circle cx="606.05" cy="611.74" r="1.7"/><circle cx="616.50" cy="611.74" r="1.7"/><circle cx="626.95" cy="596.61" r="1.7"/><circle cx="637.40" cy="580.70" r="1.7"/><circle cx="647.85" cy="580.02" r="1.7"/><circle cx="658.30" cy="579.34" r="1.7"/><circle cx="668.75" cy="577.31" r="1.7"/><circle cx="679.20" cy="577.31" r="1.7"/></g>
<polyline points="564.25,611.74 574.70,611.74 585.15,611.74 595.60,611.74 606.05,611.74 616.50,611.74 626.95,611.74 637.40,562.27 647.85,553.93 658.30,553.93 668.75,553.93 679.20,553.93" fill="none" stroke="#00b0f0" stroke-width="0.9" stroke-linejoin="round"/>
<g fill="#00b0f0"><circle cx="564.25" cy="611.74" r="1.7"/><circle cx="574.70" cy="611.74" r="1.7"/><circle cx="585.15" cy="611.74" r="1.7"/><circle cx="595.60" cy="611.74" r="1.7"/><circle cx="606.05" cy="611.74" r="1.7"/><circle cx="616.50" cy="611.74" r="1.7"/><circle cx="626.95" cy="611.74" r="1.7"/><circle cx="637.40" cy="562.27" r="1.7"/><circle cx="647.85" cy="553.93" r="1.7"/><circle cx="658.30" cy="553.93" r="1.7"/><circle cx="668.75" cy="553.93" r="1.7"/><circle cx="679.20" cy="553.93" r="1.7"/></g>
<polyline points="564.25,611.74 574.70,611.74 585.15,611.74 595.60,611.74 606.05,611.74 616.50,611.74 626.95,568.58 637.40,531.04 647.85,529.29 658.30,529.29 668.75,529.29 679.20,529.29" fill="none" stroke="#c55a11" stroke-width="0.9" stroke-linejoin="round"/>
<g fill="#c55a11"><circle cx="564.25" cy="611.74" r="1.7"/><circle cx="574.70" cy="611.74" r="1.7"/><circle cx="585.15" cy="611.74" r="1.7"/><circle cx="595.60" cy="611.74" r="1.7"/><circle cx="606.05" cy="611.74" r="1.7"/><circle cx="616.50" cy="611.74" r="1.7"/><circle cx="626.95" cy="568.58" r="1.7"/><circle cx="637.40" cy="531.04" r="1.7"/><circle cx="647.85" cy="529.29" r="1.7"/><circle cx="658.30" cy="529.29" r="1.7"/><circle cx="668.75" cy="529.29" r="1.7"/><circle cx="679.20" cy="529.29" r="1.7"/></g>
</g>
<g class="tk">
<text style="text-rendering:geometricPrecision" x="324.40" y="638.42" font-size="7.55" text-anchor="middle" fill="#000">DGRP_362 (13)</text>
<path d="M261.40 643.82V740.82H387.20" fill="none" stroke="#444" stroke-width="0.8"/>
<text x="258.40" y="743.12" font-size="6.5" text-anchor="end" fill="#333">0</text>
<text x="258.40" y="723.72" font-size="6.5" text-anchor="end" fill="#333">20</text>
<text x="258.40" y="704.32" font-size="6.5" text-anchor="end" fill="#333">40</text>
<text x="258.40" y="684.92" font-size="6.5" text-anchor="end" fill="#333">60</text>
<text x="258.40" y="665.52" font-size="6.5" text-anchor="end" fill="#333">80</text>
<text x="259.00" y="646.12" font-size="6.5" text-anchor="end" fill="#333">100</text>
<text x="266.25" y="749.42" font-size="6.5" text-anchor="middle" fill="#333">0</text>
<text x="287.15" y="749.42" font-size="6.5" text-anchor="middle" fill="#333">2</text>
<text x="308.05" y="749.42" font-size="6.5" text-anchor="middle" fill="#333">4</text>
<text x="328.95" y="749.42" font-size="6.5" text-anchor="middle" fill="#333">6</text>
<text x="349.85" y="749.42" font-size="6.5" text-anchor="middle" fill="#333">8</text>
<text x="370.75" y="749.42" font-size="6.5" text-anchor="middle" fill="#333">10</text>
<polyline points="266.25,740.82 276.70,740.82 287.15,740.82 297.60,740.82 308.05,740.82 318.50,740.82 328.95,734.32 339.40,698.43 349.85,693.58 360.30,693.58 370.75,692.61 381.20,692.61" fill="none" stroke="#000000" stroke-width="0.9" stroke-linejoin="round"/>
<g fill="#000000"><circle cx="266.25" cy="740.82" r="1.7"/><circle cx="276.70" cy="740.82" r="1.7"/><circle cx="287.15" cy="740.82" r="1.7"/><circle cx="297.60" cy="740.82" r="1.7"/><circle cx="308.05" cy="740.82" r="1.7"/><circle cx="318.50" cy="740.82" r="1.7"/><circle cx="328.95" cy="734.32" r="1.7"/><circle cx="339.40" cy="698.43" r="1.7"/><circle cx="349.85" cy="693.58" r="1.7"/><circle cx="360.30" cy="693.58" r="1.7"/><circle cx="370.75" cy="692.61" r="1.7"/><circle cx="381.20" cy="692.61" r="1.7"/></g>
<polyline points="266.25,740.82 276.70,740.82 287.15,740.82 297.60,740.82 308.05,740.82 318.50,740.82 328.95,740.82 339.40,740.53 349.85,702.99 360.30,674.08 370.75,673.70 381.20,673.70" fill="none" stroke="#ff0000" stroke-width="0.9" stroke-linejoin="round" stroke-dasharray="2.2 1.1"/>
<g fill="#ff0000"><circle cx="266.25" cy="740.82" r="1.7"/><circle cx="276.70" cy="740.82" r="1.7"/><circle cx="287.15" cy="740.82" r="1.7"/><circle cx="297.60" cy="740.82" r="1.7"/><circle cx="308.05" cy="740.82" r="1.7"/><circle cx="318.50" cy="740.82" r="1.7"/><circle cx="328.95" cy="740.82" r="1.7"/><circle cx="339.40" cy="740.53" r="1.7"/><circle cx="349.85" cy="702.99" r="1.7"/><circle cx="360.30" cy="674.08" r="1.7"/><circle cx="370.75" cy="673.70" r="1.7"/><circle cx="381.20" cy="673.70" r="1.7"/></g>
<polyline points="266.25,740.82 276.70,740.82 287.15,740.82 297.60,740.82 308.05,740.82 318.50,740.82 328.95,722.39 339.40,689.70 349.85,687.28 360.30,686.89 370.75,686.31 381.20,686.31" fill="none" stroke="#a6a6a6" stroke-width="0.9" stroke-linejoin="round" stroke-dasharray="2.2 1.1"/>
<g fill="#a6a6a6"><circle cx="266.25" cy="740.82" r="1.7"/><circle cx="276.70" cy="740.82" r="1.7"/><circle cx="287.15" cy="740.82" r="1.7"/><circle cx="297.60" cy="740.82" r="1.7"/><circle cx="308.05" cy="740.82" r="1.7"/><circle cx="318.50" cy="740.82" r="1.7"/><circle cx="328.95" cy="722.39" r="1.7"/><circle cx="339.40" cy="689.70" r="1.7"/><circle cx="349.85" cy="687.28" r="1.7"/><circle cx="360.30" cy="686.89" r="1.7"/><circle cx="370.75" cy="686.31" r="1.7"/><circle cx="381.20" cy="686.31" r="1.7"/></g>
<polyline points="266.25,740.82 276.70,740.82 287.15,740.82 297.60,740.82 308.05,740.82 318.50,740.82 328.95,671.37 339.40,663.41 349.85,660.89 360.30,660.60 370.75,660.60 381.20,660.60" fill="none" stroke="#7030a0" stroke-width="0.9" stroke-linejoin="round"/>
<g fill="#7030a0"><circle cx="266.25" cy="740.82" r="1.7"/><circle cx="276.70" cy="740.82" r="1.7"/><circle cx="287.15" cy="740.82" r="1.7"/><circle cx="297.60" cy="740.82" r="1.7"/><circle cx="308.05" cy="740.82" r="1.7"/><circle cx="318.50" cy="740.82" r="1.7"/><circle cx="328.95" cy="671.37" r="1.7"/><circle cx="339.40" cy="663.41" r="1.7"/><circle cx="349.85" cy="660.89" r="1.7"/><circle cx="360.30" cy="660.60" r="1.7"/><circle cx="370.75" cy="660.60" r="1.7"/><circle cx="381.20" cy="660.60" r="1.7"/></g>
<polyline points="266.25,740.82 276.70,740.82 287.15,740.82 297.60,740.82 308.05,740.82 318.50,740.82 328.95,740.53 339.40,671.37 349.85,667.49 360.30,666.13 370.75,666.13 381.20,666.13" fill="none" stroke="#00b0f0" stroke-width="0.9" stroke-linejoin="round"/>
<g fill="#00b0f0"><circle cx="266.25" cy="740.82" r="1.7"/><circle cx="276.70" cy="740.82" r="1.7"/><circle cx="287.15" cy="740.82" r="1.7"/><circle cx="297.60" cy="740.82" r="1.7"/><circle cx="308.05" cy="740.82" r="1.7"/><circle cx="318.50" cy="740.82" r="1.7"/><circle cx="328.95" cy="740.53" r="1.7"/><circle cx="339.40" cy="671.37" r="1.7"/><circle cx="349.85" cy="667.49" r="1.7"/><circle cx="360.30" cy="666.13" r="1.7"/><circle cx="370.75" cy="666.13" r="1.7"/><circle cx="381.20" cy="666.13" r="1.7"/></g>
<polyline points="266.25,740.82 276.70,740.82 287.15,740.82 297.60,740.82 308.05,740.82 318.50,740.82 328.95,728.02 339.40,692.61 349.85,684.56 360.30,682.91 370.75,682.04 381.20,682.04" fill="none" stroke="#c55a11" stroke-width="0.9" stroke-linejoin="round"/>
<g fill="#c55a11"><circle cx="266.25" cy="740.82" r="1.7"/><circle cx="276.70" cy="740.82" r="1.7"/><circle cx="287.15" cy="740.82" r="1.7"/><circle cx="297.60" cy="740.82" r="1.7"/><circle cx="308.05" cy="740.82" r="1.7"/><circle cx="318.50" cy="740.82" r="1.7"/><circle cx="328.95" cy="728.02" r="1.7"/><circle cx="339.40" cy="692.61" r="1.7"/><circle cx="349.85" cy="684.56" r="1.7"/><circle cx="360.30" cy="682.91" r="1.7"/><circle cx="370.75" cy="682.04" r="1.7"/><circle cx="381.20" cy="682.04" r="1.7"/></g>
</g>
<g class="tk">
<text style="text-rendering:geometricPrecision" x="473.40" y="638.42" font-size="7.55" text-anchor="middle" fill="#000">DGRP_721 (14)</text>
<path d="M410.40 643.82V740.82H536.20" fill="none" stroke="#444" stroke-width="0.8"/>
<text x="407.40" y="743.12" font-size="6.5" text-anchor="end" fill="#333">0</text>
<text x="407.40" y="723.72" font-size="6.5" text-anchor="end" fill="#333">20</text>
<text x="407.40" y="704.32" font-size="6.5" text-anchor="end" fill="#333">40</text>
<text x="407.40" y="684.92" font-size="6.5" text-anchor="end" fill="#333">60</text>
<text x="407.40" y="665.52" font-size="6.5" text-anchor="end" fill="#333">80</text>
<text x="408.00" y="646.12" font-size="6.5" text-anchor="end" fill="#333">100</text>
<text x="415.25" y="749.42" font-size="6.5" text-anchor="middle" fill="#333">0</text>
<text x="436.15" y="749.42" font-size="6.5" text-anchor="middle" fill="#333">2</text>
<text x="457.05" y="749.42" font-size="6.5" text-anchor="middle" fill="#333">4</text>
<text x="477.95" y="749.42" font-size="6.5" text-anchor="middle" fill="#333">6</text>
<text x="498.85" y="749.42" font-size="6.5" text-anchor="middle" fill="#333">8</text>
<text x="519.75" y="749.42" font-size="6.5" text-anchor="middle" fill="#333">10</text>
<polyline points="415.25,740.82 425.70,740.82 436.15,740.82 446.60,740.82 457.05,740.82 467.50,740.82 477.95,728.21 488.40,663.03 498.85,657.40 509.30,656.72 519.75,656.04 530.20,656.04" fill="none" stroke="#000000" stroke-width="0.9" stroke-linejoin="round"/>
<g fill="#000000"><circle cx="415.25" cy="740.82" r="1.7"/><circle cx="425.70" cy="740.82" r="1.7"/><circle cx="436.15" cy="740.82" r="1.7"/><circle cx="446.60" cy="740.82" r="1.7"/><circle cx="457.05" cy="740.82" r="1.7"/><circle cx="467.50" cy="740.82" r="1.7"/><circle cx="477.95" cy="728.21" r="1.7"/><circle cx="488.40" cy="663.03" r="1.7"/><circle cx="498.85" cy="657.40" r="1.7"/><circle cx="509.30" cy="656.72" r="1.7"/><circle cx="519.75" cy="656.04" r="1.7"/><circle cx="530.20" cy="656.04" r="1.7"/></g>
<polyline points="415.25,740.82 425.70,740.82 436.15,740.82 446.60,740.82 457.05,740.82 467.50,740.82 477.95,740.82 488.40,740.82 498.85,704.93 509.30,655.46 519.75,653.04 530.20,653.04" fill="none" stroke="#ff0000" stroke-width="0.9" stroke-linejoin="round" stroke-dasharray="2.2 1.1"/>
<g fill="#ff0000"><circle cx="415.25" cy="740.82" r="1.7"/><circle cx="425.70" cy="740.82" r="1.7"/><circle cx="436.15" cy="740.82" r="1.7"/><circle cx="446.60" cy="740.82" r="1.7"/><circle cx="457.05" cy="740.82" r="1.7"/><circle cx="467.50" cy="740.82" r="1.7"/><circle cx="477.95" cy="740.82" r="1.7"/><circle cx="488.40" cy="740.82" r="1.7"/><circle cx="498.85" cy="704.93" r="1.7"/><circle cx="509.30" cy="655.46" r="1.7"/><circle cx="519.75" cy="653.04" r="1.7"/><circle cx="530.20" cy="653.04" r="1.7"/></g>
<polyline points="415.25,740.82 425.70,740.82 436.15,740.82 446.60,740.82 457.05,740.82 467.50,740.82 477.95,726.95 488.40,709.78 498.85,708.62 509.30,708.62 519.75,708.62 530.20,708.62" fill="none" stroke="#a6a6a6" stroke-width="0.9" stroke-linejoin="round" stroke-dasharray="2.2 1.1"/>
<g fill="#a6a6a6"><circle cx="415.25" cy="740.82" r="1.7"/><circle cx="425.70" cy="740.82" r="1.7"/><circle cx="436.15" cy="740.82" r="1.7"/><circle cx="446.60" cy="740.82" r="1.7"/><circle cx="457.05" cy="740.82" r="1.7"/><circle cx="467.50" cy="740.82" r="1.7"/><circle cx="477.95" cy="726.95" r="1.7"/><circle cx="488.40" cy="709.78" r="1.7"/><circle cx="498.85" cy="708.62" r="1.7"/><circle cx="509.30" cy="708.62" r="1.7"/><circle cx="519.75" cy="708.62" r="1.7"/><circle cx="530.20" cy="708.62" r="1.7"/></g>
<polyline points="415.25,740.82 425.70,740.82 436.15,740.82 446.60,740.82 457.05,740.82 467.50,738.88 477.95,650.90 488.40,649.35 498.85,648.38 509.30,648.38 519.75,648.38 530.20,648.38" fill="none" stroke="#7030a0" stroke-width="0.9" stroke-linejoin="round"/>
<g fill="#7030a0"><circle cx="415.25" cy="740.82" r="1.7"/><circle cx="425.70" cy="740.82" r="1.7"/><circle cx="436.15" cy="740.82" r="1.7"/><circle cx="446.60" cy="740.82" r="1.7"/><circle cx="457.05" cy="740.82" r="1.7"/><circle cx="467.50" cy="738.88" r="1.7"/><circle cx="477.95" cy="650.90" r="1.7"/><circle cx="488.40" cy="649.35" r="1.7"/><circle cx="498.85" cy="648.38" r="1.7"/><circle cx="509.30" cy="648.38" r="1.7"/><circle cx="519.75" cy="648.38" r="1.7"/><circle cx="530.20" cy="648.38" r="1.7"/></g>
<polyline points="415.25,740.82 425.70,740.82 436.15,740.82 446.60,740.82 457.05,740.82 467.50,740.82 477.95,734.61 488.40,652.26 498.85,651.58 509.30,651.58 519.75,651.58 530.20,651.58" fill="none" stroke="#00b0f0" stroke-width="0.9" stroke-linejoin="round"/>
<g fill="#00b0f0"><circle cx="415.25" cy="740.82" r="1.7"/><circle cx="425.70" cy="740.82" r="1.7"/><circle cx="436.15" cy="740.82" r="1.7"/><circle cx="446.60" cy="740.82" r="1.7"/><circle cx="457.05" cy="740.82" r="1.7"/><circle cx="467.50" cy="740.82" r="1.7"/><circle cx="477.95" cy="734.61" r="1.7"/><circle cx="488.40" cy="652.26" r="1.7"/><circle cx="498.85" cy="651.58" r="1.7"/><circle cx="509.30" cy="651.58" r="1.7"/><circle cx="519.75" cy="651.58" r="1.7"/><circle cx="530.20" cy="651.58" r="1.7"/></g>
<polyline points="415.25,740.82 425.70,740.82 436.15,740.82 446.60,740.82 457.05,740.82 467.50,740.82 477.95,722.78 488.40,699.11 498.85,689.70 509.30,688.25 519.75,685.63 530.20,685.63" fill="none" stroke="#c55a11" stroke-width="0.9" stroke-linejoin="round"/>
<g fill="#c55a11"><circle cx="415.25" cy="740.82" r="1.7"/><circle cx="425.70" cy="740.82" r="1.7"/><circle cx="436.15" cy="740.82" r="1.7"/><circle cx="446.60" cy="740.82" r="1.7"/><circle cx="457.05" cy="740.82" r="1.7"/><circle cx="467.50" cy="740.82" r="1.7"/><circle cx="477.95" cy="722.78" r="1.7"/><circle cx="488.40" cy="699.11" r="1.7"/><circle cx="498.85" cy="689.70" r="1.7"/><circle cx="509.30" cy="688.25" r="1.7"/><circle cx="519.75" cy="685.63" r="1.7"/><circle cx="530.20" cy="685.63" r="1.7"/></g>
</g>
<g class="tk">
<text style="text-rendering:geometricPrecision" x="622.40" y="638.42" font-size="7.55" text-anchor="middle" fill="#000">DGRP_804 (15)</text>
<path d="M559.40 643.82V740.82H685.20" fill="none" stroke="#444" stroke-width="0.8"/>
<text x="556.40" y="743.12" font-size="6.5" text-anchor="end" fill="#333">0</text>
<text x="556.40" y="723.72" font-size="6.5" text-anchor="end" fill="#333">20</text>
<text x="556.40" y="704.32" font-size="6.5" text-anchor="end" fill="#333">40</text>
<text x="556.40" y="684.92" font-size="6.5" text-anchor="end" fill="#333">60</text>
<text x="556.40" y="665.52" font-size="6.5" text-anchor="end" fill="#333">80</text>
<text x="557.00" y="646.12" font-size="6.5" text-anchor="end" fill="#333">100</text>
<text x="564.25" y="749.42" font-size="6.5" text-anchor="middle" fill="#333">0</text>
<text x="585.15" y="749.42" font-size="6.5" text-anchor="middle" fill="#333">2</text>
<text x="606.05" y="749.42" font-size="6.5" text-anchor="middle" fill="#333">4</text>
<text x="626.95" y="749.42" font-size="6.5" text-anchor="middle" fill="#333">6</text>
<text x="647.85" y="749.42" font-size="6.5" text-anchor="middle" fill="#333">8</text>
<text x="668.75" y="749.42" font-size="6.5" text-anchor="middle" fill="#333">10</text>
<polyline points="564.25,740.82 574.70,740.82 585.15,740.82 595.60,740.82 606.05,740.82 616.50,740.82 626.95,740.82 637.40,708.42 647.85,701.54 658.30,700.37 668.75,700.37 679.20,700.37" fill="none" stroke="#000000" stroke-width="0.9" stroke-linejoin="round"/>
<g fill="#000000"><circle cx="564.25" cy="740.82" r="1.7"/><circle cx="574.70" cy="740.82" r="1.7"/><circle cx="585.15" cy="740.82" r="1.7"/><circle cx="595.60" cy="740.82" r="1.7"/><circle cx="606.05" cy="740.82" r="1.7"/><circle cx="616.50" cy="740.82" r="1.7"/><circle cx="626.95" cy="740.82" r="1.7"/><circle cx="637.40" cy="708.42" r="1.7"/><circle cx="647.85" cy="701.54" r="1.7"/><circle cx="658.30" cy="700.37" r="1.7"/><circle cx="668.75" cy="700.37" r="1.7"/><circle cx="679.20" cy="700.37" r="1.7"/></g>
<polyline points="564.25,740.82 574.70,740.82 585.15,740.82 595.60,740.82 606.05,740.82 616.50,740.82 626.95,740.82 637.40,740.82 647.85,734.42 658.30,726.75 668.75,713.95 679.20,713.95" fill="none" stroke="#ff0000" stroke-width="0.9" stroke-linejoin="round" stroke-dasharray="2.2 1.1"/>
<g fill="#ff0000"><circle cx="564.25" cy="740.82" r="1.7"/><circle cx="574.70" cy="740.82" r="1.7"/><circle cx="585.15" cy="740.82" r="1.7"/><circle cx="595.60" cy="740.82" r="1.7"/><circle cx="606.05" cy="740.82" r="1.7"/><circle cx="616.50" cy="740.82" r="1.7"/><circle cx="626.95" cy="740.82" r="1.7"/><circle cx="637.40" cy="740.82" r="1.7"/><circle cx="647.85" cy="734.42" r="1.7"/><circle cx="658.30" cy="726.75" r="1.7"/><circle cx="668.75" cy="713.95" r="1.7"/><circle cx="679.20" cy="713.95" r="1.7"/></g>
<polyline points="564.25,740.82 574.70,740.82 585.15,740.82 595.60,740.82 606.05,740.82 616.50,740.82 626.95,713.95 637.40,698.72 647.85,697.36 658.30,697.17 668.75,697.17 679.20,697.17" fill="none" stroke="#a6a6a6" stroke-width="0.9" stroke-linejoin="round" stroke-dasharray="2.2 1.1"/>
<g fill="#a6a6a6"><circle cx="564.25" cy="740.82" r="1.7"/><circle cx="574.70" cy="740.82" r="1.7"/><circle cx="585.15" cy="740.82" r="1.7"/><circle cx="595.60" cy="740.82" r="1.7"/><circle cx="606.05" cy="740.82" r="1.7"/><circle cx="616.50" cy="740.82" r="1.7"/><circle cx="626.95" cy="713.95" r="1.7"/><circle cx="637.40" cy="698.72" r="1.7"/><circle cx="647.85" cy="697.36" r="1.7"/><circle cx="658.30" cy="697.17" r="1.7"/><circle cx="668.75" cy="697.17" r="1.7"/><circle cx="679.20" cy="697.17" r="1.7"/></g>
<polyline points="564.25,740.82 574.70,740.82 585.15,740.82 595.60,740.82 606.05,740.82 616.50,737.62 626.95,679.52 637.40,673.70 647.85,671.95 658.30,671.95 668.75,671.95 679.20,671.95" fill="none" stroke="#7030a0" stroke-width="0.9" stroke-linejoin="round"/>
<g fill="#7030a0"><circle cx="564.25" cy="740.82" r="1.7"/><circle cx="574.70" cy="740.82" r="1.7"/><circle cx="585.15" cy="740.82" r="1.7"/><circle cx="595.60" cy="740.82" r="1.7"/><circle cx="606.05" cy="740.82" r="1.7"/><circle cx="616.50" cy="737.62" r="1.7"/><circle cx="626.95" cy="679.52" r="1.7"/><circle cx="637.40" cy="673.70" r="1.7"/><circle cx="647.85" cy="671.95" r="1.7"/><circle cx="658.30" cy="671.95" r="1.7"/><circle cx="668.75" cy="671.95" r="1.7"/><circle cx="679.20" cy="671.95" r="1.7"/></g>
<polyline points="564.25,740.82 574.70,740.82 585.15,740.82 595.60,740.82 606.05,740.82 616.50,740.82 626.95,698.33 637.40,669.43 647.85,667.10 658.30,667.10 668.75,667.10 679.20,667.10" fill="none" stroke="#00b0f0" stroke-width="0.9" stroke-linejoin="round"/>
<g fill="#00b0f0"><circle cx="564.25" cy="740.82" r="1.7"/><circle cx="574.70" cy="740.82" r="1.7"/><circle cx="585.15" cy="740.82" r="1.7"/><circle cx="595.60" cy="740.82" r="1.7"/><circle cx="606.05" cy="740.82" r="1.7"/><circle cx="616.50" cy="740.82" r="1.7"/><circle cx="626.95" cy="698.33" r="1.7"/><circle cx="637.40" cy="669.43" r="1.7"/><circle cx="647.85" cy="667.10" r="1.7"/><circle cx="658.30" cy="667.10" r="1.7"/><circle cx="668.75" cy="667.10" r="1.7"/><circle cx="679.20" cy="667.10" r="1.7"/></g>
<polyline points="564.25,740.82 574.70,740.82 585.15,740.82 595.60,740.82 606.05,740.82 616.50,740.82 626.95,728.21 637.40,679.90 647.85,675.05 658.30,671.17 668.75,671.17 679.20,671.17" fill="none" stroke="#c55a11" stroke-width="0.9" stroke-linejoin="round"/>
<g fill="#c55a11"><circle cx="564.25" cy="740.82" r="1.7"/><circle cx="574.70" cy="740.82" r="1.7"/><circle cx="585.15" cy="740.82" r="1.7"/><circle cx="595.60" cy="740.82" r="1.7"/><circle cx="606.05" cy="740.82" r="1.7"/><circle cx="616.50" cy="740.82" r="1.7"/><circle cx="626.95" cy="728.21" r="1.7"/><circle cx="637.40" cy="679.90" r="1.7"/><circle cx="647.85" cy="675.05" r="1.7"/><circle cx="658.30" cy="671.17" r="1.7"/><circle cx="668.75" cy="671.17" r="1.7"/><circle cx="679.20" cy="671.17" r="1.7"/></g>
</g>
<g class="tk">
<text style="text-rendering:geometricPrecision" x="324.40" y="767.50" font-size="7.55" text-anchor="middle" fill="#000">DGRP_310 (16)</text>
<path d="M261.40 772.90V869.90H387.20" fill="none" stroke="#444" stroke-width="0.8"/>
<text x="258.40" y="872.20" font-size="6.5" text-anchor="end" fill="#333">0</text>
<text x="258.40" y="852.80" font-size="6.5" text-anchor="end" fill="#333">20</text>
<text x="258.40" y="833.40" font-size="6.5" text-anchor="end" fill="#333">40</text>
<text x="258.40" y="814.00" font-size="6.5" text-anchor="end" fill="#333">60</text>
<text x="258.40" y="794.60" font-size="6.5" text-anchor="end" fill="#333">80</text>
<text x="259.00" y="775.20" font-size="6.5" text-anchor="end" fill="#333">100</text>
<text x="266.25" y="878.50" font-size="6.5" text-anchor="middle" fill="#333">0</text>
<text x="287.15" y="878.50" font-size="6.5" text-anchor="middle" fill="#333">2</text>
<text x="308.05" y="878.50" font-size="6.5" text-anchor="middle" fill="#333">4</text>
<text x="328.95" y="878.50" font-size="6.5" text-anchor="middle" fill="#333">6</text>
<text x="349.85" y="878.50" font-size="6.5" text-anchor="middle" fill="#333">8</text>
<text x="370.75" y="878.50" font-size="6.5" text-anchor="middle" fill="#333">10</text>
<polyline points="266.25,869.90 276.70,869.90 287.15,869.90 297.60,869.90 308.05,869.90 318.50,869.90 328.95,869.32 339.40,842.26 349.85,836.24 360.30,834.59 370.75,832.07 381.20,831.39" fill="none" stroke="#000000" stroke-width="0.9" stroke-linejoin="round"/>
<g fill="#000000"><circle cx="266.25" cy="869.90" r="1.7"/><circle cx="276.70" cy="869.90" r="1.7"/><circle cx="287.15" cy="869.90" r="1.7"/><circle cx="297.60" cy="869.90" r="1.7"/><circle cx="308.05" cy="869.90" r="1.7"/><circle cx="318.50" cy="869.90" r="1.7"/><circle cx="328.95" cy="869.32" r="1.7"/><circle cx="339.40" cy="842.26" r="1.7"/><circle cx="349.85" cy="836.24" r="1.7"/><circle cx="360.30" cy="834.59" r="1.7"/><circle cx="370.75" cy="832.07" r="1.7"/><circle cx="381.20" cy="831.39" r="1.7"/></g>
<polyline points="266.25,869.90 276.70,869.90 287.15,869.90 297.60,869.90 308.05,869.90 318.50,869.90 328.95,869.90 339.40,869.90 349.85,869.90 360.30,864.47 370.75,862.24 381.20,855.06" fill="none" stroke="#ff0000" stroke-width="0.9" stroke-linejoin="round" stroke-dasharray="2.2 1.1"/>
<g fill="#ff0000"><circle cx="266.25" cy="869.90" r="1.7"/><circle cx="276.70" cy="869.90" r="1.7"/><circle cx="287.15" cy="869.90" r="1.7"/><circle cx="297.60" cy="869.90" r="1.7"/><circle cx="308.05" cy="869.90" r="1.7"/><circle cx="318.50" cy="869.90" r="1.7"/><circle cx="328.95" cy="869.90" r="1.7"/><circle cx="339.40" cy="869.90" r="1.7"/><circle cx="349.85" cy="869.90" r="1.7"/><circle cx="360.30" cy="864.47" r="1.7"/><circle cx="370.75" cy="862.24" r="1.7"/><circle cx="381.20" cy="855.06" r="1.7"/></g>
<polyline points="266.25,869.90 276.70,869.90 287.15,869.90 297.60,869.90 308.05,869.90 318.50,869.90 328.95,850.50 339.40,833.53 349.85,823.73 360.30,822.66 370.75,819.46 381.20,819.46" fill="none" stroke="#a6a6a6" stroke-width="0.9" stroke-linejoin="round" stroke-dasharray="2.2 1.1"/>
<g fill="#a6a6a6"><circle cx="266.25" cy="869.90" r="1.7"/><circle cx="276.70" cy="869.90" r="1.7"/><circle cx="287.15" cy="869.90" r="1.7"/><circle cx="297.60" cy="869.90" r="1.7"/><circle cx="308.05" cy="869.90" r="1.7"/><circle cx="318.50" cy="869.90" r="1.7"/><circle cx="328.95" cy="850.50" r="1.7"/><circle cx="339.40" cy="833.53" r="1.7"/><circle cx="349.85" cy="823.73" r="1.7"/><circle cx="360.30" cy="822.66" r="1.7"/><circle cx="370.75" cy="819.46" r="1.7"/><circle cx="381.20" cy="819.46" r="1.7"/></g>
<polyline points="266.25,869.90 276.70,869.90 287.15,869.90 297.60,869.90 308.05,869.90 318.50,869.90 328.95,819.46 339.40,792.49 349.85,784.54 360.30,782.79 370.75,778.72 381.20,778.72" fill="none" stroke="#7030a0" stroke-width="0.9" stroke-linejoin="round"/>
<g fill="#7030a0"><circle cx="266.25" cy="869.90" r="1.7"/><circle cx="276.70" cy="869.90" r="1.7"/><circle cx="287.15" cy="869.90" r="1.7"/><circle cx="297.60" cy="869.90" r="1.7"/><circle cx="308.05" cy="869.90" r="1.7"/><circle cx="318.50" cy="869.90" r="1.7"/><circle cx="328.95" cy="819.46" r="1.7"/><circle cx="339.40" cy="792.49" r="1.7"/><circle cx="349.85" cy="784.54" r="1.7"/><circle cx="360.30" cy="782.79" r="1.7"/><circle cx="370.75" cy="778.72" r="1.7"/><circle cx="381.20" cy="778.72" r="1.7"/></g>
<polyline points="266.25,869.90 276.70,869.90 287.15,869.90 297.60,869.90 308.05,869.90 318.50,869.90 328.95,866.60 339.40,830.13 349.85,792.49 360.30,783.86 370.75,780.37 381.20,780.37" fill="none" stroke="#00b0f0" stroke-width="0.9" stroke-linejoin="round"/>
<g fill="#00b0f0"><circle cx="266.25" cy="869.90" r="1.7"/><circle cx="276.70" cy="869.90" r="1.7"/><circle cx="287.15" cy="869.90" r="1.7"/><circle cx="297.60" cy="869.90" r="1.7"/><circle cx="308.05" cy="869.90" r="1.7"/><circle cx="318.50" cy="869.90" r="1.7"/><circle cx="328.95" cy="866.60" r="1.7"/><circle cx="339.40" cy="830.13" r="1.7"/><circle cx="349.85" cy="792.49" r="1.7"/><circle cx="360.30" cy="783.86" r="1.7"/><circle cx="370.75" cy="780.37" r="1.7"/><circle cx="381.20" cy="780.37" r="1.7"/></g>
<polyline points="266.25,869.90 276.70,869.90 287.15,869.90 297.60,869.90 308.05,869.90 318.50,869.90 328.95,853.60 339.40,834.01 349.85,831.10 360.30,830.13 370.75,828.87 381.20,827.90" fill="none" stroke="#c55a11" stroke-width="0.9" stroke-linejoin="round"/>
<g fill="#c55a11"><circle cx="266.25" cy="869.90" r="1.7"/><circle cx="276.70" cy="869.90" r="1.7"/><circle cx="287.15" cy="869.90" r="1.7"/><circle cx="297.60" cy="869.90" r="1.7"/><circle cx="308.05" cy="869.90" r="1.7"/><circle cx="318.50" cy="869.90" r="1.7"/><circle cx="328.95" cy="853.60" r="1.7"/><circle cx="339.40" cy="834.01" r="1.7"/><circle cx="349.85" cy="831.10" r="1.7"/><circle cx="360.30" cy="830.13" r="1.7"/><circle cx="370.75" cy="828.87" r="1.7"/><circle cx="381.20" cy="827.90" r="1.7"/></g>
</g>
<g class="tk">
<text style="text-rendering:geometricPrecision" x="473.40" y="767.50" font-size="7.55" text-anchor="middle" fill="#000">DGRP_69 (17)</text>
<path d="M410.40 772.90V869.90H536.20" fill="none" stroke="#444" stroke-width="0.8"/>
<text x="407.40" y="872.20" font-size="6.5" text-anchor="end" fill="#333">0</text>
<text x="407.40" y="852.80" font-size="6.5" text-anchor="end" fill="#333">20</text>
<text x="407.40" y="833.40" font-size="6.5" text-anchor="end" fill="#333">40</text>
<text x="407.40" y="814.00" font-size="6.5" text-anchor="end" fill="#333">60</text>
<text x="407.40" y="794.60" font-size="6.5" text-anchor="end" fill="#333">80</text>
<text x="408.00" y="775.20" font-size="6.5" text-anchor="end" fill="#333">100</text>
<text x="415.25" y="878.50" font-size="6.5" text-anchor="middle" fill="#333">0</text>
<text x="436.15" y="878.50" font-size="6.5" text-anchor="middle" fill="#333">2</text>
<text x="457.05" y="878.50" font-size="6.5" text-anchor="middle" fill="#333">4</text>
<text x="477.95" y="878.50" font-size="6.5" text-anchor="middle" fill="#333">6</text>
<text x="498.85" y="878.50" font-size="6.5" text-anchor="middle" fill="#333">8</text>
<text x="519.75" y="878.50" font-size="6.5" text-anchor="middle" fill="#333">10</text>
<polyline points="415.25,869.90 425.70,869.90 436.15,869.90 446.60,869.90 457.05,869.90 467.50,869.90 477.95,862.24 488.40,821.40 498.85,802.49 509.30,795.02 519.75,794.63 530.20,794.24" fill="none" stroke="#000000" stroke-width="0.9" stroke-linejoin="round"/>
<g fill="#000000"><circle cx="415.25" cy="869.90" r="1.7"/><circle cx="425.70" cy="869.90" r="1.7"/><circle cx="436.15" cy="869.90" r="1.7"/><circle cx="446.60" cy="869.90" r="1.7"/><circle cx="457.05" cy="869.90" r="1.7"/><circle cx="467.50" cy="869.90" r="1.7"/><circle cx="477.95" cy="862.24" r="1.7"/><circle cx="488.40" cy="821.40" r="1.7"/><circle cx="498.85" cy="802.49" r="1.7"/><circle cx="509.30" cy="795.02" r="1.7"/><circle cx="519.75" cy="794.63" r="1.7"/><circle cx="530.20" cy="794.24" r="1.7"/></g>
<polyline points="415.25,869.90 425.70,869.90 436.15,869.90 446.60,869.90 457.05,869.90 467.50,869.90 477.95,869.90 488.40,866.41 498.85,847.11 509.30,825.57 519.75,825.57 530.20,811.22" fill="none" stroke="#ff0000" stroke-width="0.9" stroke-linejoin="round" stroke-dasharray="2.2 1.1"/>
<g fill="#ff0000"><circle cx="415.25" cy="869.90" r="1.7"/><circle cx="425.70" cy="869.90" r="1.7"/><circle cx="436.15" cy="869.90" r="1.7"/><circle cx="446.60" cy="869.90" r="1.7"/><circle cx="457.05" cy="869.90" r="1.7"/><circle cx="467.50" cy="869.90" r="1.7"/><circle cx="477.95" cy="869.90" r="1.7"/><circle cx="488.40" cy="866.41" r="1.7"/><circle cx="498.85" cy="847.11" r="1.7"/><circle cx="509.30" cy="825.57" r="1.7"/><circle cx="519.75" cy="825.57" r="1.7"/><circle cx="530.20" cy="811.22" r="1.7"/></g>
<polyline points="415.25,869.90 425.70,869.90 436.15,869.90 446.60,869.90 457.05,869.90 467.50,869.90 477.95,867.57 488.40,839.05 498.85,834.50 509.30,833.23 519.75,833.23 530.20,833.23" fill="none" stroke="#a6a6a6" stroke-width="0.9" stroke-linejoin="round" stroke-dasharray="2.2 1.1"/>
<g fill="#a6a6a6"><circle cx="415.25" cy="869.90" r="1.7"/><circle cx="425.70" cy="869.90" r="1.7"/><circle cx="436.15" cy="869.90" r="1.7"/><circle cx="446.60" cy="869.90" r="1.7"/><circle cx="457.05" cy="869.90" r="1.7"/><circle cx="467.50" cy="869.90" r="1.7"/><circle cx="477.95" cy="867.57" r="1.7"/><circle cx="488.40" cy="839.05" r="1.7"/><circle cx="498.85" cy="834.50" r="1.7"/><circle cx="509.30" cy="833.23" r="1.7"/><circle cx="519.75" cy="833.23" r="1.7"/><circle cx="530.20" cy="833.23" r="1.7"/></g>
<polyline points="415.25,869.90 425.70,869.90 436.15,869.90 446.60,869.90 457.05,869.90 467.50,869.90 477.95,844.20 488.40,830.13 498.85,827.51 509.30,827.22 519.75,827.22 530.20,827.22" fill="none" stroke="#7030a0" stroke-width="0.9" stroke-linejoin="round"/>
<g fill="#7030a0"><circle cx="415.25" cy="869.90" r="1.7"/><circle cx="425.70" cy="869.90" r="1.7"/><circle cx="436.15" cy="869.90" r="1.7"/><circle cx="446.60" cy="869.90" r="1.7"/><circle cx="457.05" cy="869.90" r="1.7"/><circle cx="467.50" cy="869.90" r="1.7"/><circle cx="477.95" cy="844.20" r="1.7"/><circle cx="488.40" cy="830.13" r="1.7"/><circle cx="498.85" cy="827.51" r="1.7"/><circle cx="509.30" cy="827.22" r="1.7"/><circle cx="519.75" cy="827.22" r="1.7"/><circle cx="530.20" cy="827.22" r="1.7"/></g>
<polyline points="415.25,869.90 425.70,869.90 436.15,869.90 446.60,869.90 457.05,869.90 467.50,869.90 477.95,869.61 488.40,838.86 498.85,826.54 509.30,820.43 519.75,820.43 530.20,815.19" fill="none" stroke="#00b0f0" stroke-width="0.9" stroke-linejoin="round"/>
<g fill="#00b0f0"><circle cx="415.25" cy="869.90" r="1.7"/><circle cx="425.70" cy="869.90" r="1.7"/><circle cx="436.15" cy="869.90" r="1.7"/><circle cx="446.60" cy="869.90" r="1.7"/><circle cx="457.05" cy="869.90" r="1.7"/><circle cx="467.50" cy="869.90" r="1.7"/><circle cx="477.95" cy="869.61" r="1.7"/><circle cx="488.40" cy="838.86" r="1.7"/><circle cx="498.85" cy="826.54" r="1.7"/><circle cx="509.30" cy="820.43" r="1.7"/><circle cx="519.75" cy="820.43" r="1.7"/><circle cx="530.20" cy="815.19" r="1.7"/></g>
<polyline points="415.25,869.90 425.70,869.90 436.15,869.90 446.60,869.90 457.05,869.90 467.50,869.90 477.95,850.21 488.40,810.25 498.85,799.87 509.30,794.24 519.75,794.24 530.20,791.52" fill="none" stroke="#c55a11" stroke-width="0.9" stroke-linejoin="round"/>
<g fill="#c55a11"><circle cx="415.25" cy="869.90" r="1.7"/><circle cx="425.70" cy="869.90" r="1.7"/><circle cx="436.15" cy="869.90" r="1.7"/><circle cx="446.60" cy="869.90" r="1.7"/><circle cx="457.05" cy="869.90" r="1.7"/><circle cx="467.50" cy="869.90" r="1.7"/><circle cx="477.95" cy="850.21" r="1.7"/><circle cx="488.40" cy="810.25" r="1.7"/><circle cx="498.85" cy="799.87" r="1.7"/><circle cx="509.30" cy="794.24" r="1.7"/><circle cx="519.75" cy="794.24" r="1.7"/><circle cx="530.20" cy="791.52" r="1.7"/></g>
</g>
<g class="tk">
<text style="text-rendering:geometricPrecision" x="622.40" y="767.50" font-size="7.55" text-anchor="middle" fill="#000">DGRP_832 (18)</text>
<path d="M559.40 772.90V869.90H685.20" fill="none" stroke="#444" stroke-width="0.8"/>
<text x="556.40" y="872.20" font-size="6.5" text-anchor="end" fill="#333">0</text>
<text x="556.40" y="852.80" font-size="6.5" text-anchor="end" fill="#333">20</text>
<text x="556.40" y="833.40" font-size="6.5" text-anchor="end" fill="#333">40</text>
<text x="556.40" y="814.00" font-size="6.5" text-anchor="end" fill="#333">60</text>
<text x="556.40" y="794.60" font-size="6.5" text-anchor="end" fill="#333">80</text>
<text x="557.00" y="775.20" font-size="6.5" text-anchor="end" fill="#333">100</text>
<text x="564.25" y="878.50" font-size="6.5" text-anchor="middle" fill="#333">0</text>
<text x="585.15" y="878.50" font-size="6.5" text-anchor="middle" fill="#333">2</text>
<text x="606.05" y="878.50" font-size="6.5" text-anchor="middle" fill="#333">4</text>
<text x="626.95" y="878.50" font-size="6.5" text-anchor="middle" fill="#333">6</text>
<text x="647.85" y="878.50" font-size="6.5" text-anchor="middle" fill="#333">8</text>
<text x="668.75" y="878.50" font-size="6.5" text-anchor="middle" fill="#333">10</text>
<polyline points="564.25,869.90 574.70,869.90 585.15,869.90 595.60,869.90 606.05,869.90 616.50,863.11 626.95,799.09 637.40,789.00 647.85,788.42 658.30,788.42 668.75,787.94 679.20,787.26" fill="none" stroke="#000000" stroke-width="0.9" stroke-linejoin="round"/>
<g fill="#000000"><circle cx="564.25" cy="869.90" r="1.7"/><circle cx="574.70" cy="869.90" r="1.7"/><circle cx="585.15" cy="869.90" r="1.7"/><circle cx="595.60" cy="869.90" r="1.7"/><circle cx="606.05" cy="869.90" r="1.7"/><circle cx="616.50" cy="863.11" r="1.7"/><circle cx="626.95" cy="799.09" r="1.7"/><circle cx="637.40" cy="789.00" r="1.7"/><circle cx="647.85" cy="788.42" r="1.7"/><circle cx="658.30" cy="788.42" r="1.7"/><circle cx="668.75" cy="787.94" r="1.7"/><circle cx="679.20" cy="787.26" r="1.7"/></g>
<polyline points="564.25,869.90 574.70,869.90 585.15,869.90 595.60,869.90 606.05,869.90 616.50,869.90 626.95,869.90 637.40,868.93 647.85,833.53 658.30,817.81 668.75,815.19 679.20,815.19" fill="none" stroke="#ff0000" stroke-width="0.9" stroke-linejoin="round" stroke-dasharray="2.2 1.1"/>
<g fill="#ff0000"><circle cx="564.25" cy="869.90" r="1.7"/><circle cx="574.70" cy="869.90" r="1.7"/><circle cx="585.15" cy="869.90" r="1.7"/><circle cx="595.60" cy="869.90" r="1.7"/><circle cx="606.05" cy="869.90" r="1.7"/><circle cx="616.50" cy="869.90" r="1.7"/><circle cx="626.95" cy="869.90" r="1.7"/><circle cx="637.40" cy="868.93" r="1.7"/><circle cx="647.85" cy="833.53" r="1.7"/><circle cx="658.30" cy="817.81" r="1.7"/><circle cx="668.75" cy="815.19" r="1.7"/><circle cx="679.20" cy="815.19" r="1.7"/></g>
<polyline points="564.25,869.90 574.70,869.90 585.15,869.90 595.60,869.90 606.05,869.90 616.50,868.25 626.95,844.68 637.40,839.44 647.85,838.86 658.30,838.08 668.75,837.41 679.20,836.73" fill="none" stroke="#a6a6a6" stroke-width="0.9" stroke-linejoin="round" stroke-dasharray="2.2 1.1"/>
<g fill="#a6a6a6"><circle cx="564.25" cy="869.90" r="1.7"/><circle cx="574.70" cy="869.90" r="1.7"/><circle cx="585.15" cy="869.90" r="1.7"/><circle cx="595.60" cy="869.90" r="1.7"/><circle cx="606.05" cy="869.90" r="1.7"/><circle cx="616.50" cy="868.25" r="1.7"/><circle cx="626.95" cy="844.68" r="1.7"/><circle cx="637.40" cy="839.44" r="1.7"/><circle cx="647.85" cy="838.86" r="1.7"/><circle cx="658.30" cy="838.08" r="1.7"/><circle cx="668.75" cy="837.41" r="1.7"/><circle cx="679.20" cy="836.73" r="1.7"/></g>
<polyline points="564.25,869.90 574.70,869.90 585.15,869.90 595.60,869.90 606.05,869.90 616.50,857.29 626.95,832.07 637.40,830.42 647.85,829.16 658.30,829.16 668.75,829.16 679.20,829.16" fill="none" stroke="#7030a0" stroke-width="0.9" stroke-linejoin="round"/>
<g fill="#7030a0"><circle cx="564.25" cy="869.90" r="1.7"/><circle cx="574.70" cy="869.90" r="1.7"/><circle cx="585.15" cy="869.90" r="1.7"/><circle cx="595.60" cy="869.90" r="1.7"/><circle cx="606.05" cy="869.90" r="1.7"/><circle cx="616.50" cy="857.29" r="1.7"/><circle cx="626.95" cy="832.07" r="1.7"/><circle cx="637.40" cy="830.42" r="1.7"/><circle cx="647.85" cy="829.16" r="1.7"/><circle cx="658.30" cy="829.16" r="1.7"/><circle cx="668.75" cy="829.16" r="1.7"/><circle cx="679.20" cy="829.16" r="1.7"/></g>
<polyline points="564.25,869.90 574.70,869.90 585.15,869.90 595.60,869.90 606.05,869.90 616.50,869.90 626.95,862.43 637.40,854.77 647.85,854.09 658.30,854.09 668.75,854.09 679.20,854.09" fill="none" stroke="#00b0f0" stroke-width="0.9" stroke-linejoin="round"/>
<g fill="#00b0f0"><circle cx="564.25" cy="869.90" r="1.7"/><circle cx="574.70" cy="869.90" r="1.7"/><circle cx="585.15" cy="869.90" r="1.7"/><circle cx="595.60" cy="869.90" r="1.7"/><circle cx="606.05" cy="869.90" r="1.7"/><circle cx="616.50" cy="869.90" r="1.7"/><circle cx="626.95" cy="862.43" r="1.7"/><circle cx="637.40" cy="854.77" r="1.7"/><circle cx="647.85" cy="854.09" r="1.7"/><circle cx="658.30" cy="854.09" r="1.7"/><circle cx="668.75" cy="854.09" r="1.7"/><circle cx="679.20" cy="854.09" r="1.7"/></g>
<polyline points="564.25,869.90 574.70,869.90 585.15,869.90 595.60,869.90 606.05,869.90 616.50,866.41 626.95,806.37 637.40,796.37 647.85,794.24 658.30,793.46 668.75,792.79 679.20,792.79" fill="none" stroke="#c55a11" stroke-width="0.9" stroke-linejoin="round"/>
<g fill="#c55a11"><circle cx="564.25" cy="869.90" r="1.7"/><circle cx="574.70" cy="869.90" r="1.7"/><circle cx="585.15" cy="869.90" r="1.7"/><circle cx="595.60" cy="869.90" r="1.7"/><circle cx="606.05" cy="869.90" r="1.7"/><circle cx="616.50" cy="866.41" r="1.7"/><circle cx="626.95" cy="806.37" r="1.7"/><circle cx="637.40" cy="796.37" r="1.7"/><circle cx="647.85" cy="794.24" r="1.7"/><circle cx="658.30" cy="793.46" r="1.7"/><circle cx="668.75" cy="792.79" r="1.7"/><circle cx="679.20" cy="792.79" r="1.7"/></g>
</g>
<text transform="translate(237.2,497.2) rotate(-90)" font-size="11.3" font-weight="bold" text-anchor="middle" fill="#000">Pupation %</text>
<text x="479.3" y="897.4" font-size="11.3" font-weight="bold" text-anchor="middle" fill="#000">dAEL</text>
</svg>
</body></html>
